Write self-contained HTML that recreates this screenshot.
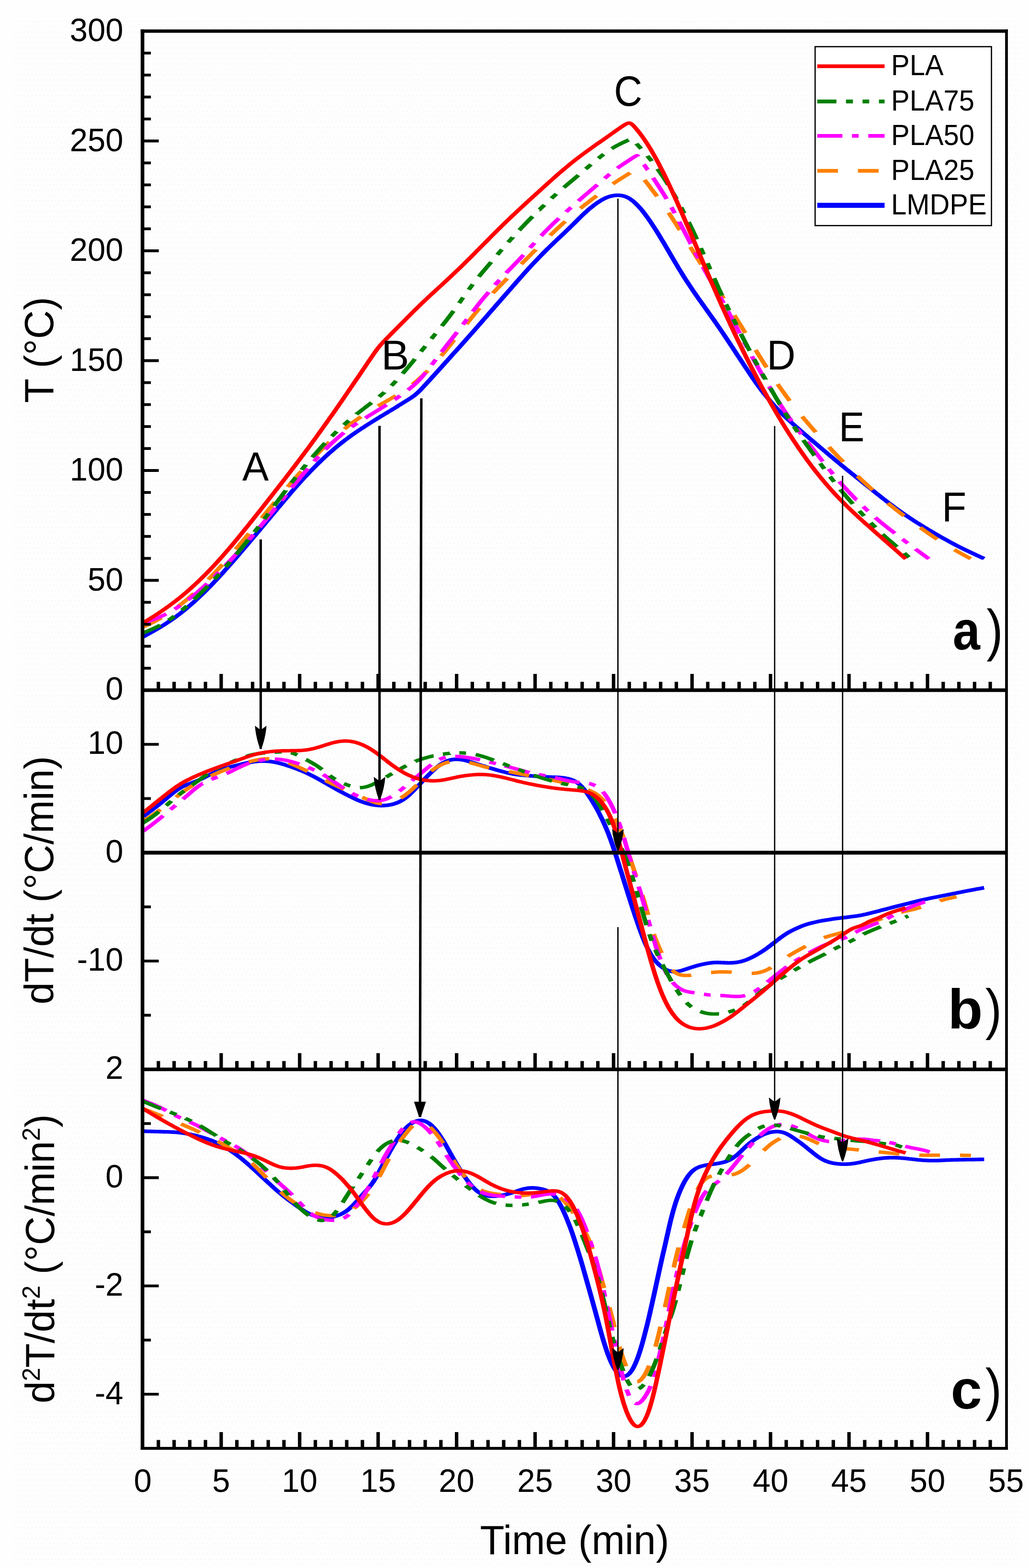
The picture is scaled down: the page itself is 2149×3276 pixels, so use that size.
<!DOCTYPE html>
<html lang="en">
<head>
<meta charset="utf-8">
<title>Temperature profiles</title>
<style>
html,body{margin:0;padding:0;background:#fff;}
body{width:2149px;height:3276px;overflow:hidden;font-family:"Liberation Sans",Arial,sans-serif;}
svg{display:block;}
</style>
</head>
<body>
<svg width="2149" height="3276" viewBox="0 0 2149 3276">
<defs>
<clipPath id="clipa"><path d="M297.6,65.0 H2102.0 V1169.6 H1500 V1442.0 H297.6 Z"/></clipPath>
<pattern id="dith" width="24.6" height="22" patternUnits="userSpaceOnUse">
<rect x="0" y="0" width="2.8" height="2.8" fill="#f9f6fa"/><rect x="8.2" y="0" width="2.8" height="2.8" fill="#f9f6fa"/><rect x="16.4" y="0" width="2.8" height="2.8" fill="#f9f6fa"/>
<rect x="4" y="11" width="2.8" height="2.8" fill="#f9f6fa"/><rect x="12.2" y="11" width="2.8" height="2.8" fill="#f9f6fa"/>
<rect x="20.4" y="6" width="2.8" height="2.8" fill="#f8fcf0"/>
</pattern>
<clipPath id="clipb"><rect x="297.6" y="1442.0" width="1804.4" height="792.3000000000002"/></clipPath>
<clipPath id="clipc"><rect x="297.6" y="2234.3" width="1804.4" height="791.6999999999998"/></clipPath>
</defs>
<rect width="2149" height="3276" fill="#fefefe"/>
<rect x="28" y="36" width="2102" height="3240" fill="url(#dith)"/>
<g clip-path="url(#clipa)"><g transform="scale(1.33,1)" fill="none" stroke-width="7.2" stroke-linejoin="round">
<path d="M224.5,1330.7 L226.0,1329.6 L227.5,1328.5 L229.0,1327.4 L230.5,1326.3 L232.0,1325.2 L233.5,1324.1 L235.0,1323.0 L236.5,1321.9 L238.0,1320.7 L239.5,1319.6 L241.1,1318.5 L242.6,1317.3 L244.1,1316.2 L245.6,1315.0 L247.1,1313.9 L248.6,1312.7 L250.1,1311.5 L251.6,1310.3 L253.1,1309.1 L254.6,1307.9 L256.1,1306.6 L257.6,1305.4 L259.1,1304.1 L260.6,1302.8 L262.1,1301.5 L263.6,1300.2 L265.1,1298.9 L266.6,1297.5 L268.1,1296.2 L269.6,1294.8 L271.1,1293.4 L272.6,1292.0 L274.1,1290.5 L275.6,1289.1 L277.1,1287.6 L278.6,1286.1 L280.2,1284.6 L281.7,1283.1 L283.2,1281.5 L284.7,1279.9 L286.2,1278.4 L287.7,1276.8 L289.2,1275.1 L290.7,1273.5 L292.2,1271.8 L293.7,1270.2 L295.2,1268.5 L296.7,1266.8 L298.2,1265.1 L299.7,1263.3 L301.2,1261.6 L302.7,1259.8 L304.2,1258.0 L305.7,1256.2 L307.2,1254.4 L308.7,1252.5 L310.2,1250.7 L311.7,1248.8 L313.2,1246.9 L314.7,1245.0 L316.2,1243.1 L317.7,1241.2 L319.2,1239.2 L320.8,1237.3 L322.3,1235.3 L323.8,1233.3 L325.3,1231.3 L326.8,1229.3 L328.3,1227.3 L329.8,1225.2 L331.3,1223.2 L332.8,1221.1 L334.3,1219.0 L335.8,1216.9 L337.3,1214.8 L338.8,1212.7 L340.3,1210.5 L341.8,1208.4 L343.3,1206.2 L344.8,1204.0 L346.3,1201.9 L347.8,1199.7 L349.3,1197.5 L350.8,1195.3 L352.3,1193.0 L353.8,1190.8 L355.3,1188.6 L356.8,1186.3 L358.3,1184.1 L359.8,1181.8 L361.4,1179.5 L362.9,1177.2 L364.4,1175.0 L365.9,1172.7 L367.4,1170.4 L368.9,1168.1 L370.4,1165.8 L371.9,1163.4 L373.4,1161.1 L374.9,1158.8 L376.4,1156.5 L377.9,1154.1 L379.4,1151.8 L380.9,1149.5 L382.4,1147.1 L383.9,1144.8 L385.4,1142.4 L386.9,1140.1 L388.4,1137.7 L389.9,1135.3 L391.4,1133.0 L392.9,1130.6 L394.4,1128.3 L395.9,1125.9 L397.4,1123.5 L398.9,1121.1 L400.5,1118.8 L402.0,1116.4 L403.5,1114.0 L405.0,1111.6 L406.5,1109.3 L408.0,1106.9 L409.5,1104.5 L411.0,1102.1 L412.5,1099.7 L414.0,1097.3 L415.5,1094.9 L417.0,1092.5 L418.5,1090.1 L420.0,1087.7 L421.5,1085.4 L423.0,1083.0 L424.5,1080.6 L426.0,1078.2 L427.5,1075.8 L429.0,1073.4 L430.5,1071.0 L432.0,1068.6 L433.5,1066.2 L435.0,1063.7 L436.5,1061.3 L438.0,1058.9 L439.5,1056.6 L441.1,1054.2 L442.6,1051.8 L444.1,1049.4 L445.6,1047.0 L447.1,1044.6 L448.6,1042.3 L450.1,1039.9 L451.6,1037.6 L453.1,1035.2 L454.6,1032.9 L456.1,1030.5 L457.6,1028.2 L459.1,1025.9 L460.6,1023.6 L462.1,1021.3 L463.6,1019.1 L465.1,1016.8 L466.6,1014.5 L468.1,1012.3 L469.6,1010.1 L471.1,1007.8 L472.6,1005.6 L474.1,1003.4 L475.6,1001.3 L477.1,999.1 L478.6,996.9 L480.2,994.8 L481.7,992.7 L483.2,990.6 L484.7,988.5 L486.2,986.4 L487.7,984.3 L489.2,982.2 L490.7,980.2 L492.2,978.2 L493.7,976.2 L495.2,974.2 L496.7,972.2 L498.2,970.2 L499.7,968.2 L501.2,966.3 L502.7,964.4 L504.2,962.4 L505.7,960.5 L507.2,958.7 L508.7,956.8 L510.2,954.9 L511.7,953.1 L513.2,951.3 L514.7,949.5 L516.2,947.7 L517.7,945.9 L519.2,944.1 L520.8,942.4 L522.3,940.7 L523.8,938.9 L525.3,937.2 L526.8,935.5 L528.3,933.9 L529.8,932.2 L531.3,930.6 L532.8,929.0 L534.3,927.4 L535.8,925.8 L537.3,924.2 L538.8,922.7 L540.3,921.1 L541.8,919.6 L543.3,918.1 L544.8,916.6 L546.3,915.1 L547.8,913.7 L549.3,912.2 L550.8,910.8 L552.3,909.3 L553.8,907.9 L555.3,906.5 L556.8,905.1 L558.3,903.8 L559.8,902.4 L561.4,901.0 L562.9,899.7 L564.4,898.3 L565.9,897.0 L567.4,895.7 L568.9,894.4 L570.4,893.1 L571.9,891.8 L573.4,890.5 L574.9,889.2 L576.4,887.9 L577.9,886.7 L579.4,885.4 L580.9,884.1 L582.4,882.9 L583.9,881.6 L585.4,880.4 L586.9,879.1 L588.4,877.9 L589.9,876.7 L591.4,875.4 L592.9,874.2 L594.4,873.0 L595.9,871.7 L597.4,870.5 L598.9,869.3 L600.5,868.1 L602.0,866.9 L603.5,865.7 L605.0,864.4 L606.5,863.2 L608.0,862.0 L609.5,860.8 L611.0,859.6 L612.5,858.4 L614.0,857.2 L615.5,856.0 L617.0,854.8 L618.5,853.6 L620.0,852.4 L621.5,851.2 L623.0,850.0 L624.5,848.5 L626.0,847.3 L627.5,846.1 L629.0,844.8 L630.5,843.6 L632.0,842.4 L633.5,841.2 L635.0,839.9 L636.5,838.7 L638.0,837.4 L639.5,836.2 L641.1,834.9 L642.6,833.6 L644.1,832.3 L645.6,831.0 L645.9,830.7 L646.2,830.4 L646.6,830.1 L647.0,829.7 L647.1,829.6 L647.4,829.4 L647.7,829.0 L648.1,828.7 L648.5,828.3 L648.6,828.2 L648.9,828.0 L649.2,827.6 L649.6,827.2 L650.0,826.9 L650.1,826.8 L650.4,826.5 L650.8,826.1 L651.1,825.7 L651.5,825.3 L651.6,825.3 L651.9,824.9 L652.3,824.5 L652.6,824.1 L653.0,823.7 L653.1,823.6 L653.4,823.3 L653.8,822.9 L654.1,822.4 L654.5,822.0 L654.6,821.9 L654.9,821.6 L655.3,821.1 L655.6,820.6 L656.0,820.2 L656.1,820.1 L656.4,819.7 L656.8,819.2 L657.1,818.8 L657.5,818.3 L657.6,818.2 L657.9,817.8 L658.3,817.3 L658.6,816.8 L659.0,816.3 L659.1,816.2 L659.4,815.8 L659.8,815.3 L660.2,814.8 L660.5,814.3 L660.6,814.2 L660.9,813.7 L661.3,813.2 L661.7,812.7 L662.0,812.2 L662.1,812.1 L662.4,811.7 L662.8,811.1 L663.2,810.6 L663.5,810.1 L663.6,810.0 L663.9,809.5 L664.3,809.0 L664.7,808.5 L665.0,807.9 L665.1,807.8 L665.4,807.4 L665.8,806.9 L666.2,806.3 L666.5,805.8 L666.6,805.7 L666.9,805.3 L667.3,804.7 L667.7,804.2 L668.0,803.6 L668.1,803.5 L668.4,803.1 L668.8,802.6 L669.2,802.0 L669.5,801.5 L669.6,801.4 L669.9,800.9 L670.3,800.4 L670.7,799.8 L671.1,799.3 L671.1,799.2 L671.4,798.7 L671.8,798.2 L672.2,797.7 L672.6,797.1 L672.6,797.0 L672.9,796.6 L673.3,796.0 L673.7,795.5 L674.1,794.9 L674.1,794.8 L674.4,794.4 L674.8,793.8 L675.2,793.3 L675.6,792.7 L675.6,792.6 L675.9,792.2 L676.3,791.6 L676.7,791.1 L677.1,790.5 L677.1,790.4 L677.4,790.0 L677.8,789.4 L678.2,788.9 L678.6,788.3 L678.6,788.2 L678.9,787.8 L679.3,787.2 L679.7,786.7 L680.1,786.1 L680.2,786.0 L680.5,785.6 L680.8,785.0 L681.2,784.5 L681.6,783.9 L681.7,783.8 L682.0,783.4 L682.3,782.8 L682.7,782.3 L683.1,781.7 L683.2,781.6 L683.5,781.2 L683.8,780.6 L684.2,780.1 L684.6,779.5 L684.7,779.4 L685.0,779.0 L685.3,778.4 L685.7,777.8 L686.1,777.3 L686.2,777.2 L686.5,776.7 L686.8,776.2 L687.2,775.6 L687.6,775.1 L687.7,775.0 L688.0,774.5 L688.3,774.0 L688.7,773.4 L689.1,772.9 L689.2,772.8 L689.5,772.3 L689.8,771.8 L690.2,771.2 L690.6,770.7 L690.7,770.5 L692.2,768.3 L693.7,766.1 L695.2,763.9 L696.7,761.7 L698.2,759.4 L699.7,757.2 L701.2,755.0 L702.7,752.8 L704.2,750.5 L705.7,748.3 L707.2,746.1 L708.7,743.9 L710.2,741.6 L711.7,739.4 L713.2,737.2 L714.7,735.1 L716.2,732.8 L717.7,730.6 L719.2,728.4 L720.8,726.1 L722.3,723.9 L723.8,721.7 L725.3,719.4 L726.8,717.2 L728.3,714.9 L729.8,712.7 L731.3,710.4 L732.8,708.2 L734.3,705.9 L735.8,703.7 L737.3,701.4 L738.8,699.2 L740.3,696.9 L741.8,694.6 L743.3,692.4 L744.8,690.1 L746.3,687.8 L747.8,685.5 L749.3,683.3 L750.8,681.0 L752.3,678.7 L753.8,676.4 L755.3,674.1 L756.8,671.8 L758.3,669.5 L759.8,667.2 L761.4,664.9 L762.9,662.6 L764.4,660.3 L765.9,658.0 L767.4,655.7 L768.9,653.4 L770.4,651.2 L771.9,648.9 L773.4,646.6 L774.9,644.3 L776.4,642.0 L777.9,639.7 L779.4,637.4 L780.9,635.2 L782.4,632.9 L783.9,630.6 L785.4,628.3 L786.9,626.0 L788.4,623.7 L789.9,621.5 L791.4,619.2 L792.9,616.9 L794.4,614.6 L795.9,612.3 L797.4,610.0 L798.9,607.7 L800.5,605.4 L802.0,603.1 L803.5,600.8 L805.0,598.5 L806.5,596.2 L808.0,594.0 L809.5,591.7 L811.0,589.4 L812.5,587.2 L814.0,584.9 L815.5,582.6 L817.0,580.4 L818.5,578.1 L820.0,575.9 L821.5,573.7 L823.0,571.4 L824.5,569.2 L826.0,567.0 L827.5,564.8 L829.0,562.6 L830.5,560.4 L832.0,558.2 L833.5,556.1 L835.0,553.9 L836.5,551.7 L838.0,549.6 L839.5,547.5 L841.1,545.4 L842.6,543.3 L844.1,541.2 L845.6,539.1 L847.1,537.0 L848.6,535.0 L850.1,532.9 L851.6,530.9 L853.1,528.9 L854.6,526.9 L856.1,524.9 L857.6,522.9 L859.1,520.9 L860.6,518.9 L862.1,517.0 L863.6,515.0 L865.1,513.1 L866.6,511.2 L868.1,509.3 L869.6,507.3 L871.1,505.4 L872.6,503.5 L874.1,501.6 L875.6,499.7 L877.1,497.8 L878.6,496.0 L880.2,494.1 L881.7,492.2 L883.2,490.3 L884.7,488.4 L886.2,486.5 L887.7,484.6 L889.2,482.7 L890.7,480.7 L892.2,478.8 L893.7,476.9 L895.2,474.9 L896.7,473.0 L898.2,471.0 L899.7,469.0 L901.2,467.1 L902.7,465.1 L904.2,463.1 L905.7,461.1 L907.2,459.1 L908.7,457.1 L910.2,455.2 L911.7,453.2 L913.2,451.2 L914.7,449.3 L916.2,447.4 L917.7,445.5 L919.2,443.7 L920.8,441.9 L922.3,440.1 L923.8,438.3 L925.3,436.6 L926.8,434.9 L928.3,433.3 L929.8,431.7 L931.3,430.2 L932.8,428.6 L934.3,427.1 L935.8,425.7 L937.3,424.3 L938.8,422.9 L940.3,421.6 L941.8,420.3 L943.3,419.1 L944.8,417.9 L946.3,416.8 L947.8,415.7 L949.3,414.7 L950.8,413.8 L952.3,412.9 L953.8,412.1 L955.3,411.4 L956.8,410.7 L958.3,410.1 L959.8,409.6 L961.4,409.2 L962.9,408.8 L964.4,408.5 L965.9,408.3 L967.4,408.1 L968.9,408.0 L970.4,408.0 L971.9,408.0 L973.4,408.2 L974.9,408.4 L976.4,408.7 L977.9,409.1 L979.4,409.6 L980.9,410.2 L982.4,410.9 L983.9,411.8 L985.4,412.7 L986.9,413.7 L988.4,414.9 L989.9,416.2 L991.4,417.6 L992.9,419.0 L994.4,420.6 L995.9,422.3 L997.4,424.2 L998.9,426.1 L1000.5,428.1 L1002.0,430.2 L1003.5,432.3 L1005.0,434.6 L1006.5,436.9 L1008.0,439.3 L1009.5,441.8 L1011.0,444.3 L1012.5,446.9 L1014.0,449.6 L1015.5,452.3 L1017.0,455.0 L1018.5,457.8 L1020.0,460.7 L1021.5,463.6 L1023.0,466.6 L1024.5,469.6 L1026.0,472.6 L1027.5,475.7 L1029.0,478.8 L1030.5,481.9 L1032.0,485.1 L1033.5,488.4 L1035.0,491.6 L1036.5,494.9 L1038.0,498.2 L1039.5,501.6 L1041.1,504.9 L1042.6,508.3 L1044.1,511.7 L1045.6,515.1 L1047.1,518.5 L1048.6,521.9 L1050.1,525.3 L1051.6,528.8 L1053.1,532.2 L1054.6,535.6 L1056.1,539.0 L1057.6,542.4 L1059.1,545.8 L1060.6,549.2 L1062.1,552.5 L1063.6,555.8 L1065.1,559.2 L1066.6,562.5 L1068.1,565.7 L1069.6,569.0 L1071.1,572.2 L1072.6,575.4 L1074.1,578.6 L1075.6,581.8 L1077.1,584.9 L1078.6,588.0 L1080.2,591.1 L1081.7,594.1 L1083.2,597.1 L1084.7,600.1 L1086.2,603.1 L1087.7,606.1 L1089.2,609.0 L1090.7,611.9 L1092.2,614.8 L1093.7,617.7 L1095.2,620.5 L1096.7,623.4 L1098.2,626.2 L1099.7,629.0 L1101.2,631.8 L1102.7,634.6 L1104.2,637.4 L1105.7,640.2 L1107.2,643.0 L1108.7,645.8 L1110.2,648.6 L1111.7,651.4 L1113.2,654.2 L1114.7,657.0 L1116.2,659.8 L1117.7,662.6 L1119.2,665.4 L1120.8,668.3 L1122.3,671.1 L1123.8,674.0 L1125.3,676.9 L1126.8,679.8 L1128.3,682.7 L1129.8,685.6 L1131.3,688.5 L1132.8,691.4 L1134.3,694.4 L1135.8,697.3 L1137.3,700.3 L1138.8,703.3 L1140.3,706.2 L1141.8,709.2 L1143.3,712.2 L1144.8,715.2 L1146.3,718.2 L1147.8,721.3 L1149.3,724.3 L1150.8,727.3 L1152.3,730.4 L1153.8,733.4 L1155.3,736.5 L1156.8,739.5 L1158.3,742.6 L1159.8,745.6 L1161.4,748.7 L1162.9,751.7 L1164.4,754.8 L1165.9,757.8 L1167.4,760.9 L1168.9,763.9 L1170.4,766.9 L1171.9,769.9 L1173.4,772.9 L1174.9,775.9 L1176.4,778.9 L1177.9,781.9 L1179.4,784.8 L1180.9,787.8 L1182.4,790.7 L1183.9,793.6 L1185.4,796.4 L1186.9,799.3 L1188.4,802.1 L1189.9,804.9 L1191.4,807.6 L1192.9,810.4 L1194.4,813.0 L1195.9,815.7 L1197.4,818.3 L1198.9,820.9 L1200.5,823.4 L1202.0,825.9 L1203.5,828.4 L1205.0,830.8 L1206.5,833.2 L1208.0,835.6 L1209.5,838.0 L1211.0,840.3 L1212.5,842.6 L1214.0,844.8 L1215.5,847.1 L1217.0,849.3 L1218.5,851.4 L1220.0,853.6 L1221.5,855.7 L1223.0,857.7 L1224.5,859.8 L1226.0,861.8 L1227.5,863.8 L1229.0,865.8 L1230.5,867.7 L1232.0,869.6 L1233.5,871.5 L1235.0,873.4 L1236.5,875.2 L1238.0,877.1 L1239.5,878.9 L1241.1,880.8 L1242.6,882.6 L1244.1,884.4 L1245.6,886.2 L1247.1,888.0 L1248.6,889.7 L1250.1,891.5 L1251.6,893.3 L1253.1,895.0 L1254.6,896.8 L1256.1,898.5 L1257.6,900.3 L1259.1,902.0 L1260.6,903.7 L1262.1,905.5 L1263.6,907.2 L1265.1,908.9 L1266.6,910.6 L1268.1,912.3 L1269.6,914.0 L1271.1,915.7 L1272.6,917.4 L1274.1,919.1 L1275.6,920.8 L1277.1,922.5 L1278.6,924.2 L1280.2,925.9 L1281.7,927.6 L1283.2,929.3 L1284.7,931.0 L1286.2,932.7 L1287.7,934.4 L1289.2,936.1 L1290.7,937.8 L1292.2,939.5 L1293.7,941.1 L1295.2,942.8 L1296.7,944.5 L1298.2,946.2 L1299.7,947.9 L1301.2,949.6 L1302.7,951.3 L1304.2,952.9 L1305.7,954.6 L1307.2,956.3 L1308.7,958.0 L1310.2,959.7 L1311.7,961.3 L1313.2,963.0 L1314.7,964.7 L1316.2,966.3 L1317.7,968.0 L1319.2,969.6 L1320.8,971.3 L1322.3,972.9 L1323.8,974.6 L1325.3,976.2 L1326.8,977.8 L1328.3,979.5 L1329.8,981.1 L1331.3,982.7 L1332.8,984.3 L1334.3,985.9 L1335.8,987.5 L1337.3,989.1 L1338.8,990.7 L1340.3,992.3 L1341.8,994.0 L1343.3,995.6 L1344.8,997.2 L1346.3,998.8 L1347.8,1000.4 L1349.3,1002.0 L1350.8,1003.6 L1352.3,1005.3 L1353.8,1006.9 L1355.3,1008.5 L1356.8,1010.1 L1358.3,1011.7 L1359.8,1013.3 L1361.4,1014.9 L1362.9,1016.5 L1364.4,1018.1 L1365.9,1019.7 L1367.4,1021.3 L1368.9,1022.9 L1370.4,1024.5 L1371.9,1026.1 L1373.4,1027.7 L1374.9,1029.3 L1376.4,1030.9 L1377.9,1032.5 L1379.4,1034.0 L1380.9,1035.6 L1382.4,1037.2 L1383.9,1038.7 L1385.4,1040.3 L1386.9,1041.9 L1388.4,1043.4 L1389.9,1044.9 L1391.4,1046.5 L1392.9,1048.0 L1394.4,1049.6 L1395.9,1051.1 L1397.4,1052.6 L1398.9,1054.1 L1400.5,1055.6 L1402.0,1057.1 L1403.5,1058.6 L1405.0,1060.1 L1406.5,1061.6 L1408.0,1063.1 L1409.5,1064.5 L1411.0,1066.0 L1412.5,1067.4 L1414.0,1068.8 L1415.5,1070.2 L1417.0,1071.7 L1418.5,1073.0 L1420.0,1074.4 L1421.5,1075.8 L1423.0,1077.2 L1424.5,1078.5 L1426.0,1079.9 L1427.5,1081.2 L1429.0,1082.5 L1430.5,1083.9 L1432.0,1085.2 L1433.5,1086.5 L1435.0,1087.8 L1436.5,1089.1 L1438.0,1090.3 L1439.5,1091.6 L1441.1,1092.9 L1442.6,1094.1 L1444.1,1095.4 L1445.6,1096.6 L1447.1,1097.9 L1448.6,1099.1 L1450.1,1100.3 L1451.6,1101.6 L1453.1,1102.8 L1454.6,1104.0 L1456.1,1105.2 L1457.6,1106.4 L1459.1,1107.6 L1460.6,1108.8 L1462.1,1110.0 L1463.6,1111.1 L1465.1,1112.3 L1466.6,1113.5 L1468.1,1114.7 L1469.6,1115.8 L1471.1,1117.0 L1472.6,1118.1 L1474.1,1119.3 L1475.6,1120.4 L1477.1,1121.6 L1478.6,1122.7 L1480.2,1123.9 L1481.7,1125.0 L1483.2,1126.1 L1484.7,1127.2 L1486.2,1128.3 L1487.7,1129.4 L1489.2,1130.5 L1490.7,1131.6 L1492.2,1132.7 L1493.7,1133.8 L1495.2,1134.8 L1496.7,1135.9 L1498.2,1137.0 L1499.7,1138.0 L1501.2,1139.1 L1502.7,1140.1 L1504.2,1141.1 L1505.7,1142.1 L1507.2,1143.1 L1508.7,1144.1 L1510.2,1145.1 L1511.7,1146.1 L1513.2,1147.1 L1514.7,1148.1 L1516.2,1149.1 L1517.7,1150.0 L1519.2,1151.0 L1520.8,1151.9 L1522.3,1152.9 L1523.8,1153.8 L1525.3,1154.8 L1526.8,1155.7 L1528.3,1156.7 L1529.8,1157.6 L1531.3,1158.5 L1532.8,1159.5 L1534.3,1160.4 L1535.8,1161.3 L1537.3,1162.2 L1538.8,1163.2 L1540.3,1164.1 L1541.8,1165.0 L1543.3,1165.9 L1544.8,1166.8 L1545.4,1167.2" stroke="#0000ff" stroke-width="7.6"/>
<path d="M224.5,1309.8 L226.0,1308.9 L227.5,1308.0 L229.0,1307.1 L230.5,1306.2 L232.0,1305.3 L233.5,1304.4 L235.0,1303.5 L236.5,1302.5 L238.0,1301.5 L239.5,1300.6 L241.1,1299.6 L242.6,1298.5 L244.1,1297.5 L245.6,1296.4 L247.1,1295.3 L248.6,1294.2 L250.1,1293.1 L251.6,1292.0 L253.1,1290.8 L253.5,1290.5 M279.6,1267.2 L280.2,1266.6 L281.7,1265.1 L283.2,1263.6 L284.7,1262.0 L286.2,1260.5 L287.7,1258.9 L289.2,1257.3 L290.7,1255.6 L292.2,1254.0 L293.7,1252.3 L295.2,1250.7 L296.7,1249.0 L298.2,1247.2 L299.7,1245.5 L301.2,1243.8 L302.7,1242.0 L304.2,1240.2 L304.6,1239.7 M327.1,1210.8 L328.3,1209.2 L329.8,1207.2 L331.3,1205.1 L332.8,1203.0 L334.3,1200.9 L335.8,1198.8 L337.3,1196.6 L338.8,1194.5 L340.3,1192.3 L341.8,1190.2 L343.3,1188.0 L344.8,1185.8 L346.3,1183.6 L347.8,1181.4 L349.3,1179.2 M369.9,1147.8 L370.4,1147.1 L371.9,1144.8 L373.4,1142.4 L374.9,1140.1 L376.4,1137.7 L377.9,1135.3 L379.4,1132.9 L380.9,1130.6 L382.4,1128.2 L383.9,1125.8 L385.4,1123.4 L386.9,1121.0 L388.4,1118.6 L389.9,1116.2 L390.8,1114.7 M410.8,1082.6 L411.0,1082.3 L412.5,1079.9 L414.0,1077.4 L415.5,1075.0 L417.0,1072.6 L418.5,1070.2 L420.0,1067.7 L421.5,1065.3 L423.0,1062.9 L424.5,1060.5 L426.0,1058.0 L427.5,1055.6 L429.0,1053.2 L430.5,1050.8 L431.5,1049.3 M451.7,1017.4 L453.1,1015.2 L454.6,1012.9 L456.1,1010.5 L457.6,1008.2 L459.1,1005.9 L460.6,1003.6 L462.1,1001.3 L463.6,999.0 L465.1,996.7 L466.6,994.4 L468.1,992.2 L469.6,989.9 L471.1,987.6 L472.6,985.4 L473.0,984.8 M494.2,954.1 L495.2,952.7 L496.7,950.6 L498.2,948.6 L499.7,946.5 L501.2,944.5 L502.7,942.4 L504.2,940.4 L505.7,938.4 L507.2,936.4 L508.7,934.5 L510.2,932.5 L511.7,930.6 L513.2,928.7 L514.7,926.8 L516.2,924.9 L517.3,923.6 M540.9,896.3 L541.8,895.3 L543.3,893.7 L544.8,892.1 L546.3,890.5 L547.8,889.0 L549.3,887.4 L550.8,885.9 L552.3,884.4 L553.8,882.9 L555.3,881.4 L556.8,880.0 L558.3,878.5 L559.8,877.1 L561.4,875.7 L562.9,874.3 L564.4,872.9 L565.9,871.5 L567.0,870.5 M593.5,848.3 L594.4,847.6 L595.9,846.4 L597.4,845.3 L598.9,844.1 L600.5,843.0 L602.0,841.8 L603.5,840.7 L605.0,839.5 L606.5,838.4 L608.0,837.3 L609.5,836.1 L611.0,835.0 L612.5,833.8 L614.0,832.7 L615.5,831.5 L617.0,830.4 L618.5,829.2 L620.0,828.0 L621.5,826.8 L621.6,826.7 M647.5,803.2 L648.6,802.1 L650.1,800.6 L651.6,798.9 L653.1,797.3 L654.6,795.6 L656.1,793.9 L657.6,792.2 L659.1,790.4 L660.6,788.6 L662.1,786.8 L663.6,784.9 L665.1,783.0 L666.6,781.1 L668.1,779.2 L669.6,777.2 L671.1,775.2 L671.7,774.4 M692.8,743.6 L693.7,742.1 L695.2,739.8 L696.7,737.4 L698.2,735.0 L699.7,732.6 L701.2,730.2 L702.7,727.7 L704.2,725.3 L705.7,722.8 L707.2,720.3 L708.7,717.8 L710.2,715.3 L711.7,712.8 L713.2,710.2 L713.3,710.1 M732.5,677.1 L732.8,676.6 L734.3,674.1 L735.8,671.5 L737.3,669.0 L738.8,666.6 L740.3,664.1 L741.8,661.6 L743.3,659.2 L744.8,656.7 L746.3,654.3 L747.8,651.9 L749.3,649.5 L750.8,647.1 L752.3,644.8 L753.0,643.7 M773.9,612.5 L774.9,611.1 L776.4,609.0 L777.9,606.9 L779.4,604.8 L780.9,602.7 L782.4,600.7 L783.9,598.6 L785.4,596.6 L786.9,594.6 L788.4,592.6 L789.9,590.6 L791.4,588.6 L792.9,586.5 L794.4,584.5 L795.9,582.5 L796.6,581.6 M818.5,551.8 L820.0,549.9 L821.5,547.9 L823.0,545.9 L824.5,543.9 L826.0,541.9 L827.5,539.9 L829.0,537.9 L830.5,535.9 L832.0,533.9 L833.5,531.9 L835.0,529.9 L836.5,527.9 L838.0,525.9 L839.5,523.9 L841.1,521.9 L841.5,521.3 M863.8,491.9 L865.1,490.2 L866.6,488.3 L868.1,486.4 L869.6,484.6 L871.1,482.7 L872.6,480.8 L874.1,479.0 L875.6,477.1 L877.1,475.2 L878.6,473.4 L880.2,471.5 L881.7,469.7 L883.2,467.8 L884.7,466.0 L886.2,464.2 L887.5,462.5 M911.3,435.4 L911.7,435.0 L913.2,433.4 L914.7,431.8 L916.2,430.2 L917.7,428.6 L919.2,427.1 L920.8,425.5 L922.3,424.0 L923.8,422.4 L925.3,420.9 L926.8,419.4 L928.3,417.8 L929.8,416.3 L931.3,414.8 L932.8,413.3 L934.3,411.7 L935.8,410.2 L937.0,408.9 M962.3,384.2 L962.9,383.7 L964.4,382.4 L965.9,381.0 L967.4,379.7 L968.9,378.4 L970.4,377.1 L971.9,375.8 L973.4,374.5 L974.4,373.6 L974.8,373.3 L974.9,373.3 L975.2,373.0 L975.6,372.7 L975.9,372.4 L976.3,372.1 L976.4,372.0 L976.7,371.8 L977.1,371.5 L977.4,371.1 L977.8,370.8 L977.9,370.8 L978.2,370.5 L978.6,370.2 L978.9,369.9 L979.3,369.6 L979.4,369.5 L979.7,369.3 L980.1,369.0 L980.5,368.7 L980.8,368.4 L980.9,368.3 L981.2,368.0 L981.6,367.7 L982.0,367.4 L982.3,367.1 L982.4,367.1 L982.7,366.8 L983.1,366.5 L983.5,366.2 L983.8,365.9 L983.9,365.8 L984.2,365.6 L984.6,365.3 L985.0,365.0 L985.3,364.7 L985.4,364.6 L985.7,364.4 L986.1,364.1 L986.5,363.8 L986.8,363.5 L986.9,363.4 L987.2,363.2 L987.6,362.9 L988.0,362.6 L988.3,362.3 L988.4,362.2 L988.7,362.0 L989.1,361.7 L989.5,361.4 L989.7,361.2 M1012.2,375.8 L1012.4,376.2 L1012.5,376.3 L1012.8,376.8 L1013.2,377.5 L1013.5,378.2 L1013.9,378.8 L1014.0,379.0 L1014.3,379.5 L1014.7,380.2 L1015.0,380.9 L1015.4,381.5 L1015.5,381.7 L1015.8,382.2 L1016.2,382.9 L1016.5,383.5 L1016.9,384.2 L1017.0,384.3 L1017.3,384.8 L1017.7,385.5 L1018.0,386.2 L1018.4,386.8 L1018.5,387.0 L1018.8,387.5 L1019.2,388.1 L1020.0,389.6 L1021.5,392.2 L1023.0,394.9 L1024.5,397.5 L1026.0,400.1 L1027.5,402.8 L1029.0,405.4 L1030.5,408.1 L1031.8,410.3 M1049.8,444.4 L1050.1,444.9 L1051.6,447.9 L1053.1,450.9 L1054.6,453.9 L1056.1,457.0 L1057.6,460.1 L1059.1,463.2 L1060.6,466.3 L1062.1,469.4 L1063.6,472.5 L1065.1,475.7 L1066.6,478.8 L1067.5,480.6 M1084.0,516.0 L1084.7,517.4 L1086.2,520.6 L1087.7,523.8 L1089.2,527.0 L1090.7,530.2 L1092.2,533.4 L1093.7,536.6 L1095.2,539.7 L1096.7,542.9 L1098.2,546.0 L1099.7,549.2 L1101.2,552.3 L1101.3,552.6 M1118.5,587.5 L1119.2,588.9 L1120.8,591.9 L1122.3,594.9 L1123.8,597.9 L1125.3,601.0 L1126.8,604.0 L1128.3,607.0 L1129.8,610.0 L1131.3,613.1 L1132.8,616.1 L1134.3,619.2 L1135.8,622.3 L1136.4,623.5 M1153.2,658.7 L1153.8,660.1 L1155.3,663.3 L1156.8,666.5 L1158.3,669.8 L1159.8,673.0 L1161.4,676.3 L1162.9,679.5 L1164.4,682.8 L1165.9,686.1 L1167.4,689.3 L1168.9,692.6 L1170.2,695.6 M1186.5,731.1 L1186.9,731.9 L1188.4,735.2 L1189.9,738.4 L1191.4,741.7 L1192.9,744.9 L1194.4,748.1 L1195.9,751.3 L1197.4,754.5 L1198.9,757.6 L1200.5,760.8 L1202.0,763.9 L1203.5,767.1 L1203.8,767.7 M1221.1,802.5 L1221.5,803.2 L1223.0,806.1 L1224.5,809.0 L1226.0,811.8 L1227.5,814.6 L1229.0,817.4 L1230.5,820.2 L1232.0,823.0 L1233.5,825.7 L1235.0,828.4 L1236.5,831.1 L1238.0,833.8 L1239.5,836.5 L1240.1,837.5 M1259.7,870.2 L1260.6,871.7 L1262.1,874.1 L1263.6,876.4 L1265.1,878.8 L1266.6,881.1 L1268.1,883.5 L1269.6,885.8 L1271.1,888.1 L1272.6,890.4 L1274.1,892.7 L1275.6,895.0 L1277.1,897.3 L1278.6,899.6 L1280.2,901.8 L1280.9,902.9 M1301.8,933.9 L1302.7,935.2 L1304.2,937.4 L1305.7,939.6 L1307.2,941.7 L1308.7,943.8 L1310.2,945.9 L1311.7,948.0 L1313.2,950.1 L1314.7,952.2 L1316.2,954.3 L1317.7,956.3 L1319.2,958.4 L1320.8,960.4 L1322.3,962.5 L1323.8,964.5 L1324.2,965.1 M1346.5,994.5 L1347.8,996.2 L1349.3,998.1 L1350.8,1000.0 L1352.3,1001.9 L1353.8,1003.8 L1355.3,1005.6 L1356.8,1007.5 L1358.3,1009.3 L1359.8,1011.2 L1361.4,1013.0 L1362.9,1014.8 L1364.4,1016.6 L1365.9,1018.4 L1367.4,1020.2 L1368.9,1022.0 L1370.4,1023.8 M1394.1,1051.1 L1394.4,1051.5 L1395.9,1053.2 L1397.4,1054.8 L1398.9,1056.4 L1400.5,1058.0 L1402.0,1059.6 L1403.5,1061.2 L1405.0,1062.8 L1406.5,1064.4 L1408.0,1065.9 L1409.5,1067.5 L1411.0,1069.0 L1412.5,1070.6 L1414.0,1072.1 L1415.5,1073.6 L1417.0,1075.1 L1418.5,1076.6 L1419.6,1077.7 M1445.0,1102.3 L1445.6,1102.8 L1447.1,1104.2 L1448.6,1105.7 L1450.1,1107.1 L1451.6,1108.5 L1453.1,1109.9 L1454.6,1111.3 L1456.1,1112.7 L1457.6,1114.0 L1459.1,1115.4 L1460.6,1116.8 L1462.1,1118.2 L1463.6,1119.5 L1465.1,1120.9 L1466.6,1122.2 L1468.1,1123.6 L1469.6,1124.9 L1471.1,1126.2 L1471.7,1126.8 M1498.5,1148.5 L1499.7,1149.4 L1501.2,1150.5 L1502.7,1151.6 L1504.2,1152.7 L1505.7,1153.9 L1507.2,1155.0 L1508.7,1156.1 L1510.2,1157.2 L1511.7,1158.3 L1513.2,1159.4 L1514.7,1160.5 L1516.2,1161.6 L1517.7,1162.7 L1519.2,1163.8 L1520.8,1164.9 L1522.3,1166.0 L1523.8,1167.1 L1524.3,1167.5" stroke="#ff8000"/>
<path d="M224.5,1302.0 L226.0,1301.4 L227.5,1300.7 L229.0,1300.0 L230.5,1299.3 L232.0,1298.6 L233.5,1297.9 L235.0,1297.2 L236.5,1296.5 L238.0,1295.8 L239.5,1295.1 L241.1,1294.3 L242.6,1293.6 L244.1,1292.8 L245.6,1292.0 L247.1,1291.2 L248.6,1290.3 L250.1,1289.5 L251.6,1288.6 L253.1,1287.7 L254.6,1286.8 L256.1,1285.9 L257.6,1284.9 L259.1,1283.9 L260.6,1282.9 L261.1,1282.6 M274.2,1272.7 L275.6,1271.6 L277.1,1270.3 L278.6,1269.0 L280.2,1267.7 L281.7,1266.4 L283.1,1265.1 M295.2,1253.3 L296.7,1251.8 L298.2,1250.3 L299.7,1248.7 L301.2,1247.1 L302.7,1245.4 L304.2,1243.8 L305.7,1242.1 L307.2,1240.5 L308.7,1238.8 L310.2,1237.1 L311.7,1235.3 L313.2,1233.6 L314.7,1231.9 L316.2,1230.1 L317.7,1228.3 L319.2,1226.5 L320.8,1224.7 L322.3,1222.9 L323.8,1221.1 L325.2,1219.2 M336.1,1205.5 L337.3,1204.0 L338.8,1202.0 L340.3,1200.0 L341.8,1198.0 L343.3,1196.0 L343.6,1195.6 M354.1,1181.3 L355.3,1179.6 L356.8,1177.5 L358.3,1175.4 L359.8,1173.3 L361.4,1171.2 L362.9,1169.1 L364.4,1166.9 L365.9,1164.8 L367.4,1162.6 L368.9,1160.5 L370.4,1158.3 L371.9,1156.1 L373.4,1154.0 L374.9,1151.8 L376.4,1149.6 L377.9,1147.4 L379.4,1145.2 L380.9,1142.9 L381.0,1142.8 M391.0,1127.8 L391.4,1127.1 L392.9,1124.8 L394.4,1122.5 L395.9,1120.1 L397.4,1117.8 L397.8,1117.2 M407.6,1101.9 L408.0,1101.2 L409.5,1098.8 L411.0,1096.4 L412.5,1094.0 L414.0,1091.6 L415.5,1089.2 L417.0,1086.7 L418.5,1084.3 L420.0,1081.8 L421.5,1079.4 L423.0,1076.9 L424.5,1074.5 L426.0,1072.0 L427.5,1069.6 L429.0,1067.1 L430.5,1064.6 L432.0,1062.2 L432.6,1061.3 M442.0,1045.7 L442.6,1044.8 L444.1,1042.3 L445.6,1039.8 L447.1,1037.4 L448.6,1034.9 L448.6,1034.8 M458.1,1019.2 L459.1,1017.6 L460.6,1015.2 L462.1,1012.7 L463.6,1010.3 L465.1,1007.9 L466.6,1005.4 L468.1,1003.0 L469.6,1000.6 L471.1,998.2 L472.6,995.8 L474.1,993.4 L475.6,991.0 L477.1,988.7 L478.6,986.3 L480.2,984.0 L481.7,981.6 L483.2,979.3 L483.4,978.9 M493.4,963.9 L493.7,963.4 L495.2,961.2 L496.7,959.0 L498.2,956.8 L499.7,954.7 L500.5,953.6 M510.9,939.1 L511.7,938.0 L513.2,936.0 L514.7,934.0 L516.2,932.0 L517.7,930.1 L519.2,928.2 L520.8,926.3 L522.3,924.4 L523.8,922.6 L525.3,920.8 L526.8,919.0 L528.3,917.2 L529.8,915.4 L531.3,913.7 L532.8,912.0 L534.3,910.3 L535.8,908.6 L537.3,907.0 L538.8,905.4 L540.2,903.9 M552.2,892.0 L552.3,891.9 L553.8,890.5 L555.3,889.1 L556.8,887.7 L558.3,886.4 L559.8,885.0 L560.9,884.1 M573.6,873.3 L574.9,872.3 L576.4,871.0 L577.9,869.8 L579.4,868.6 L580.9,867.3 L582.4,866.1 L583.9,864.9 L585.4,863.7 L586.9,862.4 L588.4,861.2 L589.9,860.0 L591.4,858.8 L592.9,857.6 L594.4,856.3 L595.9,855.1 L597.4,853.9 L598.9,852.6 L600.5,851.4 L602.0,850.1 L603.5,848.9 L605.0,847.6 L606.5,846.3 L607.2,845.7 M619.7,834.7 L620.0,834.5 L621.5,833.1 L623.0,831.7 L624.5,830.4 L626.0,829.0 L627.5,827.6 L628.4,826.8 M640.6,814.9 L641.1,814.4 L642.6,812.8 L644.1,811.2 L645.6,809.6 L647.1,807.9 L648.6,806.2 L650.1,804.4 L651.6,802.6 L653.1,800.8 L654.6,798.9 L656.1,796.9 L657.6,794.9 L659.1,792.8 L660.6,790.6 L662.1,788.4 L663.6,786.1 L665.1,783.8 L666.6,781.4 L668.1,779.0 L668.6,778.2 M677.9,762.4 L678.6,761.0 L680.2,758.4 L681.7,755.7 L683.2,753.1 L684.2,751.2 M693.4,735.3 L693.7,734.8 L695.2,732.2 L696.7,729.6 L698.2,727.1 L699.7,724.5 L701.2,722.0 L702.7,719.4 L704.2,716.9 L705.7,714.3 L707.2,711.8 L708.7,709.2 L710.2,706.7 L711.7,704.1 L713.2,701.6 L714.7,699.0 L716.2,696.5 L717.7,693.9 M726.9,678.1 L728.3,675.7 L729.8,673.1 L731.3,670.5 L732.8,667.8 L733.3,667.0 M742.4,651.0 L743.3,649.5 L744.8,646.9 L746.3,644.3 L747.8,641.8 L749.3,639.2 L750.8,636.7 L752.3,634.2 L753.8,631.7 L755.3,629.2 L756.8,626.8 L758.3,624.4 L759.8,621.9 L761.4,619.5 L762.9,617.2 L764.4,614.8 L765.9,612.5 L767.3,610.3 M777.2,595.3 L777.9,594.3 L779.4,592.1 L780.9,589.9 L782.4,587.8 L783.9,585.6 L784.4,585.0 M794.7,570.4 L795.9,568.8 L797.4,566.7 L798.9,564.7 L800.5,562.6 L802.0,560.6 L803.5,558.5 L805.0,556.4 L806.5,554.4 L808.0,552.3 L809.5,550.2 L811.0,548.2 L812.5,546.1 L814.0,544.0 L815.5,541.9 L817.0,539.8 L818.5,537.6 L820.0,535.5 L821.5,533.4 L822.1,532.6 M832.3,517.9 L833.5,516.0 L835.0,513.8 L836.5,511.6 L838.0,509.5 L839.4,507.5 M849.6,492.8 L850.1,492.2 L851.6,490.1 L853.1,488.0 L854.6,486.0 L856.1,483.9 L857.6,481.8 L859.1,479.8 L860.6,477.8 L862.1,475.8 L863.6,473.8 L865.1,471.9 L866.6,469.9 L868.1,468.0 L869.6,466.1 L871.1,464.3 L872.6,462.4 L874.1,460.6 L875.6,458.7 L877.1,456.9 L877.8,456.1 M889.0,442.7 L889.2,442.4 L890.7,440.6 L892.2,438.8 L893.7,437.0 L895.2,435.2 L896.7,433.4 L896.8,433.3 M908.1,420.0 L908.7,419.3 L910.2,417.5 L911.7,415.8 L913.2,414.1 L914.7,412.4 L916.2,410.7 L917.7,408.9 L919.2,407.2 L920.8,405.5 L922.3,403.8 L923.8,402.1 L925.3,400.4 L926.8,398.7 L928.3,397.0 L929.8,395.3 L931.3,393.6 L932.8,391.9 L934.3,390.2 L935.8,388.5 L937.3,386.8 L938.1,385.9 M949.5,372.8 L950.8,371.2 L952.3,369.5 L953.8,367.8 L955.3,366.1 L956.8,364.4 L957.5,363.7 M969.3,351.4 L970.4,350.4 L971.9,349.0 L973.4,347.6 L974.9,346.2 L976.4,344.9 L977.9,343.5 L979.3,342.3 L979.4,342.2 L979.7,342.0 L980.1,341.6 L980.5,341.3 L980.8,341.0 L980.9,340.9 L981.2,340.6 L981.6,340.3 L982.0,340.0 L982.3,339.6 L982.4,339.6 L982.7,339.3 L983.1,339.0 L983.5,338.7 L983.8,338.3 L983.9,338.3 L984.2,338.0 L984.6,337.7 L985.0,337.3 L985.3,337.0 L985.4,336.9 L985.7,336.7 L986.1,336.3 L986.5,336.0 L986.8,335.7 L986.9,335.6 L987.2,335.4 L987.6,335.0 L988.0,334.7 L988.3,334.4 L988.4,334.3 L988.7,334.0 L989.1,333.7 L989.5,333.4 L989.8,333.1 L989.9,333.0 L990.2,332.7 L990.6,332.4 L991.0,332.1 L991.4,331.8 L991.4,331.7 L991.7,331.4 L992.1,331.1 L992.5,330.8 L992.9,330.5 L992.9,330.4 L993.2,330.1 L993.6,329.8 L994.0,329.5 L994.4,329.2 L994.4,329.1 L994.7,328.9 L995.1,328.5 L995.5,328.2 L995.9,327.9 L995.9,327.9 L996.2,327.6 L996.6,327.3 L997.0,327.0 L997.4,326.7 L997.4,326.6 L997.7,326.4 L998.1,326.1 L998.5,325.9 L998.9,325.6 L998.9,325.6 L999.2,325.4 L999.6,325.3 L1000.0,325.2 L1000.4,325.2 L1000.5,325.2 L1000.8,325.3 L1001.1,325.5 L1001.5,325.9 L1001.9,326.4 L1002.0,326.5 L1002.3,327.0 L1002.4,327.2 M1011.1,343.5 L1011.3,343.8 L1011.7,344.6 L1012.0,345.3 L1012.4,346.0 L1012.5,346.2 L1012.8,346.7 L1013.2,347.5 L1013.5,348.2 L1013.9,348.9 L1014.0,349.1 L1014.3,349.7 L1014.7,350.4 L1015.0,351.1 L1015.4,351.8 L1015.5,352.0 L1015.8,352.6 L1016.2,353.3 L1016.5,354.0 L1016.9,354.8 L1017.0,354.9 L1017.1,355.0 M1025.5,371.6 L1026.0,372.5 L1027.5,375.5 L1029.0,378.5 L1030.5,381.5 L1032.0,384.6 L1033.5,387.6 L1035.0,390.7 L1036.5,393.8 L1038.0,396.9 L1039.5,400.1 L1041.1,403.3 L1042.6,406.5 L1044.1,409.8 L1045.6,413.1 L1046.8,415.8 M1054.3,433.1 L1054.6,433.7 L1056.1,437.3 L1057.6,440.9 L1059.1,444.6 L1059.4,445.4 M1066.6,463.0 L1066.6,463.2 L1068.1,466.9 L1069.6,470.7 L1071.1,474.6 L1072.6,478.4 L1074.1,482.2 L1075.6,486.1 L1077.1,490.0 L1078.6,493.8 L1080.2,497.7 L1081.7,501.6 L1083.2,505.5 L1084.7,509.4 L1084.8,509.6 M1091.7,527.4 L1092.2,528.6 L1093.7,532.4 L1095.2,536.2 L1096.6,539.8 M1103.8,557.4 L1104.2,558.5 L1105.7,562.1 L1107.2,565.8 L1108.7,569.4 L1110.2,572.9 L1111.7,576.5 L1113.2,580.0 L1114.7,583.6 L1116.2,587.1 L1117.7,590.6 L1119.2,594.1 L1120.8,597.5 L1122.3,601.0 L1123.2,603.1 M1130.7,620.5 L1131.3,621.9 L1132.8,625.4 L1134.3,629.0 L1135.8,632.5 L1135.8,632.7 M1143.1,650.2 L1143.3,650.7 L1144.8,654.4 L1146.3,658.2 L1147.8,661.9 L1149.3,665.6 L1150.8,669.4 L1152.3,673.2 L1153.8,677.0 L1155.3,680.8 L1156.8,684.6 L1158.3,688.4 L1159.8,692.2 L1161.4,696.0 L1161.6,696.6 M1168.6,714.3 L1168.9,715.0 L1170.4,718.7 L1171.9,722.5 L1173.4,726.3 L1173.5,726.7 M1180.7,744.3 L1180.9,744.9 L1182.4,748.6 L1183.9,752.3 L1185.4,756.0 L1186.9,759.6 L1188.4,763.2 L1189.9,766.8 L1191.4,770.4 L1192.9,773.9 L1194.4,777.4 L1195.9,780.9 L1197.4,784.4 L1198.9,787.9 L1200.0,790.1 M1207.6,807.4 L1208.0,808.1 L1209.5,811.4 L1211.0,814.7 L1212.5,818.0 L1213.1,819.3 M1221.1,836.3 L1221.5,837.2 L1223.0,840.4 L1224.5,843.5 L1226.0,846.6 L1227.5,849.7 L1229.0,852.7 L1230.5,855.8 L1232.0,858.8 L1233.5,861.8 L1235.0,864.8 L1236.5,867.8 L1238.0,870.7 L1239.5,873.6 L1241.1,876.5 L1242.6,879.3 L1242.9,880.0 M1251.9,896.1 L1253.1,898.3 L1254.6,900.9 L1256.1,903.5 L1257.6,906.0 L1258.3,907.2 M1267.6,922.9 L1268.1,923.8 L1269.6,926.3 L1271.1,928.8 L1272.6,931.4 L1274.1,933.9 L1275.6,936.5 L1277.1,939.0 L1278.6,941.6 L1280.2,944.2 L1281.7,946.7 L1283.2,949.3 L1284.7,951.8 L1286.2,954.4 L1287.7,956.9 L1289.2,959.5 L1290.7,962.0 L1292.0,964.2 M1301.4,979.8 L1302.7,981.9 L1304.2,984.3 L1305.7,986.7 L1307.2,989.2 L1308.1,990.6 M1317.9,1005.9 L1319.2,1008.0 L1320.8,1010.2 L1322.3,1012.5 L1323.8,1014.7 L1325.3,1016.9 L1326.8,1019.1 L1328.3,1021.2 L1329.8,1023.4 L1331.3,1025.5 L1332.8,1027.7 L1334.3,1029.8 L1335.8,1031.9 L1337.3,1033.9 L1338.8,1036.0 L1340.3,1038.1 L1341.8,1040.1 L1343.3,1042.2 L1344.8,1044.2 L1344.9,1044.2 M1355.5,1058.3 L1356.8,1060.0 L1358.3,1061.9 L1359.8,1063.8 L1361.4,1065.7 L1362.9,1067.6 L1363.2,1067.9 M1374.4,1081.4 L1374.9,1082.0 L1376.4,1083.7 L1377.9,1085.4 L1379.4,1087.0 L1380.9,1088.7 L1382.4,1090.4 L1383.9,1092.0 L1385.4,1093.6 L1386.9,1095.2 L1388.4,1096.8 L1389.9,1098.4 L1391.4,1100.0 L1392.9,1101.6 L1394.4,1103.1 L1395.9,1104.7 L1397.4,1106.3 L1398.9,1107.8 L1400.5,1109.4 L1402.0,1110.9 L1403.5,1112.5 L1405.0,1114.0 L1405.2,1114.2 M1417.0,1126.5 L1418.5,1127.9 L1420.0,1129.5 L1421.5,1131.0 L1423.0,1132.5 L1424.5,1134.1 L1425.4,1135.0 M1437.5,1147.0 L1438.0,1147.6 L1439.5,1149.1 L1441.1,1150.6 L1442.6,1152.0 L1444.1,1153.5 L1445.6,1155.0 L1447.1,1156.4 L1448.6,1157.9 L1450.1,1159.3 L1451.6,1160.8 L1453.1,1162.2 L1454.6,1163.7 L1456.1,1165.1 L1457.6,1166.6 L1458.6,1167.6" stroke="#ff00ff"/>
<path d="M224.5,1322.6 L226.0,1321.8 L227.5,1321.0 L229.0,1320.1 L230.5,1319.3 L232.0,1318.4 L233.5,1317.6 L235.0,1316.7 L236.5,1315.8 L238.0,1315.0 L239.5,1314.1 L241.1,1313.1 L242.6,1312.2 L244.1,1311.2 L245.6,1310.3 L247.1,1309.3 L248.6,1308.3 L250.1,1307.2 L251.6,1306.2 L251.8,1306.0 M264.8,1295.8 L265.1,1295.5 L266.6,1294.1 L268.1,1292.8 L269.6,1291.4 L271.1,1289.9 L272.6,1288.5 L273.7,1287.4 M285.5,1275.0 L286.2,1274.3 L287.7,1272.6 L289.2,1270.9 L290.7,1269.2 L292.2,1267.5 L293.5,1265.9 M304.8,1252.3 L305.7,1251.1 L307.2,1249.3 L308.7,1247.4 L310.2,1245.5 L311.7,1243.6 L313.2,1241.6 L314.7,1239.7 L316.2,1237.8 L317.7,1235.8 L319.2,1233.9 L320.8,1231.9 L322.3,1229.9 L323.8,1227.9 L325.3,1225.9 L326.4,1224.4 M336.9,1210.0 L337.3,1209.4 L338.8,1207.3 L340.3,1205.2 L341.8,1203.0 L343.3,1200.8 L344.3,1199.4 M354.3,1184.5 L355.3,1182.9 L356.8,1180.6 L358.3,1178.3 L359.8,1176.0 L361.2,1173.9 M371.0,1158.4 L371.9,1157.0 L373.4,1154.6 L374.9,1152.2 L376.4,1149.8 L377.9,1147.3 L379.4,1144.9 L380.9,1142.5 L382.4,1140.0 L383.9,1137.5 L385.4,1135.1 L386.9,1132.6 L388.4,1130.1 L389.9,1127.7 L390.1,1127.4 M399.4,1111.7 L400.5,1110.0 L402.0,1107.4 L403.5,1104.8 L405.0,1102.2 L406.1,1100.3 M415.2,1084.3 L415.5,1083.8 L417.0,1081.1 L418.5,1078.5 L420.0,1075.8 L421.5,1073.1 M430.6,1056.8 L432.0,1054.2 L433.5,1051.5 L435.0,1048.9 L436.5,1046.2 L438.0,1043.5 L439.5,1040.8 L441.1,1038.1 L442.6,1035.4 L444.1,1032.7 L445.6,1030.1 L447.1,1027.4 L448.6,1024.8 L448.6,1024.7 M457.7,1008.8 L459.1,1006.4 L460.6,1003.8 L462.1,1001.3 L463.6,998.7 L464.4,997.4 M473.8,981.7 L474.1,981.1 L475.6,978.7 L477.1,976.2 L478.6,973.8 L480.2,971.4 L480.4,970.9 M490.3,955.4 L490.7,954.8 L492.2,952.5 L493.7,950.2 L495.2,948.0 L496.7,945.7 L498.2,943.5 L499.7,941.2 L501.2,939.0 L502.7,936.8 L504.2,934.6 L505.7,932.5 L507.2,930.3 L508.7,928.2 L510.2,926.1 L510.5,925.7 M521.0,911.4 L522.3,909.8 L523.8,907.8 L525.3,905.9 L526.8,903.9 L528.3,902.0 L528.8,901.3 M539.9,887.7 L540.3,887.3 L541.8,885.5 L543.3,883.8 L544.8,882.0 L546.3,880.3 L547.8,878.6 L547.8,878.6 M559.7,865.6 L559.8,865.4 L561.4,863.8 L562.9,862.2 L564.4,860.7 L565.9,859.1 L567.4,857.6 L568.9,856.0 L570.4,854.5 L571.9,853.0 L573.4,851.4 L574.9,849.9 L576.4,848.4 L577.9,846.9 L579.4,845.4 L580.9,843.9 L582.4,842.4 L583.5,841.2 M595.3,828.9 L595.9,828.2 L597.4,826.5 L598.9,824.8 L600.5,823.1 L602.0,821.4 L603.5,819.7 L603.6,819.5 M614.6,805.8 L615.5,804.6 L617.0,802.6 L618.5,800.6 L620.0,798.5 L621.5,796.4 L621.9,795.8 M632.2,780.7 L633.5,778.6 L635.0,776.3 L636.5,774.0 L638.0,771.6 L639.5,769.3 L641.1,766.9 L642.6,764.5 L644.1,762.1 L645.6,759.7 L647.1,757.3 L648.6,754.8 L650.1,752.4 L651.5,750.0 M661.0,734.5 L662.1,732.7 L663.6,730.2 L665.1,727.8 L666.6,725.3 L667.9,723.3 M677.4,707.8 L678.6,705.8 L680.2,703.3 L681.7,700.9 L683.2,698.4 L684.1,697.0 M693.7,681.2 L695.2,678.8 L696.7,676.3 L698.2,673.8 L699.7,671.3 L701.2,668.8 L702.7,666.2 L704.2,663.6 L705.7,661.0 L707.2,658.4 L708.7,655.8 L710.2,653.1 L711.7,650.4 L712.2,649.6 M720.9,633.3 L722.3,630.9 L723.8,628.1 L725.3,625.2 L726.8,622.4 L727.3,621.5 M736.0,605.3 L737.3,603.0 L738.8,600.3 L740.3,597.7 L741.8,595.0 L742.3,594.1 M751.8,578.1 L752.3,577.3 L753.8,574.8 L755.3,572.4 L756.8,570.0 L758.3,567.7 L759.8,565.3 L761.4,562.9 L762.9,560.6 L764.4,558.2 L765.9,555.9 L767.4,553.6 L768.9,551.2 L770.4,548.9 L771.2,547.5 M780.9,532.3 L782.4,530.0 L783.9,527.7 L785.4,525.3 L786.9,523.0 L788.1,521.3 M798.0,506.2 L798.9,504.8 L800.5,502.5 L802.0,500.3 L803.5,498.1 L805.0,495.9 L805.0,495.8 M815.4,480.9 L815.5,480.8 L817.0,478.7 L818.5,476.5 L820.0,474.4 L821.5,472.4 L823.0,470.3 L824.5,468.2 L826.0,466.2 L827.5,464.1 L829.0,462.1 L830.5,460.0 L832.0,458.0 L833.5,456.0 L835.0,454.0 L836.4,452.2 M847.0,438.1 L847.1,438.1 L848.6,436.2 L850.1,434.2 L851.6,432.3 L853.1,430.4 L854.6,428.5 L854.9,428.1 M865.9,414.5 L866.6,413.6 L868.1,411.8 L869.6,410.0 L871.1,408.2 L872.6,406.4 L873.7,405.1 M885.3,391.7 L886.2,390.8 L887.7,389.1 L889.2,387.4 L890.7,385.7 L892.2,384.0 L893.7,382.3 L895.2,380.7 L896.7,379.0 L898.2,377.3 L899.7,375.7 L901.2,374.0 L902.7,372.3 L904.2,370.7 L905.7,369.0 L907.2,367.3 L908.3,366.0 M919.7,353.0 L920.8,351.9 L922.3,350.2 L923.8,348.4 L925.3,346.7 L926.8,345.1 L928.0,343.6 M939.6,330.9 L940.3,330.2 L941.8,328.6 L943.3,327.0 L944.8,325.4 L946.3,323.9 L947.8,322.4 L947.9,322.3 M960.5,310.6 L961.4,309.9 L962.9,308.6 L964.4,307.5 L965.9,306.3 L967.4,305.2 L967.7,305.0 L968.0,304.7 L968.4,304.5 L968.8,304.2 L968.9,304.1 L969.2,303.9 L969.5,303.7 L969.9,303.4 L970.3,303.1 L970.4,303.1 L970.7,302.9 L971.1,302.6 L971.4,302.4 L971.8,302.1 L971.9,302.1 L972.2,301.8 L972.6,301.6 L972.9,301.3 L973.3,301.1 L973.4,301.0 L973.7,300.8 L974.1,300.6 L974.4,300.3 L974.8,300.1 L974.9,300.0 L975.2,299.8 L975.6,299.6 L975.9,299.4 L976.3,299.1 L976.4,299.1 L976.7,298.9 L977.1,298.6 L977.4,298.4 L977.8,298.2 L977.9,298.1 L978.2,297.9 L978.6,297.7 L978.9,297.4 L979.3,297.2 L979.4,297.2 L979.7,297.0 L980.1,296.7 L980.5,296.5 L980.8,296.3 L980.9,296.2 L981.2,296.0 L981.6,295.8 L982.0,295.6 L982.3,295.3 L982.4,295.3 L982.7,295.1 L983.1,294.9 L983.5,294.7 L983.8,294.4 L983.9,294.4 L984.2,294.2 L984.6,294.0 L985.0,293.8 L985.3,293.5 L985.4,293.5 L985.7,293.3 L986.1,293.1 L986.5,292.9 L986.8,292.7 L986.9,292.6 L987.2,292.5 L987.2,292.5 M999.4,300.0 L999.6,300.4 L1000.0,300.9 L1000.4,301.5 L1000.5,301.6 L1000.8,302.0 L1001.1,302.6 L1001.5,303.1 L1001.9,303.7 L1002.0,303.8 L1002.3,304.2 L1002.6,304.8 L1003.0,305.3 L1003.4,305.8 L1003.5,306.0 L1003.8,306.4 L1004.1,306.9 L1004.5,307.5 L1004.9,308.0 L1005.0,308.1 L1005.3,308.6 L1005.6,309.1 L1006.0,309.7 L1006.4,310.2 L1006.5,310.4 L1006.7,310.7 M1016.7,325.7 L1017.0,326.3 L1018.5,328.6 L1020.0,331.1 L1021.5,333.5 L1023.0,336.0 L1023.3,336.6 M1032.5,352.8 L1033.5,354.8 L1035.0,357.6 L1036.5,360.4 L1038.0,363.3 L1039.5,366.3 L1041.1,369.2 L1042.6,372.3 L1044.1,375.3 L1045.6,378.4 L1047.1,381.5 L1048.6,384.7 L1049.2,386.1 M1057.0,403.2 L1057.6,404.5 L1059.1,408.0 L1060.6,411.4 L1062.1,415.0 L1062.4,415.8 M1069.6,433.3 L1071.1,437.1 L1072.6,440.9 L1074.1,444.8 L1074.5,445.7 M1081.3,464.0 L1081.7,464.8 L1083.2,468.9 L1084.7,473.1 L1086.2,477.3 L1087.7,481.5 L1089.2,485.8 L1090.7,490.0 L1092.2,494.3 L1093.7,498.7 L1094.2,500.1 M1100.4,518.3 L1101.2,520.7 L1102.7,525.2 L1104.2,529.6 L1104.9,531.6 M1111.0,549.9 L1111.7,552.2 L1113.2,556.7 L1114.7,561.3 L1115.2,562.7 M1121.4,581.3 L1122.3,583.9 L1123.8,588.4 L1125.3,592.9 L1126.8,597.3 L1128.3,601.8 L1129.8,606.1 L1131.3,610.5 L1132.8,614.8 L1133.8,617.7 M1140.2,635.8 L1140.3,636.0 L1141.8,640.2 L1143.3,644.3 L1144.8,648.4 L1145.0,648.8 M1151.6,666.8 L1152.3,668.7 L1153.8,672.6 L1155.3,676.6 L1156.3,679.3 M1163.3,697.4 L1164.4,700.3 L1165.9,704.1 L1167.4,708.0 L1168.9,711.9 L1170.4,715.7 L1171.9,719.5 L1173.4,723.4 L1174.9,727.1 L1176.4,730.9 L1177.2,732.9 M1184.3,750.5 L1185.4,753.2 L1186.9,756.9 L1188.4,760.5 L1189.5,763.2 M1196.9,780.7 L1197.4,782.1 L1198.9,785.6 L1200.5,789.2 L1202.0,792.7 L1202.0,792.9 M1209.6,810.6 L1211.0,813.8 L1212.5,817.2 L1214.0,820.7 L1215.5,824.1 L1217.0,827.6 L1218.5,831.0 L1220.0,834.4 L1221.5,837.8 L1223.0,841.1 L1224.5,844.5 L1224.8,845.1 M1232.6,862.2 L1233.5,864.1 L1235.0,867.2 L1236.5,870.4 L1238.0,873.5 L1238.5,874.4 M1246.7,891.1 L1247.1,891.8 L1248.6,894.8 L1250.1,897.7 L1251.6,900.6 L1252.6,902.7 M1261.4,919.4 L1262.1,920.7 L1263.6,923.5 L1265.1,926.3 L1266.6,929.1 L1268.1,931.9 L1269.6,934.6 L1271.1,937.4 L1272.6,940.2 L1274.1,942.9 L1275.6,945.7 L1277.1,948.4 L1278.6,951.2 L1279.0,951.8 M1287.9,968.0 L1289.2,970.4 L1290.7,973.1 L1292.2,975.8 L1293.7,978.5 L1294.3,979.7 M1303.4,995.6 L1304.2,997.0 L1305.7,999.6 L1307.2,1002.2 L1308.7,1004.7 L1309.9,1006.7 M1319.4,1022.5 L1320.8,1024.7 L1322.3,1027.1 L1323.8,1029.4 L1325.3,1031.8 L1326.8,1034.1 L1328.3,1036.4 L1329.8,1038.7 L1331.3,1041.0 L1332.8,1043.3 L1334.3,1045.6 L1335.8,1047.8 L1337.3,1050.0 L1338.8,1052.3 L1339.1,1052.8 M1349.3,1067.5 L1350.8,1069.6 L1352.3,1071.7 L1353.8,1073.8 L1355.3,1075.9 L1356.8,1078.0 L1356.8,1078.0 M1367.4,1092.2 L1368.9,1094.2 L1370.4,1096.2 L1371.9,1098.2 L1373.4,1100.2 L1374.8,1102.1 M1385.9,1116.2 L1386.9,1117.5 L1388.4,1119.3 L1389.9,1121.2 L1391.4,1123.0 L1392.9,1124.7 L1394.4,1126.5 L1395.9,1128.3 L1397.4,1130.0 L1398.9,1131.7 L1400.5,1133.5 L1402.0,1135.2 L1403.5,1136.9 L1405.0,1138.6 L1406.5,1140.3 L1408.0,1142.0 L1408.5,1142.6 M1419.9,1155.6 L1420.0,1155.8 L1421.5,1157.5 L1423.0,1159.3 L1424.5,1161.0 L1426.0,1162.8 L1427.3,1164.3" stroke="#008000"/>
<path d="M224.5,1301.7 L226.0,1300.4 L227.5,1299.2 L229.0,1297.9 L230.5,1296.7 L232.0,1295.4 L233.5,1294.2 L235.0,1292.9 L236.5,1291.7 L238.0,1290.4 L239.5,1289.1 L241.1,1287.9 L242.6,1286.6 L244.1,1285.3 L245.6,1284.0 L247.1,1282.7 L248.6,1281.4 L250.1,1280.0 L251.6,1278.7 L253.1,1277.4 L254.6,1276.0 L256.1,1274.6 L257.6,1273.2 L259.1,1271.9 L260.6,1270.4 L262.1,1269.0 L263.6,1267.6 L265.1,1266.2 L266.6,1264.7 L268.1,1263.2 L269.6,1261.7 L271.1,1260.2 L272.6,1258.7 L274.1,1257.2 L275.6,1255.7 L277.1,1254.1 L278.6,1252.6 L280.2,1251.0 L281.7,1249.4 L283.2,1247.8 L284.7,1246.1 L286.2,1244.5 L287.7,1242.8 L289.2,1241.2 L290.7,1239.5 L292.2,1237.8 L293.7,1236.1 L295.2,1234.3 L296.7,1232.6 L298.2,1230.8 L299.7,1229.0 L301.2,1227.3 L302.7,1225.4 L304.2,1223.6 L305.7,1221.8 L307.2,1219.9 L308.7,1218.1 L310.2,1216.2 L311.7,1214.3 L313.2,1212.4 L314.7,1210.4 L316.2,1208.5 L317.7,1206.5 L319.2,1204.6 L320.8,1202.6 L322.3,1200.6 L323.8,1198.5 L325.3,1196.5 L326.8,1194.5 L328.3,1192.4 L329.8,1190.3 L331.3,1188.2 L332.8,1186.1 L334.3,1184.0 L335.8,1181.9 L337.3,1179.7 L338.8,1177.5 L340.3,1175.4 L341.8,1173.2 L343.3,1171.0 L344.8,1168.8 L346.3,1166.5 L347.8,1164.3 L349.3,1162.0 L350.8,1159.7 L352.3,1157.5 L353.8,1155.2 L355.3,1152.9 L356.8,1150.5 L358.3,1148.2 L359.8,1145.9 L361.4,1143.5 L362.9,1141.2 L364.4,1138.8 L365.9,1136.4 L367.4,1134.0 L368.9,1131.6 L370.4,1129.2 L371.9,1126.8 L373.4,1124.4 L374.9,1121.9 L376.4,1119.5 L377.9,1117.0 L379.4,1114.6 L380.9,1112.1 L382.4,1109.7 L383.9,1107.2 L385.4,1104.7 L386.9,1102.3 L388.4,1099.8 L389.9,1097.3 L391.4,1094.8 L392.9,1092.3 L394.4,1089.8 L395.9,1087.3 L397.4,1084.8 L398.9,1082.3 L400.5,1079.7 L402.0,1077.2 L403.5,1074.7 L405.0,1072.2 L406.5,1069.6 L408.0,1067.1 L409.5,1064.6 L411.0,1062.0 L412.5,1059.5 L414.0,1057.0 L415.5,1054.4 L417.0,1051.9 L418.5,1049.3 L420.0,1046.8 L421.5,1044.2 L423.0,1041.7 L424.5,1039.2 L426.0,1036.6 L427.5,1034.1 L429.0,1031.5 L430.5,1029.0 L432.0,1026.4 L433.5,1023.8 L435.0,1021.3 L436.5,1018.7 L438.0,1016.2 L439.5,1013.6 L441.1,1011.0 L442.6,1008.4 L444.1,1005.9 L445.6,1003.3 L447.1,1000.7 L448.6,998.1 L450.1,995.5 L451.6,992.9 L453.1,990.3 L454.6,987.7 L456.1,985.1 L457.6,982.5 L459.1,979.9 L460.6,977.3 L462.1,974.7 L463.6,972.1 L465.1,969.4 L466.6,966.8 L468.1,964.2 L469.6,961.5 L471.1,958.9 L472.6,956.2 L474.1,953.5 L475.6,950.9 L477.1,948.2 L478.6,945.5 L480.2,942.8 L481.7,940.1 L483.2,937.4 L484.7,934.7 L486.2,932.0 L487.7,929.3 L489.2,926.6 L490.7,923.8 L492.2,921.1 L493.7,918.4 L495.2,915.6 L496.7,912.9 L498.2,910.1 L499.7,907.3 L501.2,904.6 L502.7,901.8 L504.2,899.0 L505.7,896.2 L507.2,893.4 L508.7,890.6 L510.2,887.8 L511.7,885.0 L513.2,882.2 L514.7,879.4 L516.2,876.6 L517.7,873.7 L519.2,870.9 L520.8,868.0 L522.3,865.2 L523.8,862.3 L525.3,859.5 L526.8,856.6 L528.3,853.7 L529.8,850.9 L531.3,848.0 L532.8,845.1 L534.3,842.2 L535.8,839.3 L537.3,836.4 L538.8,833.5 L540.3,830.6 L541.8,827.6 L543.3,824.7 L544.8,821.8 L546.3,818.9 L547.8,815.9 L549.3,813.0 L550.8,810.0 L552.3,807.1 L553.8,804.1 L555.3,801.3 L556.8,798.4 L558.3,795.4 L559.8,792.5 L561.4,789.5 L562.9,786.6 L564.4,783.6 L565.9,780.6 L567.4,777.7 L568.9,774.7 L570.4,771.7 L571.9,768.8 L573.4,765.8 L574.9,762.9 L576.4,759.9 L577.4,757.8 L577.8,757.1 L577.9,756.9 L578.2,756.4 L578.6,755.6 L578.9,754.9 L579.3,754.2 L579.4,754.0 L579.7,753.4 L580.1,752.7 L580.5,751.9 L580.8,751.2 L580.9,751.1 L581.2,750.5 L581.6,749.7 L582.0,749.0 L582.3,748.3 L582.4,748.1 L582.7,747.5 L583.1,746.8 L583.5,746.1 L583.8,745.4 L583.9,745.2 L584.2,744.6 L584.6,743.9 L585.0,743.2 L585.3,742.5 L585.4,742.3 L585.7,741.7 L586.1,741.0 L586.5,740.3 L586.8,739.6 L586.9,739.4 L587.2,738.9 L587.6,738.1 L588.0,737.4 L588.3,736.7 L588.4,736.6 L588.7,736.0 L589.1,735.3 L589.5,734.6 L589.8,733.9 L589.9,733.8 L590.2,733.2 L590.6,732.5 L591.0,731.8 L591.4,731.1 L591.4,731.0 L591.7,730.5 L592.1,729.8 L592.5,729.1 L592.9,728.5 L592.9,728.3 L593.2,727.8 L593.6,727.2 L594.0,726.5 L594.4,725.9 L594.4,725.8 L594.7,725.3 L595.1,724.7 L595.5,724.1 L595.9,723.5 L595.9,723.3 L596.2,722.9 L596.6,722.3 L597.0,721.7 L597.4,721.1 L597.4,721.0 L597.7,720.5 L598.1,720.0 L598.5,719.4 L598.9,718.9 L598.9,718.8 L599.2,718.3 L599.6,717.8 L600.0,717.2 L600.4,716.7 L600.5,716.6 L600.8,716.2 L601.1,715.6 L601.5,715.1 L601.9,714.6 L602.0,714.4 L602.3,714.0 L602.6,713.5 L603.0,713.0 L603.4,712.5 L603.5,712.3 L603.8,711.9 L604.1,711.4 L604.5,710.9 L604.9,710.4 L605.0,710.3 L605.3,709.9 L605.6,709.3 L606.0,708.8 L606.4,708.3 L606.5,708.2 L606.8,707.8 L607.1,707.3 L607.5,706.8 L607.9,706.3 L608.0,706.2 L608.3,705.8 L608.6,705.2 L609.0,704.7 L609.4,704.2 L609.5,704.1 L609.8,703.7 L610.2,703.2 L610.5,702.7 L610.9,702.2 L611.0,702.1 L611.3,701.7 L611.7,701.2 L612.0,700.7 L612.4,700.2 L612.5,700.1 L612.8,699.6 L613.2,699.1 L613.5,698.6 L613.9,698.1 L614.0,698.0 L614.3,697.6 L614.7,697.1 L615.0,696.6 L615.4,696.1 L615.5,696.0 L615.8,695.6 L616.2,695.1 L616.5,694.6 L616.9,694.1 L617.0,694.0 L617.3,693.6 L617.7,693.1 L618.0,692.6 L618.4,692.1 L618.5,692.0 L618.8,691.6 L619.2,691.0 L619.5,690.5 L619.9,690.0 L620.0,689.9 L620.3,689.5 L620.7,689.0 L621.1,688.5 L621.4,688.0 L621.5,687.9 L621.8,687.5 L622.2,687.0 L623.0,685.9 L624.5,683.9 L626.0,681.9 L627.5,679.8 L629.0,677.8 L630.5,675.8 L632.0,673.8 L633.5,671.8 L635.0,669.8 L636.5,667.8 L638.0,665.8 L639.5,663.7 L641.1,661.7 L642.6,659.7 L644.1,657.8 L645.6,655.6 L647.1,653.7 L648.6,651.7 L650.1,649.7 L651.6,647.7 L653.1,645.8 L654.6,643.8 L656.1,641.9 L657.6,639.9 L659.1,638.0 L660.6,636.1 L662.1,634.1 L663.6,632.2 L665.1,630.3 L666.6,628.4 L668.1,626.5 L669.6,624.7 L671.1,622.8 L672.6,620.9 L674.1,619.0 L675.6,617.2 L677.1,615.3 L678.6,613.5 L680.2,611.6 L681.7,609.8 L683.2,608.0 L684.7,606.1 L686.2,604.3 L687.7,602.5 L689.2,600.6 L690.7,598.8 L692.2,597.0 L693.7,595.2 L695.2,593.3 L696.7,591.5 L698.2,589.6 L699.7,587.8 L701.2,585.9 L702.7,584.1 L704.2,582.2 L705.7,580.4 L707.2,578.5 L708.7,576.6 L710.2,574.7 L711.7,572.8 L713.2,571.0 L714.7,569.0 L716.2,567.1 L717.7,565.2 L719.2,563.3 L720.8,561.4 L722.3,559.4 L723.8,557.5 L725.3,555.5 L726.8,553.6 L728.3,551.6 L729.8,549.7 L731.3,547.7 L732.8,545.7 L734.3,543.7 L735.8,541.7 L737.3,539.8 L738.8,537.8 L740.3,535.8 L741.8,533.8 L743.3,531.8 L744.8,529.8 L746.3,527.8 L747.8,525.7 L749.3,523.7 L750.8,521.7 L752.3,519.7 L753.8,517.7 L755.3,515.6 L756.8,513.6 L758.3,511.6 L759.8,509.6 L761.4,507.5 L762.9,505.5 L764.4,503.5 L765.9,501.5 L767.4,499.5 L768.9,497.4 L770.4,495.4 L771.9,493.4 L773.4,491.4 L774.9,489.4 L776.4,487.4 L777.9,485.4 L779.4,483.4 L780.9,481.4 L782.4,479.4 L783.9,477.5 L785.4,475.5 L786.9,473.5 L788.4,471.6 L789.9,469.6 L791.4,467.7 L792.9,465.7 L794.4,463.8 L795.9,461.9 L797.4,459.9 L798.9,458.0 L800.5,456.1 L802.0,454.2 L803.5,452.3 L805.0,450.4 L806.5,448.6 L808.0,446.7 L809.5,444.8 L811.0,442.9 L812.5,441.1 L814.0,439.2 L815.5,437.3 L817.0,435.5 L818.5,433.6 L820.0,431.8 L821.5,429.9 L823.0,428.1 L824.5,426.3 L826.0,424.4 L827.5,422.6 L829.0,420.8 L830.5,418.9 L832.0,417.1 L833.5,415.3 L835.0,413.4 L836.5,411.6 L838.0,409.8 L839.5,408.0 L841.1,406.2 L842.6,404.3 L844.1,402.5 L845.6,400.7 L847.1,398.9 L848.6,397.1 L850.1,395.3 L851.6,393.5 L853.1,391.6 L854.6,389.8 L856.1,388.0 L857.6,386.2 L859.1,384.4 L860.6,382.6 L862.1,380.8 L863.6,379.0 L865.1,377.3 L866.6,375.5 L868.1,373.7 L869.6,371.9 L871.1,370.1 L872.6,368.4 L874.1,366.6 L875.6,364.8 L877.1,363.1 L878.6,361.3 L880.2,359.6 L881.7,357.9 L883.2,356.2 L884.7,354.5 L886.2,352.8 L887.7,351.1 L889.2,349.4 L890.7,347.8 L892.2,346.1 L893.7,344.5 L895.2,342.8 L896.7,341.2 L898.2,339.6 L899.7,338.0 L901.2,336.4 L902.7,334.9 L904.2,333.3 L905.7,331.8 L907.2,330.2 L908.7,328.7 L910.2,327.2 L911.7,325.7 L913.2,324.2 L914.7,322.7 L916.2,321.2 L917.7,319.7 L919.2,318.3 L920.8,316.8 L922.3,315.3 L923.8,313.9 L925.3,312.4 L926.8,311.0 L928.3,309.6 L929.8,308.1 L931.3,306.7 L932.8,305.3 L934.3,303.9 L935.8,302.4 L937.3,301.0 L938.8,299.6 L940.3,298.4 L941.8,297.0 L943.3,295.6 L944.8,294.2 L946.3,292.8 L947.8,291.4 L949.3,290.0 L950.8,288.6 L952.3,287.1 L953.8,285.7 L955.3,284.3 L956.8,282.9 L958.3,281.5 L959.8,280.0 L961.4,278.6 L962.0,278.0 L962.4,277.6 L962.8,277.3 L962.9,277.2 L963.2,276.9 L963.5,276.6 L963.9,276.2 L964.3,275.9 L964.4,275.8 L964.7,275.5 L965.0,275.1 L965.4,274.8 L965.8,274.4 L965.9,274.4 L966.2,274.1 L966.5,273.7 L966.9,273.4 L967.3,273.0 L967.4,273.0 L967.7,272.7 L968.0,272.3 L968.4,272.0 L968.8,271.6 L968.9,271.5 L969.2,271.3 L969.5,270.9 L969.9,270.6 L970.3,270.2 L970.4,270.1 L970.7,269.9 L971.1,269.5 L971.4,269.2 L971.8,268.8 L971.9,268.7 L972.2,268.5 L972.6,268.1 L972.9,267.8 L973.3,267.4 L973.4,267.3 L973.7,267.1 L974.1,266.7 L974.4,266.4 L974.8,266.0 L974.9,266.0 L975.2,265.7 L975.6,265.4 L975.9,265.0 L976.3,264.7 L976.4,264.6 L976.7,264.4 L977.1,264.0 L977.4,263.7 L977.8,263.4 L977.9,263.3 L978.2,263.0 L978.6,262.7 L978.9,262.4 L979.3,262.1 L979.4,262.0 L979.7,261.7 L980.1,261.4 L980.5,261.1 L980.8,260.8 L980.9,260.8 L981.2,260.5 L981.6,260.2 L982.0,259.9 L982.3,259.7 L982.4,259.6 L982.7,259.4 L983.1,259.1 L983.5,258.9 L983.8,258.6 L983.9,258.6 L984.2,258.4 L984.6,258.2 L985.0,257.9 L985.3,257.8 L985.4,257.7 L985.7,257.6 L986.1,257.4 L986.5,257.3 L986.8,257.2 L986.9,257.2 L987.2,257.2 L987.6,257.1 L988.0,257.1 L988.3,257.2 L988.4,257.2 L988.7,257.2 L989.1,257.3 L989.5,257.5 L989.8,257.7 L989.9,257.7 L990.2,257.9 L990.6,258.2 L991.0,258.5 L991.4,258.8 L991.4,258.9 L991.7,259.2 L992.1,259.6 L992.5,260.0 L992.9,260.4 L992.9,260.5 L993.2,260.8 L993.6,261.3 L994.0,261.8 L994.4,262.3 L994.4,262.4 L994.7,262.8 L995.1,263.3 L995.5,263.8 L995.9,264.4 L995.9,264.5 L996.2,264.9 L996.6,265.5 L997.0,266.0 L997.4,266.6 L997.4,266.7 L997.7,267.1 L998.1,267.7 L998.5,268.3 L998.9,268.9 L998.9,269.0 L999.2,269.5 L999.6,270.1 L1000.0,270.7 L1000.4,271.3 L1000.5,271.4 L1000.8,271.9 L1001.1,272.5 L1001.5,273.1 L1001.9,273.7 L1002.0,273.8 L1002.3,274.3 L1002.6,275.0 L1003.0,275.6 L1003.4,276.2 L1003.5,276.4 L1003.8,276.9 L1004.1,277.5 L1004.5,278.2 L1004.9,278.8 L1005.0,279.0 L1005.3,279.5 L1005.6,280.1 L1006.0,280.8 L1006.4,281.5 L1006.5,281.6 L1006.8,282.1 L1008.0,284.3 L1009.5,287.1 L1011.0,289.9 L1012.5,292.8 L1014.0,295.8 L1015.5,298.8 L1017.0,301.9 L1018.5,305.1 L1020.0,308.3 L1021.5,311.6 L1023.0,315.0 L1024.5,318.4 L1026.0,321.9 L1027.5,325.4 L1029.0,329.0 L1030.5,332.4 L1032.0,336.2 L1033.5,339.9 L1035.0,343.8 L1036.5,347.7 L1038.0,351.6 L1039.5,355.6 L1041.1,359.6 L1042.6,363.6 L1044.1,367.7 L1045.6,371.9 L1047.1,376.0 L1048.6,380.2 L1050.1,384.4 L1051.6,388.7 L1053.1,393.0 L1054.6,397.3 L1056.1,401.6 L1057.6,406.0 L1059.1,410.3 L1060.6,414.8 L1062.1,419.2 L1063.6,423.6 L1065.1,428.1 L1066.6,432.6 L1068.1,437.1 L1069.6,441.7 L1071.1,446.2 L1072.6,450.8 L1074.1,455.4 L1075.6,460.0 L1077.1,464.6 L1078.6,469.3 L1080.2,473.9 L1081.7,478.6 L1083.2,483.2 L1084.7,487.9 L1086.2,492.6 L1087.7,497.3 L1089.2,502.0 L1090.7,506.7 L1092.2,511.4 L1093.7,516.1 L1095.2,520.8 L1096.7,525.6 L1098.2,530.3 L1099.7,535.0 L1101.2,539.7 L1102.7,544.4 L1104.2,549.1 L1105.7,553.8 L1107.2,558.5 L1108.7,563.2 L1110.2,567.8 L1111.7,572.5 L1113.2,577.2 L1114.7,581.8 L1116.2,586.4 L1117.7,591.1 L1119.2,595.7 L1120.8,600.3 L1122.3,604.9 L1123.8,609.4 L1125.3,614.0 L1126.8,618.5 L1128.3,623.0 L1129.8,627.5 L1131.3,632.0 L1132.8,636.5 L1134.3,641.0 L1135.8,645.4 L1137.3,649.8 L1138.8,654.2 L1140.3,658.6 L1141.8,663.0 L1143.3,667.3 L1144.8,671.7 L1146.3,676.0 L1147.8,680.3 L1149.3,684.6 L1150.8,688.8 L1152.3,693.0 L1153.8,697.3 L1155.3,701.5 L1156.8,705.7 L1158.3,709.8 L1159.8,714.0 L1161.4,718.1 L1162.9,722.2 L1164.4,726.3 L1165.9,730.4 L1167.4,734.4 L1168.9,738.5 L1170.4,742.5 L1171.9,746.5 L1173.4,750.5 L1174.9,754.4 L1176.4,758.4 L1177.9,762.3 L1179.4,766.2 L1180.9,770.1 L1182.4,773.9 L1183.9,777.8 L1185.4,781.6 L1186.9,785.4 L1188.4,789.2 L1189.9,792.9 L1191.4,796.7 L1192.9,800.4 L1194.4,804.1 L1195.9,807.8 L1197.4,811.5 L1198.9,815.2 L1200.5,818.8 L1202.0,822.4 L1203.5,826.0 L1205.0,829.6 L1206.5,833.2 L1208.0,836.7 L1209.5,840.3 L1211.0,843.8 L1212.5,847.3 L1214.0,850.8 L1215.5,854.2 L1217.0,857.7 L1218.5,861.1 L1220.0,864.5 L1221.5,867.9 L1223.0,871.2 L1224.5,874.6 L1226.0,877.9 L1227.5,881.2 L1229.0,884.5 L1230.5,887.7 L1232.0,891.0 L1233.5,894.2 L1235.0,897.4 L1236.5,900.5 L1238.0,903.7 L1239.5,906.8 L1241.1,909.9 L1242.6,913.0 L1244.1,916.1 L1245.6,919.2 L1247.1,922.2 L1248.6,925.2 L1250.1,928.2 L1251.6,931.1 L1253.1,934.1 L1254.6,937.0 L1256.1,939.9 L1257.6,942.8 L1259.1,945.7 L1260.6,948.5 L1262.1,951.3 L1263.6,954.1 L1265.1,956.9 L1266.6,959.7 L1268.1,962.4 L1269.6,965.1 L1271.1,967.8 L1272.6,970.5 L1274.1,973.2 L1275.6,975.8 L1277.1,978.4 L1278.6,981.0 L1280.2,983.6 L1281.7,986.1 L1283.2,988.6 L1284.7,991.2 L1286.2,993.6 L1287.7,996.1 L1289.2,998.6 L1290.7,1001.0 L1292.2,1003.4 L1293.7,1005.8 L1295.2,1008.1 L1296.7,1010.5 L1298.2,1012.8 L1299.7,1015.1 L1301.2,1017.4 L1302.7,1019.6 L1304.2,1021.9 L1305.7,1024.1 L1307.2,1026.3 L1308.7,1028.5 L1310.2,1030.7 L1311.7,1032.8 L1313.2,1035.0 L1314.7,1037.1 L1316.2,1039.2 L1317.7,1041.3 L1319.2,1043.4 L1320.8,1045.4 L1322.3,1047.5 L1323.8,1049.5 L1325.3,1051.5 L1326.8,1053.5 L1328.3,1055.5 L1329.8,1057.4 L1331.3,1059.4 L1332.8,1061.3 L1334.3,1063.3 L1335.8,1065.2 L1337.3,1067.1 L1338.8,1069.0 L1340.3,1070.9 L1341.8,1072.8 L1343.3,1074.6 L1344.8,1076.5 L1346.3,1078.3 L1347.8,1080.2 L1349.3,1082.0 L1350.8,1083.8 L1352.3,1085.7 L1353.8,1087.5 L1355.3,1089.3 L1356.8,1091.1 L1358.3,1092.9 L1359.8,1094.7 L1361.4,1096.5 L1362.9,1098.2 L1364.4,1100.0 L1365.9,1101.8 L1367.4,1103.6 L1368.9,1105.3 L1370.4,1107.1 L1371.9,1108.9 L1373.4,1110.6 L1374.9,1112.4 L1376.4,1114.1 L1377.9,1115.9 L1379.4,1117.7 L1380.9,1119.4 L1382.4,1121.2 L1383.9,1122.9 L1385.4,1124.7 L1386.9,1126.4 L1388.4,1128.2 L1389.9,1129.9 L1391.4,1131.7 L1392.9,1133.4 L1394.4,1135.2 L1395.9,1136.9 L1397.4,1138.7 L1398.9,1140.5 L1400.5,1142.2 L1402.0,1144.0 L1403.5,1145.7 L1405.0,1147.5 L1406.5,1149.3 L1408.0,1151.0 L1409.5,1152.8 L1411.0,1154.6 L1412.5,1156.3 L1414.0,1158.1 L1415.5,1159.9 L1417.0,1161.7 L1418.5,1163.4 L1420.0,1165.2 L1421.5,1167.0 L1422.2,1167.8" stroke="#ff0000"/>
</g></g>
<g clip-path="url(#clipb)"><g transform="scale(1.33,1)" fill="none" stroke-width="7.2" stroke-linejoin="round">
<path d="M225.0,1705.7 L226.5,1704.2 L228.0,1702.8 L229.5,1701.3 L231.0,1699.8 L232.5,1698.4 L234.0,1696.9 L235.5,1695.4 L237.0,1694.0 L238.5,1692.5 L240.0,1691.0 L241.5,1689.4 L243.0,1687.9 L244.5,1686.4 L246.0,1684.8 L247.5,1683.3 L249.0,1681.7 L250.5,1680.1 L252.0,1678.5 L253.5,1676.9 L255.1,1675.2 L256.6,1673.5 L258.1,1671.8 L259.6,1670.2 L261.1,1668.5 L262.6,1666.8 L264.1,1665.1 L265.6,1663.4 L267.1,1661.7 L268.6,1660.1 L270.1,1658.5 L271.6,1656.9 L273.1,1655.4 L274.6,1653.9 L276.1,1652.4 L277.6,1651.0 L279.1,1649.6 L280.6,1648.3 L282.1,1647.1 L283.6,1645.9 L285.1,1644.8 L286.6,1643.7 L288.1,1642.7 L289.6,1641.8 L291.1,1640.9 L292.6,1640.0 L294.1,1639.2 L295.7,1638.4 L297.2,1637.6 L298.7,1636.9 L300.2,1636.1 L301.7,1635.4 L303.2,1634.6 L304.7,1633.9 L306.2,1633.1 L307.7,1632.4 L309.2,1631.6 L310.7,1630.8 L312.2,1629.9 L313.7,1629.0 L315.2,1628.1 L316.7,1627.2 L318.2,1626.2 L319.7,1625.2 L321.2,1624.3 L322.7,1623.2 L324.2,1622.2 L325.7,1621.2 L327.2,1620.2 L328.7,1619.2 L330.2,1618.2 L331.7,1617.2 L333.2,1616.2 L334.8,1615.2 L336.3,1614.3 L337.8,1613.4 L339.3,1612.5 L340.8,1611.6 L342.3,1610.8 L343.8,1610.0 L345.3,1609.2 L346.8,1608.5 L348.3,1607.8 L349.8,1607.1 L351.3,1606.5 L352.8,1605.8 L354.3,1605.2 L355.8,1604.6 L357.3,1604.0 L358.8,1603.5 L360.3,1602.9 L361.8,1602.4 L363.3,1601.9 L364.8,1601.3 L366.3,1600.8 L367.8,1600.3 L369.3,1599.8 L370.8,1599.3 L372.3,1598.8 L373.8,1598.3 L375.4,1597.8 L376.9,1597.3 L378.4,1596.8 L379.9,1596.3 L381.4,1595.8 L382.9,1595.4 L384.4,1594.9 L385.9,1594.5 L387.4,1594.0 L388.9,1593.6 L390.4,1593.2 L391.9,1592.9 L393.4,1592.5 L394.9,1592.2 L396.4,1591.9 L397.9,1591.6 L399.4,1591.3 L400.9,1591.1 L402.4,1590.9 L403.9,1590.7 L405.4,1590.5 L406.9,1590.4 L408.4,1590.3 L409.9,1590.2 L411.4,1590.2 L412.9,1590.2 L414.4,1590.2 L416.0,1590.2 L417.5,1590.3 L419.0,1590.4 L420.5,1590.5 L422.0,1590.7 L423.5,1590.9 L425.0,1591.1 L426.5,1591.4 L428.0,1591.7 L429.5,1592.0 L431.0,1592.4 L432.5,1592.7 L434.0,1593.2 L435.5,1593.6 L437.0,1594.1 L438.5,1594.6 L440.0,1595.1 L441.5,1595.6 L443.0,1596.2 L444.5,1596.7 L446.0,1597.3 L447.5,1597.9 L449.0,1598.6 L450.5,1599.2 L452.0,1599.9 L453.5,1600.5 L455.1,1601.2 L456.6,1601.9 L458.1,1602.6 L459.6,1603.3 L461.1,1604.0 L462.6,1604.7 L464.1,1605.5 L465.6,1606.2 L467.1,1607.0 L468.6,1607.8 L470.1,1608.6 L471.6,1609.4 L473.1,1610.2 L474.6,1611.0 L476.1,1611.9 L477.6,1612.7 L479.1,1613.6 L480.6,1614.5 L482.1,1615.4 L483.6,1616.4 L485.1,1617.3 L486.6,1618.3 L488.1,1619.3 L489.6,1620.3 L491.1,1621.4 L492.6,1622.4 L494.1,1623.5 L495.7,1624.5 L497.2,1625.6 L498.7,1626.7 L500.2,1627.8 L501.7,1629.0 L503.2,1630.1 L504.7,1631.2 L506.2,1632.4 L507.7,1633.5 L509.2,1634.6 L510.7,1635.8 L512.2,1636.9 L513.7,1638.1 L515.2,1639.2 L516.7,1640.4 L518.2,1641.5 L519.7,1642.6 L521.2,1643.8 L522.7,1644.9 L524.2,1646.0 L525.7,1647.1 L527.2,1648.3 L528.7,1649.4 L530.2,1650.5 L531.7,1651.6 L533.2,1652.7 L534.8,1653.8 L536.3,1654.8 L537.8,1655.9 L539.3,1657.0 L540.8,1658.1 L542.3,1659.1 L543.8,1660.2 L545.3,1661.2 L546.8,1662.2 L548.3,1663.2 L549.8,1664.2 L551.3,1665.2 L552.8,1666.2 L554.3,1667.2 L555.8,1668.1 L557.3,1669.0 L558.8,1669.9 L560.3,1670.8 L561.8,1671.7 L563.3,1672.5 L564.8,1673.3 L566.3,1674.1 L567.8,1674.9 L569.3,1675.6 L570.8,1676.3 L572.3,1677.0 L573.8,1677.6 L575.4,1678.2 L576.9,1678.8 L578.4,1679.3 L579.9,1679.9 L581.4,1680.3 L582.9,1680.8 L584.4,1681.2 L585.9,1681.5 L587.4,1681.9 L588.9,1682.1 L590.4,1682.4 L591.9,1682.6 L593.4,1682.8 L594.9,1682.9 L596.4,1683.0 L597.9,1683.1 L599.4,1683.1 L600.9,1683.1 L602.4,1683.0 L603.9,1682.9 L605.4,1682.8 L606.9,1682.6 L608.4,1682.4 L609.9,1682.1 L611.4,1681.8 L612.9,1681.4 L614.4,1681.0 L616.0,1680.5 L617.5,1680.0 L619.0,1679.4 L620.5,1678.7 L622.0,1678.0 L623.5,1677.3 L625.0,1676.5 L626.5,1675.6 L628.0,1674.6 L629.5,1673.5 L631.0,1672.4 L632.5,1671.2 L634.0,1669.9 L635.5,1668.5 L637.0,1667.0 L638.5,1665.4 L640.0,1663.8 L641.5,1662.0 L643.0,1660.2 L644.5,1658.4 L646.0,1656.5 L647.5,1654.5 L649.0,1652.5 L650.5,1650.5 L652.0,1648.4 L653.5,1646.3 L655.1,1644.2 L656.6,1642.0 L658.1,1639.9 L659.6,1637.7 L661.1,1635.6 L662.6,1633.4 L664.1,1631.3 L665.6,1629.2 L667.1,1627.1 L668.6,1625.1 L670.1,1623.0 L671.6,1621.0 L673.1,1619.0 L674.6,1617.0 L676.1,1615.0 L677.6,1613.1 L679.1,1611.2 L680.6,1609.3 L682.1,1607.5 L683.6,1605.7 L685.1,1603.9 L686.6,1602.3 L688.1,1600.7 L689.6,1599.2 L691.1,1597.7 L692.6,1596.4 L694.1,1595.1 L695.7,1593.9 L697.2,1592.8 L698.7,1591.8 L700.2,1590.9 L701.7,1590.1 L703.2,1589.3 L704.7,1588.7 L706.2,1588.1 L707.7,1587.6 L709.2,1587.2 L710.7,1586.9 L712.2,1586.7 L713.7,1586.5 L715.2,1586.4 L716.7,1586.4 L718.2,1586.4 L719.7,1586.5 L721.2,1586.7 L722.7,1586.9 L724.2,1587.1 L725.7,1587.5 L727.2,1587.8 L728.7,1588.2 L730.2,1588.7 L731.7,1589.2 L733.2,1589.7 L734.8,1590.2 L736.3,1590.8 L737.8,1591.4 L739.3,1592.0 L740.8,1592.6 L742.3,1593.2 L743.8,1593.9 L745.3,1594.5 L746.8,1595.2 L748.3,1595.9 L749.8,1596.5 L751.3,1597.2 L752.8,1597.8 L754.3,1598.4 L755.8,1599.1 L757.3,1599.7 L758.8,1600.3 L760.3,1600.9 L761.8,1601.5 L763.3,1602.2 L764.8,1602.8 L766.3,1603.4 L767.8,1604.0 L769.3,1604.6 L770.8,1605.2 L772.3,1605.7 L773.8,1606.3 L775.4,1606.9 L776.9,1607.5 L778.4,1608.1 L779.9,1608.6 L781.4,1609.2 L782.9,1609.8 L784.4,1610.3 L785.9,1610.9 L787.4,1611.4 L788.9,1612.0 L790.4,1612.5 L791.9,1613.0 L793.4,1613.5 L794.9,1614.0 L796.4,1614.5 L797.9,1614.9 L799.4,1615.3 L800.9,1615.8 L802.4,1616.2 L803.9,1616.6 L805.4,1616.9 L806.9,1617.3 L808.4,1617.6 L809.9,1617.9 L811.4,1618.2 L812.9,1618.4 L814.4,1618.7 L816.0,1618.9 L817.5,1619.2 L819.0,1619.4 L820.5,1619.6 L822.0,1619.8 L823.5,1619.9 L825.0,1620.1 L826.5,1620.3 L828.0,1620.4 L829.5,1620.6 L831.0,1620.7 L832.5,1620.9 L834.0,1621.0 L835.5,1621.2 L837.0,1621.3 L838.5,1621.5 L840.0,1621.6 L841.5,1621.8 L843.0,1621.9 L844.5,1622.1 L846.0,1622.2 L847.5,1622.3 L849.0,1622.5 L850.5,1622.6 L852.0,1622.7 L853.5,1622.9 L855.1,1623.0 L856.6,1623.1 L858.1,1623.2 L859.6,1623.3 L861.1,1623.4 L862.6,1623.5 L864.1,1623.6 L865.6,1623.6 L867.1,1623.7 L868.6,1623.7 L870.1,1623.8 L871.6,1623.9 L873.1,1624.0 L874.6,1624.0 L876.1,1624.1 L877.6,1624.3 L879.1,1624.4 L880.6,1624.6 L882.1,1624.8 L883.6,1625.0 L885.1,1625.3 L886.6,1625.6 L888.1,1625.9 L889.6,1626.3 L891.1,1626.7 L892.6,1627.2 L894.1,1627.7 L895.7,1628.3 L897.2,1629.0 L898.7,1629.8 L900.2,1630.6 L901.7,1631.5 L903.2,1632.6 L904.7,1633.8 L906.2,1635.1 L907.7,1636.5 L909.2,1638.1 L910.7,1639.9 L912.2,1641.8 L913.7,1643.9 L915.2,1646.1 L916.7,1648.4 L918.2,1650.9 L919.7,1653.5 L921.2,1656.2 L922.7,1659.0 L924.2,1661.9 L925.7,1664.8 L927.2,1667.9 L928.7,1671.0 L930.2,1674.3 L931.7,1677.6 L933.2,1681.0 L934.8,1684.5 L936.3,1688.0 L937.8,1691.6 L939.3,1695.4 L940.8,1699.2 L942.3,1703.1 L943.8,1707.1 L945.3,1711.2 L946.8,1715.4 L948.3,1719.7 L949.8,1724.2 L951.3,1728.8 L952.8,1733.6 L954.3,1738.5 L955.8,1743.5 L957.3,1748.7 L958.8,1754.1 L960.3,1759.6 L961.8,1765.3 L963.3,1771.2 L964.8,1777.2 L966.3,1783.4 L967.8,1789.6 L969.3,1795.9 L970.8,1802.3 L972.3,1808.7 L973.8,1815.1 L975.4,1821.5 L976.9,1827.9 L978.4,1834.4 L979.9,1840.8 L981.4,1847.1 L982.9,1853.5 L984.4,1859.9 L985.9,1866.2 L987.4,1872.5 L988.9,1878.7 L990.4,1885.0 L991.9,1891.1 L993.4,1897.3 L994.9,1903.4 L996.4,1909.5 L997.9,1915.5 L999.4,1921.4 L1000.9,1927.3 L1002.4,1933.0 L1003.9,1938.7 L1005.4,1944.2 L1006.9,1949.6 L1008.4,1954.9 L1009.9,1960.1 L1011.4,1965.0 L1012.9,1969.8 L1014.4,1974.4 L1016.0,1978.8 L1017.5,1983.0 L1019.0,1986.9 L1020.5,1990.6 L1022.0,1994.1 L1023.5,1997.3 L1025.0,2000.3 L1026.5,2003.1 L1028.0,2005.7 L1029.5,2008.1 L1031.0,2010.3 L1032.5,2012.4 L1034.0,2014.4 L1035.5,2016.3 L1037.0,2018.0 L1038.5,2019.6 L1040.0,2021.1 L1041.5,2022.5 L1043.0,2023.8 L1044.5,2024.9 L1046.0,2025.9 L1047.5,2026.9 L1049.0,2027.6 L1050.5,2028.3 L1052.0,2028.9 L1053.5,2029.3 L1055.1,2029.6 L1056.6,2029.9 L1058.1,2030.0 L1059.6,2030.0 L1061.1,2029.9 L1062.6,2029.7 L1064.1,2029.5 L1065.6,2029.2 L1067.1,2028.7 L1068.6,2028.3 L1070.1,2027.8 L1071.6,2027.2 L1073.1,2026.6 L1074.6,2025.9 L1076.1,2025.3 L1077.6,2024.6 L1079.1,2024.0 L1080.6,2023.3 L1082.1,2022.6 L1083.6,2022.0 L1085.1,2021.3 L1086.6,2020.7 L1088.1,2020.1 L1089.6,2019.5 L1091.1,2018.9 L1092.6,2018.3 L1094.1,2017.7 L1095.7,2017.2 L1097.2,2016.6 L1098.7,2016.1 L1100.2,2015.6 L1101.7,2015.2 L1103.2,2014.7 L1104.7,2014.3 L1106.2,2013.8 L1107.7,2013.5 L1109.2,2013.1 L1110.7,2012.7 L1112.2,2012.4 L1113.7,2012.1 L1115.2,2011.9 L1116.7,2011.6 L1118.2,2011.4 L1119.7,2011.3 L1121.2,2011.1 L1122.7,2011.0 L1124.2,2011.0 L1125.7,2010.9 L1127.2,2010.9 L1128.7,2011.0 L1130.2,2011.0 L1131.7,2011.1 L1133.2,2011.2 L1134.8,2011.3 L1136.3,2011.4 L1137.8,2011.4 L1139.3,2011.5 L1140.8,2011.6 L1142.3,2011.6 L1143.8,2011.7 L1145.3,2011.7 L1146.8,2011.6 L1148.3,2011.6 L1149.8,2011.5 L1151.3,2011.4 L1152.8,2011.2 L1154.3,2011.0 L1155.8,2010.8 L1157.3,2010.5 L1158.8,2010.2 L1160.3,2009.8 L1161.8,2009.4 L1163.3,2009.0 L1164.8,2008.4 L1166.3,2007.9 L1167.8,2007.2 L1169.3,2006.6 L1170.8,2005.9 L1172.3,2005.1 L1173.8,2004.3 L1175.4,2003.4 L1176.9,2002.5 L1178.4,2001.6 L1179.9,2000.7 L1181.4,1999.7 L1182.9,1998.7 L1184.4,1997.6 L1185.9,1996.5 L1187.4,1995.4 L1188.9,1994.3 L1190.4,1993.1 L1191.9,1991.9 L1193.4,1990.7 L1194.9,1989.4 L1196.4,1988.1 L1197.9,1986.8 L1199.4,1985.5 L1200.9,1984.1 L1202.4,1982.7 L1203.9,1981.2 L1205.4,1979.8 L1206.9,1978.3 L1208.4,1976.8 L1209.9,1975.2 L1211.4,1973.7 L1212.9,1972.2 L1214.4,1970.6 L1216.0,1969.1 L1217.5,1967.5 L1219.0,1966.0 L1220.5,1964.4 L1222.0,1962.9 L1223.5,1961.3 L1225.0,1959.8 L1226.5,1958.4 L1228.0,1956.9 L1229.5,1955.5 L1231.0,1954.1 L1232.5,1952.8 L1234.0,1951.5 L1235.5,1950.2 L1237.0,1949.0 L1238.5,1947.8 L1240.0,1946.7 L1241.5,1945.6 L1243.0,1944.6 L1244.5,1943.6 L1246.0,1942.6 L1247.5,1941.6 L1249.0,1940.7 L1250.5,1939.8 L1252.0,1938.9 L1253.5,1938.0 L1255.1,1937.1 L1256.6,1936.3 L1258.1,1935.4 L1259.6,1934.6 L1261.1,1933.9 L1262.6,1933.1 L1264.1,1932.4 L1265.6,1931.7 L1267.1,1931.1 L1268.6,1930.5 L1270.1,1929.9 L1271.6,1929.4 L1273.1,1928.9 L1274.6,1928.4 L1276.1,1927.9 L1277.6,1927.5 L1279.1,1927.0 L1280.6,1926.5 L1282.1,1926.0 L1283.6,1925.6 L1285.1,1925.1 L1286.6,1924.7 L1288.1,1924.3 L1289.6,1923.9 L1291.1,1923.6 L1292.6,1923.3 L1294.1,1923.0 L1295.7,1922.6 L1297.2,1922.3 L1298.7,1922.0 L1300.2,1921.7 L1301.7,1921.4 L1303.2,1921.0 L1304.7,1920.7 L1306.2,1920.3 L1307.7,1920.0 L1309.2,1919.7 L1310.7,1919.4 L1312.2,1919.1 L1313.7,1918.9 L1315.2,1918.7 L1316.7,1918.4 L1318.2,1918.2 L1319.7,1918.0 L1321.2,1917.8 L1322.7,1917.6 L1324.2,1917.4 L1325.7,1917.1 L1327.2,1916.9 L1328.7,1916.6 L1330.2,1916.4 L1331.7,1916.1 L1333.2,1915.9 L1334.8,1915.6 L1336.3,1915.3 L1337.8,1915.0 L1339.3,1914.8 L1340.8,1914.5 L1342.3,1914.2 L1343.8,1913.9 L1345.3,1913.7 L1346.8,1913.4 L1348.3,1913.1 L1349.8,1912.7 L1351.3,1912.4 L1352.8,1912.0 L1354.3,1911.6 L1355.8,1911.2 L1357.3,1910.7 L1358.8,1910.3 L1360.3,1909.8 L1361.8,1909.3 L1363.3,1908.8 L1364.8,1908.3 L1366.3,1907.8 L1367.8,1907.3 L1369.3,1906.8 L1370.8,1906.3 L1372.3,1905.8 L1373.8,1905.3 L1375.4,1904.8 L1376.9,1904.3 L1378.4,1903.8 L1379.9,1903.3 L1381.4,1902.8 L1382.9,1902.2 L1384.4,1901.7 L1385.9,1901.2 L1387.4,1900.6 L1388.9,1900.1 L1390.4,1899.6 L1391.9,1899.1 L1393.4,1898.5 L1394.9,1898.0 L1396.4,1897.5 L1397.9,1897.0 L1399.4,1896.4 L1400.9,1895.9 L1402.4,1895.4 L1403.9,1894.9 L1405.4,1894.4 L1406.9,1893.9 L1408.4,1893.3 L1409.9,1892.8 L1411.4,1892.3 L1412.9,1891.8 L1414.4,1891.3 L1416.0,1890.8 L1417.5,1890.3 L1419.0,1889.8 L1420.5,1889.3 L1422.0,1888.8 L1423.5,1888.3 L1425.0,1887.8 L1426.5,1887.4 L1428.0,1886.9 L1429.5,1886.4 L1431.0,1885.9 L1432.5,1885.4 L1434.0,1884.9 L1435.5,1884.4 L1437.0,1883.9 L1438.5,1883.4 L1440.0,1882.9 L1441.5,1882.4 L1443.0,1881.9 L1444.5,1881.4 L1446.0,1880.9 L1447.5,1880.4 L1449.0,1880.0 L1450.5,1879.5 L1452.0,1879.1 L1453.5,1878.6 L1455.1,1878.2 L1456.6,1877.8 L1458.1,1877.3 L1459.6,1876.9 L1461.1,1876.5 L1462.6,1876.1 L1464.1,1875.7 L1465.6,1875.3 L1467.1,1874.9 L1468.6,1874.5 L1470.1,1874.2 L1471.6,1873.8 L1473.1,1873.4 L1474.6,1873.0 L1476.1,1872.6 L1477.6,1872.2 L1479.1,1871.8 L1480.6,1871.4 L1482.1,1871.0 L1483.6,1870.6 L1485.1,1870.2 L1486.6,1869.8 L1488.1,1869.4 L1489.6,1869.0 L1491.1,1868.6 L1492.6,1868.2 L1494.1,1867.8 L1495.7,1867.4 L1497.2,1867.0 L1498.7,1866.6 L1500.2,1866.2 L1501.7,1865.8 L1503.2,1865.4 L1504.7,1865.0 L1506.2,1864.6 L1507.7,1864.2 L1509.2,1863.8 L1510.7,1863.4 L1512.2,1863.0 L1513.7,1862.6 L1515.2,1862.2 L1516.7,1861.8 L1518.2,1861.4 L1519.7,1861.1 L1521.2,1860.7 L1522.7,1860.3 L1524.2,1859.9 L1525.7,1859.6 L1527.2,1859.2 L1528.7,1858.8 L1530.2,1858.4 L1531.7,1858.1 L1533.2,1857.7 L1534.8,1857.3 L1536.3,1857.0 L1537.8,1856.6 L1539.3,1856.2 L1540.8,1855.9 L1542.3,1855.5 L1543.8,1855.1 L1545.3,1854.8" stroke="#0000ff" stroke-width="7.6"/>
<path d="M225.0,1715.3 L226.5,1714.0 L228.0,1712.8 L229.5,1711.5 L231.0,1710.3 L232.5,1709.0 L234.0,1707.7 L235.5,1706.4 L237.0,1705.1 L238.5,1703.8 L240.0,1702.5 L241.5,1701.1 L243.0,1699.8 L244.5,1698.4 L246.0,1697.0 L247.5,1695.5 L249.0,1694.1 L250.5,1692.6 L251.9,1691.2 M276.6,1665.5 L277.6,1664.5 L279.1,1662.9 L280.6,1661.4 L282.1,1659.9 L283.6,1658.3 L285.1,1656.8 L286.6,1655.3 L288.1,1653.9 L289.6,1652.4 L291.1,1651.0 L292.6,1649.6 L294.1,1648.2 L295.7,1646.9 L297.2,1645.6 L298.7,1644.3 L300.2,1643.0 L301.7,1641.7 L303.1,1640.6 M330.9,1621.2 L331.7,1620.7 L333.2,1619.8 L334.8,1618.9 L336.3,1618.0 L337.8,1617.1 L339.3,1616.2 L340.8,1615.4 L342.3,1614.5 L343.8,1613.7 L345.3,1612.8 L346.8,1612.0 L348.3,1611.2 L349.8,1610.4 L351.3,1609.5 L352.8,1608.7 L354.3,1608.0 L355.8,1607.2 L357.3,1606.4 L358.8,1605.6 L360.3,1604.9 L360.8,1604.6 M390.7,1591.8 L391.9,1591.4 L393.4,1590.9 L394.9,1590.4 L396.4,1589.9 L397.9,1589.4 L399.4,1589.0 L400.9,1588.5 L402.4,1588.1 L403.9,1587.7 L405.4,1587.3 L406.9,1587.0 L408.4,1586.7 L409.9,1586.4 L411.4,1586.1 L412.9,1585.9 L414.4,1585.7 L416.0,1585.6 L417.5,1585.5 L419.0,1585.4 L420.5,1585.4 L422.0,1585.4 L422.7,1585.5 M453.2,1594.1 L453.5,1594.3 L455.1,1595.0 L456.6,1595.8 L458.1,1596.6 L459.6,1597.4 L461.1,1598.2 L462.6,1599.0 L464.1,1599.9 L465.6,1600.7 L467.1,1601.6 L468.6,1602.5 L470.1,1603.4 L471.6,1604.3 L473.1,1605.3 L474.6,1606.2 L476.1,1607.2 L477.6,1608.1 L479.1,1609.1 L480.6,1610.1 L482.1,1611.1 L482.9,1611.6 M510.9,1630.5 L512.2,1631.4 L513.7,1632.4 L515.2,1633.4 L516.7,1634.3 L518.2,1635.3 L519.7,1636.3 L521.2,1637.3 L522.7,1638.2 L524.2,1639.2 L525.7,1640.1 L527.2,1641.0 L528.7,1642.0 L530.2,1642.9 L531.7,1643.8 L533.2,1644.7 L534.8,1645.6 L536.3,1646.5 L537.8,1647.4 L539.3,1648.3 L540.2,1648.9 M568.9,1665.8 L569.3,1666.0 L570.8,1666.9 L572.3,1667.8 L573.8,1668.7 L575.4,1669.6 L576.9,1670.5 L578.4,1671.3 L579.9,1672.2 L581.4,1673.0 L582.9,1673.8 L584.4,1674.6 L585.9,1675.3 L587.4,1675.9 L588.9,1676.5 L590.4,1677.1 L591.9,1677.6 L593.4,1678.0 L594.9,1678.4 L596.4,1678.6 L597.9,1678.8 L599.4,1679.0 L599.6,1679.0 M629.2,1667.2 L629.5,1667.0 L631.0,1665.8 L632.5,1664.5 L634.0,1663.2 L635.5,1661.8 L637.0,1660.4 L638.5,1658.9 L640.0,1657.3 L641.5,1655.7 L643.0,1654.1 L644.5,1652.4 L646.0,1650.6 L647.5,1648.8 L649.0,1647.0 L650.5,1645.1 L652.0,1643.1 L653.5,1641.2 L654.4,1640.0 M677.1,1611.3 L677.6,1610.7 L679.1,1609.1 L680.6,1607.7 L682.1,1606.2 L683.6,1604.8 L685.1,1603.5 L686.6,1602.3 L688.1,1601.1 L689.6,1600.0 L691.1,1598.9 L692.6,1597.9 L694.1,1596.9 L695.7,1596.1 L697.2,1595.2 L698.7,1594.5 L700.2,1593.8 L701.7,1593.2 L703.2,1592.6 L704.7,1592.1 L705.7,1591.8 M736.8,1593.1 L737.8,1593.4 L739.3,1593.9 L740.8,1594.5 L742.3,1595.0 L743.8,1595.5 L745.3,1596.1 L746.8,1596.7 L748.3,1597.2 L749.8,1597.8 L751.3,1598.4 L752.8,1599.0 L754.3,1599.6 L755.8,1600.1 L757.3,1600.7 L758.8,1601.2 L760.3,1601.8 L761.8,1602.3 L763.3,1602.8 L764.8,1603.2 L766.3,1603.7 L767.8,1604.1 L768.2,1604.2 M799.0,1611.9 L799.4,1612.0 L800.9,1612.4 L802.4,1612.8 L803.9,1613.3 L805.4,1613.7 L806.9,1614.1 L808.4,1614.5 L809.9,1615.0 L811.4,1615.4 L812.9,1615.8 L814.4,1616.2 L816.0,1616.7 L817.5,1617.1 L819.0,1617.5 L820.5,1617.9 L822.0,1618.3 L823.5,1618.7 L825.0,1619.1 L826.5,1619.5 L828.0,1619.9 L829.5,1620.3 L830.8,1620.7 M861.6,1628.5 L862.6,1628.8 L864.1,1629.1 L865.6,1629.5 L867.1,1629.9 L868.6,1630.3 L870.1,1630.7 L871.6,1631.1 L873.1,1631.6 L874.6,1632.0 L876.1,1632.4 L877.6,1632.8 L879.1,1633.2 L880.6,1633.7 L882.1,1634.1 L883.6,1634.6 L885.1,1635.0 L886.6,1635.5 L888.1,1635.9 L889.6,1636.4 L891.1,1636.9 L892.6,1637.4 L893.3,1637.6 M923.2,1650.2 L924.2,1650.8 L925.7,1651.6 L927.2,1652.5 L928.7,1653.4 L930.2,1654.4 L931.7,1655.4 L933.2,1656.5 L934.8,1657.7 L936.3,1659.0 L937.8,1660.4 L939.3,1661.9 L940.8,1663.4 L942.3,1665.2 L943.8,1667.0 L945.3,1668.9 L946.8,1671.0 L948.3,1673.2 L949.4,1674.9 M966.2,1710.0 L966.3,1710.2 L967.8,1714.2 L969.3,1718.5 L970.8,1722.9 L972.3,1727.6 L973.8,1732.4 L975.4,1737.5 L976.9,1742.8 L978.4,1748.3 L978.8,1749.8 M988.6,1789.4 L988.9,1790.6 L990.4,1796.8 L991.9,1803.0 L993.4,1809.2 L994.9,1815.2 L996.4,1821.2 L997.9,1827.1 L998.7,1830.4 M1008.6,1870.0 L1009.9,1876.0 L1011.4,1882.6 L1012.9,1889.4 L1014.4,1896.4 L1016.0,1903.6 L1017.5,1910.8 L1017.6,1911.5 M1026.6,1951.5 L1028.0,1956.6 L1029.5,1962.0 L1031.0,1967.1 L1032.5,1971.9 L1034.0,1976.7 L1035.5,1981.2 L1037.0,1985.7 L1038.5,1990.1 L1039.0,1991.4 M1055.3,2026.7 L1056.6,2028.3 L1058.1,2029.9 L1059.6,2031.4 L1061.1,2032.7 L1062.6,2033.8 L1064.1,2034.8 L1065.6,2035.6 L1067.1,2036.3 L1068.6,2036.8 L1070.1,2037.2 L1071.6,2037.5 L1073.1,2037.8 L1074.6,2037.9 L1076.1,2038.0 L1077.6,2038.0 L1079.1,2038.0 L1080.6,2037.9 L1082.1,2037.8 L1083.6,2037.7 L1085.1,2037.6 L1085.5,2037.5 M1116.6,2031.9 L1116.7,2031.9 L1118.2,2031.7 L1119.7,2031.5 L1121.2,2031.3 L1122.7,2031.2 L1124.2,2031.1 L1125.7,2030.9 L1127.2,2030.8 L1128.7,2030.7 L1130.2,2030.7 L1131.7,2030.6 L1133.2,2030.6 L1134.8,2030.6 L1136.3,2030.6 L1137.8,2030.6 L1139.3,2030.6 L1140.8,2030.7 L1142.3,2030.8 L1143.8,2030.9 L1145.3,2031.0 L1146.8,2031.1 L1148.3,2031.2 L1149.0,2031.3 M1180.3,2033.6 L1181.4,2033.6 L1182.9,2033.5 L1184.4,2033.3 L1185.9,2033.1 L1187.4,2032.9 L1188.9,2032.6 L1190.4,2032.2 L1191.9,2031.9 L1193.4,2031.4 L1194.9,2030.9 L1196.4,2030.4 L1197.9,2029.7 L1199.4,2029.0 L1200.9,2028.3 L1202.4,2027.4 L1203.9,2026.5 L1205.4,2025.5 L1206.9,2024.5 L1208.4,2023.4 L1209.9,2022.3 L1211.0,2021.4 M1237.1,1998.2 L1238.5,1997.0 L1240.0,1995.8 L1241.5,1994.6 L1243.0,1993.4 L1244.5,1992.2 L1246.0,1991.1 L1247.5,1989.9 L1249.0,1988.8 L1250.5,1987.6 L1252.0,1986.5 L1253.5,1985.4 L1255.1,1984.3 L1256.6,1983.2 L1258.1,1982.1 L1259.6,1981.0 L1261.1,1979.9 L1262.6,1978.8 L1264.1,1977.7 L1265.3,1976.8 M1293.7,1959.2 L1294.1,1959.0 L1295.7,1958.3 L1297.2,1957.7 L1298.7,1957.1 L1300.2,1956.4 L1301.7,1955.8 L1303.2,1955.2 L1304.7,1954.7 L1306.2,1954.1 L1307.7,1953.5 L1309.2,1953.0 L1310.7,1952.5 L1312.2,1951.9 L1313.7,1951.4 L1315.2,1950.8 L1316.7,1950.3 L1318.2,1949.7 L1319.7,1949.2 L1321.2,1948.6 L1322.7,1948.0 L1324.2,1947.4 L1324.9,1947.2 M1354.6,1934.1 L1355.8,1933.5 L1357.3,1932.8 L1358.8,1932.0 L1360.3,1931.3 L1361.8,1930.5 L1363.3,1929.8 L1364.8,1929.0 L1366.3,1928.3 L1367.8,1927.5 L1369.3,1926.8 L1370.8,1926.0 L1372.3,1925.2 L1373.8,1924.5 L1375.4,1923.7 L1376.9,1923.0 L1378.4,1922.2 L1379.9,1921.4 L1381.4,1920.7 L1382.9,1919.9 L1384.4,1919.2 L1385.0,1918.8 M1414.8,1906.0 L1416.0,1905.6 L1417.5,1905.1 L1419.0,1904.6 L1420.5,1904.1 L1422.0,1903.7 L1423.5,1903.2 L1425.0,1902.8 L1426.5,1902.3 L1428.0,1901.9 L1429.5,1901.4 L1431.0,1900.9 L1432.5,1900.5 L1434.0,1900.0 L1435.5,1899.5 L1437.0,1899.0 L1438.5,1898.4 L1440.0,1897.9 L1441.5,1897.3 L1443.0,1896.7 L1444.5,1896.1 L1446.0,1895.4 L1446.3,1895.3 M1476.0,1882.0 L1476.1,1881.9 L1477.6,1881.4 L1479.1,1880.8 L1480.6,1880.3 L1482.1,1879.7 L1483.6,1879.2 L1485.1,1878.7 L1486.6,1878.2 L1488.1,1877.7 L1489.6,1877.2 L1491.1,1876.7 L1492.6,1876.3 L1494.1,1875.8 L1495.7,1875.4 L1497.2,1874.9 L1498.7,1874.4 L1500.2,1874.0 L1501.7,1873.5 L1502.0,1873.4" stroke="#ff8000"/>
<path d="M225.0,1736.4 L226.5,1734.9 L228.0,1733.5 L229.5,1732.0 L231.0,1730.5 L232.5,1729.0 L234.0,1727.6 L235.5,1726.1 L237.0,1724.6 L238.5,1723.1 L240.0,1721.5 L241.5,1720.0 L243.0,1718.5 L244.5,1716.9 L246.0,1715.3 L247.5,1713.7 L249.0,1712.1 L250.5,1710.5 L252.0,1708.9 L253.5,1707.2 L255.1,1705.5 L256.2,1704.3 M267.7,1691.4 L268.6,1690.4 L270.1,1688.7 L271.6,1687.1 L273.1,1685.4 L274.6,1683.8 L275.8,1682.5 M287.3,1669.6 L288.1,1668.7 L289.6,1667.0 L291.1,1665.2 L292.6,1663.5 L294.1,1661.8 L295.7,1660.0 L297.2,1658.3 L298.7,1656.5 L300.2,1654.8 L301.7,1653.1 L303.2,1651.4 L304.7,1649.7 L306.2,1648.1 L307.7,1646.6 L309.2,1645.0 L310.7,1643.6 L312.2,1642.2 L313.7,1640.8 L315.2,1639.5 L316.7,1638.3 L318.2,1637.1 L318.3,1637.1 M331.8,1628.4 L333.2,1627.6 L334.8,1626.8 L336.3,1626.0 L337.8,1625.2 L339.3,1624.5 L340.8,1623.7 L341.6,1623.3 M355.6,1616.0 L355.8,1615.9 L357.3,1615.1 L358.8,1614.2 L360.3,1613.3 L361.8,1612.4 L363.3,1611.5 L364.8,1610.5 L366.3,1609.5 L367.8,1608.5 L369.3,1607.5 L370.8,1606.5 L372.3,1605.5 L373.8,1604.5 L375.4,1603.5 L376.9,1602.5 L378.4,1601.6 L379.9,1600.6 L381.4,1599.7 L382.9,1598.8 L384.4,1598.0 L385.9,1597.2 L387.4,1596.4 L388.9,1595.6 L390.4,1594.9 L391.6,1594.4 M406.1,1589.3 L406.9,1589.0 L408.4,1588.7 L409.9,1588.3 L411.4,1588.0 L412.9,1587.7 L414.4,1587.4 L416.0,1587.1 L416.5,1587.0 M431.5,1586.0 L432.5,1586.0 L434.0,1586.1 L435.5,1586.2 L437.0,1586.3 L438.5,1586.5 L440.0,1586.7 L441.5,1586.9 L443.0,1587.2 L444.5,1587.5 L446.0,1587.8 L447.5,1588.2 L449.0,1588.6 L450.5,1589.0 L452.0,1589.4 L453.5,1589.9 L455.1,1590.4 L456.6,1590.9 L458.1,1591.4 L459.6,1592.0 L461.1,1592.6 L462.6,1593.2 L464.1,1593.8 L465.6,1594.4 L467.1,1595.0 L468.6,1595.7 L470.1,1596.4 M484.1,1603.4 L485.1,1604.0 L486.6,1604.8 L488.1,1605.7 L489.6,1606.6 L491.1,1607.5 L492.6,1608.4 L493.8,1609.0 M507.2,1618.2 L507.7,1618.6 L509.2,1619.7 L510.7,1620.9 L512.2,1622.2 L513.7,1623.4 L515.2,1624.7 L516.7,1626.0 L518.2,1627.4 L519.7,1628.7 L521.2,1630.1 L522.7,1631.5 L524.2,1632.9 L525.7,1634.3 L527.2,1635.7 L528.7,1637.1 L530.2,1638.5 L531.7,1639.8 L533.2,1641.2 L534.8,1642.6 L536.3,1643.9 L537.8,1645.3 L539.3,1646.6 L540.0,1647.2 M553.0,1657.4 L554.3,1658.4 L555.8,1659.4 L557.3,1660.4 L558.8,1661.3 L560.3,1662.3 L561.8,1663.2 L562.4,1663.5 M576.7,1670.0 L576.9,1670.1 L578.4,1670.5 L579.9,1671.0 L581.4,1671.4 L582.9,1671.7 L584.4,1672.0 L585.9,1672.3 L587.4,1672.5 L588.9,1672.6 L590.4,1672.7 L591.9,1672.8 L593.4,1672.8 L594.9,1672.7 L596.4,1672.5 L597.9,1672.3 L599.4,1672.0 L600.9,1671.6 L602.4,1671.1 L603.9,1670.6 L605.4,1670.0 L606.9,1669.3 L608.4,1668.5 L609.9,1667.6 L611.4,1666.6 L612.9,1665.6 L614.4,1664.5 L614.8,1664.2 M627.1,1652.9 L628.0,1652.0 L629.5,1650.4 L631.0,1648.8 L632.5,1647.1 L634.0,1645.5 L635.3,1644.0 M646.8,1631.1 L647.5,1630.3 L649.0,1628.6 L650.5,1627.0 L652.0,1625.3 L653.5,1623.7 L655.1,1622.1 L656.6,1620.4 L658.1,1618.8 L659.6,1617.1 L661.1,1615.5 L662.6,1613.8 L664.1,1612.1 L665.6,1610.4 L667.1,1608.7 L668.6,1607.0 L670.1,1605.4 L671.6,1603.7 L673.1,1602.1 L674.6,1600.5 L676.1,1598.9 L677.3,1597.7 M690.0,1587.0 L691.1,1586.2 L692.6,1585.3 L694.1,1584.5 L695.7,1583.8 L697.2,1583.2 L698.7,1582.6 L699.8,1582.2 M714.8,1580.3 L715.2,1580.3 L716.7,1580.4 L718.2,1580.4 L719.7,1580.6 L721.2,1580.7 L722.7,1580.8 L724.2,1581.0 L725.7,1581.2 L727.2,1581.4 L728.7,1581.7 L730.2,1581.9 L731.7,1582.2 L733.2,1582.5 L734.8,1582.7 L736.3,1583.1 L737.8,1583.4 L739.3,1583.7 L740.8,1584.1 L742.3,1584.4 L743.8,1584.8 L745.3,1585.2 L746.8,1585.6 L748.3,1586.0 L749.8,1586.4 L751.3,1586.9 L752.8,1587.3 L753.8,1587.6 M768.5,1592.2 L769.3,1592.5 L770.8,1592.9 L772.3,1593.4 L773.8,1593.9 L775.4,1594.4 L776.9,1594.9 L778.4,1595.4 L778.7,1595.5 M793.3,1600.3 L793.4,1600.4 L794.9,1600.9 L796.4,1601.4 L797.9,1601.9 L799.4,1602.4 L800.9,1603.0 L802.4,1603.5 L803.9,1604.1 L805.4,1604.6 L806.9,1605.2 L808.4,1605.7 L809.9,1606.3 L811.4,1606.8 L812.9,1607.4 L814.4,1608.0 L816.0,1608.5 L817.5,1609.1 L819.0,1609.6 L820.5,1610.2 L822.0,1610.7 L823.5,1611.3 L825.0,1611.8 L826.5,1612.3 L828.0,1612.8 L829.5,1613.3 L831.0,1613.8 L831.4,1614.0 M846.1,1618.2 L847.5,1618.6 L849.0,1619.0 L850.5,1619.4 L852.0,1619.8 L853.5,1620.2 L855.1,1620.6 L856.5,1620.9 M871.2,1624.9 L871.6,1625.0 L873.1,1625.4 L874.6,1625.8 L876.1,1626.3 L877.6,1626.7 L879.1,1627.2 L880.6,1627.7 L882.1,1628.1 L883.6,1628.6 L885.1,1629.1 L886.6,1629.5 L888.1,1630.0 L889.6,1630.5 L891.1,1630.9 L892.6,1631.3 L894.1,1631.8 L895.7,1632.2 L897.2,1632.5 L898.7,1632.9 L900.2,1633.2 L901.7,1633.5 L903.2,1633.8 L904.7,1634.0 L906.2,1634.2 L907.7,1634.4 L909.2,1634.5 L910.0,1634.6 M924.9,1636.9 L925.7,1637.1 L927.2,1637.6 L928.7,1638.2 L930.2,1638.9 L931.7,1639.7 L933.2,1640.6 L934.8,1641.6 L934.8,1641.6 M946.5,1654.1 L946.8,1654.6 L948.3,1656.9 L949.8,1659.5 L951.3,1662.3 L952.8,1665.2 L954.3,1668.4 L955.8,1671.7 L957.3,1675.2 L958.8,1678.9 L960.3,1682.8 L961.8,1686.8 L963.3,1691.1 L964.8,1695.5 L966.1,1699.4 M971.6,1718.0 L972.3,1720.7 L973.8,1726.4 L975.1,1731.2 M979.6,1750.3 L979.9,1751.3 L981.4,1758.0 L982.9,1764.8 L984.4,1771.7 L985.9,1778.6 L987.4,1785.6 L988.9,1792.5 L990.4,1799.3 L990.7,1800.7 M995.1,1819.9 L996.4,1825.5 L997.9,1831.9 L998.2,1833.2 M1002.8,1852.3 L1003.9,1857.0 L1005.4,1863.4 L1006.9,1870.0 L1008.4,1876.7 L1009.9,1883.5 L1011.4,1890.5 L1012.9,1897.7 L1014.0,1902.7 M1017.9,1922.0 L1019.0,1927.2 L1020.5,1934.5 L1020.7,1935.5 M1024.8,1954.8 L1025.0,1955.6 L1026.5,1962.4 L1028.0,1969.0 L1029.5,1975.5 L1031.0,1981.8 L1032.5,1987.9 L1034.0,1993.7 L1035.5,1999.4 L1037.0,2004.7 M1042.8,2023.1 L1043.0,2023.7 L1044.5,2027.8 L1046.0,2031.7 L1047.5,2035.4 L1047.6,2035.6 M1056.1,2052.1 L1056.6,2052.9 L1058.1,2055.1 L1059.6,2057.2 L1061.1,2059.1 L1062.6,2060.8 L1064.1,2062.4 L1065.6,2063.8 L1067.1,2065.1 L1068.6,2066.3 L1070.1,2067.4 L1071.6,2068.3 L1073.1,2069.2 L1074.6,2069.9 L1076.1,2070.6 L1077.6,2071.2 L1079.1,2071.7 L1080.6,2072.1 L1082.1,2072.5 L1083.6,2072.9 L1085.1,2073.2 L1086.6,2073.5 L1088.1,2073.8 L1089.6,2074.1 L1090.6,2074.3 M1105.4,2077.3 L1106.2,2077.4 L1107.7,2077.7 L1109.2,2078.0 L1110.7,2078.2 L1112.2,2078.5 L1113.7,2078.7 L1115.2,2078.9 L1115.9,2078.9 M1131.0,2079.9 L1131.7,2079.9 L1133.2,2080.0 L1134.8,2080.1 L1136.3,2080.2 L1137.8,2080.3 L1139.3,2080.5 L1140.8,2080.7 L1142.3,2080.8 L1143.8,2081.0 L1145.3,2081.2 L1146.8,2081.3 L1148.3,2081.5 L1149.8,2081.6 L1151.3,2081.7 L1152.8,2081.8 L1154.3,2081.9 L1155.8,2081.9 L1157.3,2081.9 L1158.8,2081.9 L1160.3,2081.8 L1161.8,2081.7 L1163.3,2081.5 L1164.8,2081.3 L1166.3,2081.0 L1167.8,2080.6 L1169.3,2080.2 L1170.3,2079.9 M1184.0,2072.0 L1184.4,2071.8 L1185.9,2070.6 L1187.4,2069.3 L1188.9,2068.0 L1190.4,2066.7 L1191.9,2065.3 L1192.8,2064.4 M1204.7,2052.1 L1205.4,2051.3 L1206.9,2049.7 L1208.4,2048.1 L1209.9,2046.4 L1211.4,2044.8 L1212.9,2043.1 L1214.4,2041.5 L1216.0,2039.9 L1217.5,2038.3 L1219.0,2036.7 L1220.5,2035.1 L1222.0,2033.5 L1223.5,2031.9 L1225.0,2030.3 L1226.5,2028.8 L1228.0,2027.2 L1229.5,2025.7 L1231.0,2024.2 L1232.5,2022.7 L1234.0,2021.2 L1235.5,2019.8 L1235.7,2019.6 M1248.2,2008.4 L1249.0,2007.6 L1250.5,2006.4 L1252.0,2005.1 L1253.5,2003.9 L1255.1,2002.7 L1256.6,2001.5 L1257.1,2001.0 M1270.2,1990.9 L1271.6,1989.9 L1273.1,1988.8 L1274.6,1987.7 L1276.1,1986.6 L1277.6,1985.6 L1279.1,1984.5 L1280.6,1983.5 L1282.1,1982.5 L1283.6,1981.5 L1285.1,1980.5 L1286.6,1979.5 L1288.1,1978.6 L1289.6,1977.6 L1291.1,1976.7 L1292.6,1975.8 L1294.1,1974.9 L1295.7,1974.1 L1297.2,1973.2 L1298.7,1972.4 L1300.2,1971.6 L1301.7,1970.9 L1303.2,1970.1 L1304.7,1969.4 L1305.9,1968.8 M1320.3,1962.8 L1321.2,1962.4 L1322.7,1961.7 L1324.2,1960.9 L1325.7,1960.1 L1327.2,1959.3 L1328.7,1958.4 L1330.0,1957.6 M1343.2,1947.9 L1343.8,1947.5 L1345.3,1946.4 L1346.8,1945.3 L1348.3,1944.3 L1349.8,1943.3 L1351.3,1942.3 L1352.8,1941.5 L1354.3,1940.6 L1355.8,1939.8 L1357.3,1939.0 L1358.8,1938.2 L1360.3,1937.4 L1361.8,1936.6 L1363.3,1935.8 L1364.8,1935.0 L1366.3,1934.2 L1367.8,1933.4 L1369.3,1932.6 L1370.8,1931.8 L1372.3,1931.0 L1373.8,1930.3 L1375.4,1929.5 L1376.9,1928.8 L1378.4,1928.1 L1379.6,1927.6 M1393.2,1919.2 L1393.4,1919.0 L1394.9,1918.0 L1396.4,1916.9 L1397.9,1915.7 L1399.4,1914.6 L1400.9,1913.5 L1402.4,1912.4 M1415.8,1903.2 L1416.0,1903.1 L1417.5,1902.2 L1419.0,1901.3 L1420.5,1900.3 L1422.0,1899.4 L1423.5,1898.5 L1425.0,1897.7 L1426.5,1896.8 L1428.0,1896.0 L1429.5,1895.2 L1431.0,1894.4 L1432.5,1893.6 L1434.0,1892.8 L1435.5,1892.1 L1437.0,1891.3 L1438.5,1890.6 L1440.0,1889.9 L1441.5,1889.2 L1443.0,1888.5 L1444.5,1887.8 L1446.0,1887.1 L1447.5,1886.5 L1449.0,1885.8 L1450.5,1885.1 L1452.0,1884.5 L1452.6,1884.3" stroke="#ff00ff"/>
<path d="M225.0,1719.2 L226.5,1717.9 L228.0,1716.6 L229.5,1715.3 L231.0,1714.0 L232.5,1712.6 L234.0,1711.3 L235.5,1709.9 L237.0,1708.5 L238.5,1707.1 L240.0,1705.7 L241.5,1704.2 L243.0,1702.7 L244.5,1701.2 L246.0,1699.6 L247.5,1698.0 L249.0,1696.4 L249.4,1696.0 M260.9,1683.0 L261.1,1682.8 L262.6,1681.1 L264.1,1679.4 L265.6,1677.6 L267.1,1675.9 L268.6,1674.2 L269.1,1673.5 M280.7,1660.7 L282.1,1659.3 L283.6,1657.7 L285.1,1656.2 L286.6,1654.7 L288.1,1653.2 L289.1,1652.3 M301.5,1640.4 L301.7,1640.2 L303.2,1638.8 L304.7,1637.4 L306.2,1636.0 L307.7,1634.5 L309.2,1633.1 L310.7,1631.7 L312.2,1630.2 L313.7,1628.8 L315.2,1627.4 L316.7,1625.9 L318.2,1624.5 L319.7,1623.1 L321.2,1621.7 L322.7,1620.3 L324.2,1619.0 L325.7,1617.6 L326.1,1617.3 M338.9,1606.9 L339.3,1606.7 L340.8,1605.6 L342.3,1604.6 L343.8,1603.6 L345.3,1602.6 L346.8,1601.6 L348.3,1600.7 L348.7,1600.5 M362.5,1592.7 L363.3,1592.2 L364.8,1591.4 L366.3,1590.6 L367.8,1589.8 L369.3,1588.9 L370.8,1588.1 L372.3,1587.4 M386.6,1580.3 L387.4,1580.0 L388.9,1579.4 L390.4,1578.8 L391.9,1578.2 L393.4,1577.7 L394.9,1577.2 L396.4,1576.7 L397.9,1576.3 L399.4,1575.9 L400.9,1575.5 L402.4,1575.2 L403.9,1574.9 L405.4,1574.6 L406.9,1574.3 L408.4,1574.1 L409.9,1573.9 L411.4,1573.6 L412.9,1573.5 L414.4,1573.3 L416.0,1573.1 L416.1,1573.1 M431.1,1571.5 L432.5,1571.4 L434.0,1571.2 L435.5,1571.1 L437.0,1571.0 L438.5,1570.9 L440.0,1570.8 L441.5,1570.8 L442.0,1570.7 M456.9,1572.7 L458.1,1573.1 L459.6,1573.7 L461.1,1574.3 L462.6,1575.1 L464.1,1575.9 L465.6,1576.7 L466.8,1577.4 M480.4,1586.8 L480.6,1586.9 L482.1,1588.0 L483.6,1589.1 L485.1,1590.2 L486.6,1591.3 L488.1,1592.4 L489.6,1593.5 L491.1,1594.7 L492.6,1595.9 L494.1,1597.1 L495.7,1598.3 L497.2,1599.6 L498.7,1600.9 L500.2,1602.3 L501.7,1603.7 L503.2,1605.2 L504.7,1606.7 L505.9,1607.9 M517.7,1620.3 L518.2,1620.9 L519.7,1622.3 L521.2,1623.7 L522.7,1625.1 L524.2,1626.3 L525.7,1627.6 L526.7,1628.4 M540.2,1637.2 L540.8,1637.5 L542.3,1638.4 L543.8,1639.1 L545.3,1639.9 L546.8,1640.6 L548.3,1641.4 L549.8,1642.0 L550.1,1642.1 M565.1,1645.7 L566.3,1645.6 L567.8,1645.5 L569.3,1645.3 L570.8,1645.0 L572.3,1644.7 L573.8,1644.2 L575.4,1643.7 L576.9,1643.2 L578.4,1642.5 L579.9,1641.9 L581.4,1641.1 L582.9,1640.3 L584.4,1639.5 L585.9,1638.6 L587.4,1637.6 L588.9,1636.7 L590.4,1635.7 L591.9,1634.6 L593.4,1633.6 L593.4,1633.5 M606.4,1623.5 L606.9,1623.1 L608.4,1621.9 L609.9,1620.7 L611.4,1619.5 L612.9,1618.4 L614.4,1617.2 L615.8,1616.1 M628.9,1606.3 L629.5,1605.8 L631.0,1604.7 L632.5,1603.6 L634.0,1602.5 L635.5,1601.4 L637.0,1600.4 L638.1,1599.6 M651.9,1590.8 L652.0,1590.7 L653.5,1589.9 L655.1,1589.1 L656.6,1588.4 L658.1,1587.7 L659.6,1587.0 L661.1,1586.3 L662.6,1585.7 L664.1,1585.1 L665.6,1584.5 L667.1,1583.9 L668.6,1583.3 L670.1,1582.8 L671.6,1582.2 L673.1,1581.7 L674.6,1581.2 L676.1,1580.7 L677.6,1580.2 L679.1,1579.7 L680.6,1579.3 L680.7,1579.3 M695.5,1575.6 L695.7,1575.6 L697.2,1575.3 L698.7,1575.0 L700.2,1574.7 L701.7,1574.5 L703.2,1574.3 L704.7,1574.0 L706.2,1573.9 L706.3,1573.8 M721.3,1572.9 L722.7,1572.9 L724.2,1573.0 L725.7,1573.0 L727.2,1573.1 L728.7,1573.2 L730.2,1573.4 L731.7,1573.5 L731.8,1573.5 M746.9,1576.5 L748.3,1576.9 L749.8,1577.4 L751.3,1577.9 L752.8,1578.4 L754.3,1578.9 L755.8,1579.5 L757.3,1580.1 L758.8,1580.7 L760.3,1581.3 L761.8,1582.0 L763.3,1582.6 L764.8,1583.3 L766.3,1584.0 L767.8,1584.7 L769.3,1585.4 L770.8,1586.1 L772.3,1586.8 L773.8,1587.6 L775.4,1588.3 L775.6,1588.4 M789.7,1595.5 L790.4,1595.8 L791.9,1596.6 L793.4,1597.3 L794.9,1598.1 L796.4,1598.9 L797.9,1599.6 L799.4,1600.4 L799.9,1600.6 M814.0,1607.7 L814.4,1607.9 L816.0,1608.7 L817.5,1609.4 L819.0,1610.2 L820.5,1611.0 L822.0,1611.7 L823.5,1612.5 L823.8,1612.6 M838.1,1619.7 L838.5,1619.9 L840.0,1620.6 L841.5,1621.3 L843.0,1622.0 L844.5,1622.7 L846.0,1623.4 L847.5,1624.0 L849.0,1624.7 L850.5,1625.3 L852.0,1626.0 L853.5,1626.6 L855.1,1627.2 L856.6,1627.8 L858.1,1628.4 L859.6,1629.0 L861.1,1629.6 L862.6,1630.2 L864.1,1630.7 L865.6,1631.3 L866.8,1631.7 M881.4,1636.5 L882.1,1636.8 L883.6,1637.2 L885.1,1637.6 L886.6,1638.0 L888.1,1638.4 L889.6,1638.8 L891.1,1639.1 L892.1,1639.4 M906.8,1643.6 L907.7,1643.9 L909.2,1644.5 L910.7,1645.2 L912.2,1645.9 L913.7,1646.6 L915.2,1647.5 L916.7,1648.4 M929.0,1660.2 L930.2,1661.8 L931.7,1664.1 L933.2,1666.5 L934.8,1669.0 L936.3,1671.7 L937.8,1674.5 L939.3,1677.4 L940.8,1680.5 L942.3,1683.8 L943.8,1687.1 L945.3,1690.5 L946.3,1692.8 M953.4,1710.4 L954.3,1712.8 L955.8,1716.7 L957.3,1720.6 L958.3,1723.4 M965.0,1741.3 L966.3,1745.1 L967.8,1749.3 L969.3,1753.6 L969.5,1754.0 M975.8,1772.5 L976.9,1775.6 L978.4,1780.1 L979.9,1784.7 L981.4,1789.4 L982.9,1794.2 L984.4,1799.3 L985.9,1804.7 L987.1,1809.5 M991.9,1828.5 L991.9,1828.6 L993.4,1835.0 L994.9,1841.4 L995.1,1842.4 M999.5,1861.5 L1000.9,1867.8 L1002.4,1874.7 L1002.5,1874.9 M1006.7,1894.5 L1006.9,1895.4 L1008.4,1902.4 L1009.9,1909.3 L1011.4,1916.2 L1012.9,1923.0 L1014.4,1929.8 L1015.2,1932.9 M1019.7,1951.9 L1020.5,1954.9 L1022.0,1960.5 L1023.4,1965.6 M1029.1,1984.1 L1029.5,1985.4 L1031.0,1989.9 L1032.5,1994.2 L1033.4,1996.8 M1040.2,2015.1 L1041.5,2018.5 L1043.0,2022.3 L1044.5,2026.1 L1046.0,2029.8 L1047.5,2033.6 L1049.0,2037.3 L1050.5,2040.9 L1052.0,2044.5 L1053.5,2048.1 L1054.5,2050.3 M1062.2,2067.4 L1062.6,2068.1 L1064.1,2071.2 L1065.6,2074.1 L1067.1,2077.0 L1068.4,2079.4 M1078.0,2094.7 L1079.1,2096.2 L1080.6,2098.1 L1082.1,2099.9 L1083.6,2101.5 L1085.1,2103.1 L1085.9,2103.9 M1099.5,2113.3 L1100.2,2113.6 L1101.7,2114.3 L1103.2,2115.0 L1104.7,2115.5 L1106.2,2116.0 L1107.7,2116.5 L1109.2,2116.9 L1110.7,2117.3 L1112.2,2117.6 L1113.7,2117.9 L1115.2,2118.1 L1116.7,2118.3 L1118.2,2118.4 L1119.7,2118.5 L1121.2,2118.5 L1122.7,2118.5 L1124.2,2118.5 L1125.7,2118.4 L1127.2,2118.3 L1128.7,2118.1 L1129.1,2118.1 M1143.8,2114.6 L1145.3,2114.0 L1146.8,2113.5 L1148.3,2112.8 L1149.8,2112.2 L1151.3,2111.5 L1152.8,2110.8 L1154.2,2110.1 M1167.6,2101.1 L1167.8,2100.9 L1169.3,2099.6 L1170.8,2098.2 L1172.3,2096.7 L1173.8,2095.2 L1175.4,2093.7 L1176.1,2092.8 M1187.8,2079.7 L1188.9,2078.5 L1190.4,2076.8 L1191.9,2075.2 L1193.4,2073.5 L1194.9,2072.0 L1196.4,2070.4 L1197.9,2068.9 L1199.4,2067.4 L1200.9,2066.0 L1202.4,2064.5 L1203.9,2063.1 L1205.4,2061.7 L1206.9,2060.3 L1208.4,2058.9 L1209.9,2057.6 L1211.4,2056.2 L1211.9,2055.8 M1224.6,2045.1 L1225.0,2044.7 L1226.5,2043.5 L1228.0,2042.3 L1229.5,2041.1 L1231.0,2039.9 L1232.5,2038.7 L1233.9,2037.5 M1246.9,2027.5 L1247.5,2027.0 L1249.0,2025.8 L1250.5,2024.7 L1252.0,2023.5 L1253.5,2022.4 L1255.1,2021.3 L1256.0,2020.5 M1269.4,2010.6 L1270.1,2010.2 L1271.6,2009.1 L1273.1,2008.0 L1274.6,2007.0 L1276.1,2006.0 L1277.6,2005.0 L1279.1,2003.9 L1280.6,2003.0 L1282.1,2002.0 L1283.6,2001.0 L1285.1,2000.0 L1286.6,1999.1 L1288.1,1998.1 L1289.6,1997.1 L1291.1,1996.1 L1292.6,1995.1 L1294.1,1994.1 L1295.7,1993.1 L1296.3,1992.6 M1309.5,1983.1 L1310.7,1982.3 L1312.2,1981.3 L1313.7,1980.3 L1315.2,1979.3 L1316.7,1978.3 L1318.2,1977.4 L1319.3,1976.7 M1332.9,1968.3 L1333.2,1968.1 L1334.8,1967.1 L1336.3,1966.1 L1337.8,1965.1 L1339.3,1964.0 L1340.8,1962.9 L1342.2,1961.8 M1355.6,1952.0 L1355.8,1951.8 L1357.3,1950.8 L1358.8,1949.9 L1360.3,1948.9 L1361.8,1948.0 L1363.3,1947.1 L1364.8,1946.3 L1366.3,1945.4 L1367.8,1944.6 L1369.3,1943.7 L1370.8,1942.9 L1372.3,1942.0 L1373.8,1941.2 L1375.4,1940.4 L1376.9,1939.6 L1378.4,1938.8 L1379.9,1938.0 L1381.4,1937.2 L1382.9,1936.4 L1383.2,1936.2 M1397.3,1929.1 L1397.9,1928.8 L1399.4,1928.0 L1400.9,1927.3 L1402.4,1926.5 L1403.9,1925.7 L1405.4,1925.0 L1406.9,1924.2 L1407.5,1923.9 M1421.4,1916.4 L1422.0,1916.1 L1423.5,1915.3 L1425.0,1914.5 L1426.3,1913.8" stroke="#008000"/>
<path d="M225.0,1697.9 L226.5,1696.3 L228.0,1694.7 L229.5,1693.1 L231.0,1691.5 L232.5,1689.9 L234.0,1688.3 L235.5,1686.7 L237.0,1685.1 L238.5,1683.5 L240.0,1681.9 L241.5,1680.3 L243.0,1678.7 L244.5,1677.0 L246.0,1675.4 L247.5,1673.8 L249.0,1672.2 L250.5,1670.6 L252.0,1669.0 L253.5,1667.4 L255.1,1665.8 L256.6,1664.2 L258.1,1662.6 L259.6,1661.0 L261.1,1659.5 L262.6,1657.9 L264.1,1656.3 L265.6,1654.8 L267.1,1653.2 L268.6,1651.7 L270.1,1650.2 L271.6,1648.7 L273.1,1647.3 L274.6,1645.8 L276.1,1644.4 L277.6,1643.0 L279.1,1641.7 L280.6,1640.4 L282.1,1639.1 L283.6,1637.8 L285.1,1636.6 L286.6,1635.4 L288.1,1634.2 L289.6,1633.1 L291.1,1632.0 L292.6,1630.9 L294.1,1629.9 L295.7,1628.9 L297.2,1627.9 L298.7,1626.9 L300.2,1625.9 L301.7,1625.0 L303.2,1624.0 L304.7,1623.1 L306.2,1622.2 L307.7,1621.4 L309.2,1620.5 L310.7,1619.6 L312.2,1618.8 L313.7,1617.9 L315.2,1617.1 L316.7,1616.2 L318.2,1615.4 L319.7,1614.6 L321.2,1613.7 L322.7,1612.9 L324.2,1612.1 L325.7,1611.3 L327.2,1610.5 L328.7,1609.7 L330.2,1609.0 L331.7,1608.2 L333.2,1607.4 L334.8,1606.7 L336.3,1605.9 L337.8,1605.2 L339.3,1604.4 L340.8,1603.7 L342.3,1603.0 L343.8,1602.2 L345.3,1601.5 L346.8,1600.8 L348.3,1600.1 L349.8,1599.4 L351.3,1598.7 L352.8,1598.0 L354.3,1597.3 L355.8,1596.6 L357.3,1595.9 L358.8,1595.2 L360.3,1594.5 L361.8,1593.8 L363.3,1593.1 L364.8,1592.4 L366.3,1591.7 L367.8,1591.0 L369.3,1590.3 L370.8,1589.5 L372.3,1588.8 L373.8,1588.1 L375.4,1587.3 L376.9,1586.6 L378.4,1585.9 L379.9,1585.1 L381.4,1584.4 L382.9,1583.7 L384.4,1583.0 L385.9,1582.3 L387.4,1581.6 L388.9,1580.9 L390.4,1580.2 L391.9,1579.6 L393.4,1578.9 L394.9,1578.3 L396.4,1577.7 L397.9,1577.1 L399.4,1576.6 L400.9,1576.0 L402.4,1575.5 L403.9,1575.0 L405.4,1574.5 L406.9,1574.1 L408.4,1573.7 L409.9,1573.3 L411.4,1572.9 L412.9,1572.5 L414.4,1572.2 L416.0,1571.8 L417.5,1571.5 L419.0,1571.2 L420.5,1571.0 L422.0,1570.7 L423.5,1570.5 L425.0,1570.2 L426.5,1570.0 L428.0,1569.9 L429.5,1569.7 L431.0,1569.5 L432.5,1569.4 L434.0,1569.3 L435.5,1569.1 L437.0,1569.0 L438.5,1569.0 L440.0,1568.9 L441.5,1568.8 L443.0,1568.7 L444.5,1568.7 L446.0,1568.6 L447.5,1568.6 L449.0,1568.6 L450.5,1568.5 L452.0,1568.5 L453.5,1568.5 L455.1,1568.5 L456.6,1568.4 L458.1,1568.4 L459.6,1568.4 L461.1,1568.4 L462.6,1568.4 L464.1,1568.3 L465.6,1568.3 L467.1,1568.2 L468.6,1568.2 L470.1,1568.1 L471.6,1568.0 L473.1,1567.9 L474.6,1567.7 L476.1,1567.5 L477.6,1567.3 L479.1,1567.1 L480.6,1566.9 L482.1,1566.6 L483.6,1566.3 L485.1,1565.9 L486.6,1565.5 L488.1,1565.2 L489.6,1564.7 L491.1,1564.3 L492.6,1563.8 L494.1,1563.3 L495.7,1562.8 L497.2,1562.2 L498.7,1561.7 L500.2,1561.1 L501.7,1560.5 L503.2,1559.9 L504.7,1559.3 L506.2,1558.6 L507.7,1558.0 L509.2,1557.3 L510.7,1556.7 L512.2,1556.0 L513.7,1555.4 L515.2,1554.8 L516.7,1554.2 L518.2,1553.6 L519.7,1553.0 L521.2,1552.4 L522.7,1551.9 L524.2,1551.4 L525.7,1550.9 L527.2,1550.5 L528.7,1550.0 L530.2,1549.7 L531.7,1549.3 L533.2,1549.0 L534.8,1548.8 L536.3,1548.5 L537.8,1548.4 L539.3,1548.2 L540.8,1548.2 L542.3,1548.1 L543.8,1548.2 L545.3,1548.2 L546.8,1548.4 L548.3,1548.5 L549.8,1548.8 L551.3,1549.1 L552.8,1549.4 L554.3,1549.8 L555.8,1550.2 L557.3,1550.7 L558.8,1551.2 L560.3,1551.8 L561.8,1552.4 L563.3,1553.1 L564.8,1553.8 L566.3,1554.6 L567.8,1555.4 L569.3,1556.2 L570.8,1557.1 L572.3,1558.1 L573.8,1559.0 L575.4,1560.1 L576.9,1561.2 L578.4,1562.3 L579.9,1563.4 L581.4,1564.6 L582.9,1565.9 L584.4,1567.2 L585.9,1568.5 L587.4,1569.8 L588.9,1571.2 L590.4,1572.6 L591.9,1574.0 L593.4,1575.5 L594.9,1577.0 L596.4,1578.5 L597.9,1580.0 L599.4,1581.6 L600.9,1583.1 L602.4,1584.7 L603.9,1586.3 L605.4,1587.8 L606.9,1589.4 L608.4,1591.0 L609.9,1592.6 L611.4,1594.1 L612.9,1595.6 L614.4,1597.2 L616.0,1598.6 L617.5,1600.1 L619.0,1601.5 L620.5,1602.9 L622.0,1604.3 L623.5,1605.7 L625.0,1607.0 L626.5,1608.3 L628.0,1609.5 L629.5,1610.8 L631.0,1612.0 L632.5,1613.1 L634.0,1614.3 L635.5,1615.4 L637.0,1616.4 L638.5,1617.5 L640.0,1618.4 L641.5,1619.4 L643.0,1620.3 L644.5,1621.2 L646.0,1622.1 L647.5,1622.9 L649.0,1623.6 L650.5,1624.4 L652.0,1625.1 L653.5,1625.8 L655.1,1626.4 L656.6,1627.0 L658.1,1627.5 L659.6,1628.0 L661.1,1628.5 L662.6,1629.0 L664.1,1629.4 L665.6,1629.7 L667.1,1630.1 L668.6,1630.3 L670.1,1630.6 L671.6,1630.8 L673.1,1631.0 L674.6,1631.1 L676.1,1631.2 L677.6,1631.3 L679.1,1631.4 L680.6,1631.4 L682.1,1631.3 L683.6,1631.3 L685.1,1631.2 L686.6,1631.0 L688.1,1630.9 L689.6,1630.7 L691.1,1630.5 L692.6,1630.2 L694.1,1629.9 L695.7,1629.6 L697.2,1629.3 L698.7,1628.9 L700.2,1628.5 L701.7,1628.1 L703.2,1627.7 L704.7,1627.3 L706.2,1626.9 L707.7,1626.4 L709.2,1626.0 L710.7,1625.6 L712.2,1625.1 L713.7,1624.7 L715.2,1624.3 L716.7,1623.8 L718.2,1623.4 L719.7,1623.0 L721.2,1622.6 L722.7,1622.2 L724.2,1621.9 L725.7,1621.5 L727.2,1621.2 L728.7,1620.9 L730.2,1620.6 L731.7,1620.3 L733.2,1620.1 L734.8,1619.8 L736.3,1619.6 L737.8,1619.4 L739.3,1619.2 L740.8,1619.0 L742.3,1618.8 L743.8,1618.7 L745.3,1618.5 L746.8,1618.4 L748.3,1618.3 L749.8,1618.2 L751.3,1618.2 L752.8,1618.1 L754.3,1618.1 L755.8,1618.1 L757.3,1618.1 L758.8,1618.2 L760.3,1618.3 L761.8,1618.4 L763.3,1618.5 L764.8,1618.7 L766.3,1618.8 L767.8,1619.0 L769.3,1619.3 L770.8,1619.5 L772.3,1619.8 L773.8,1620.1 L775.4,1620.4 L776.9,1620.8 L778.4,1621.1 L779.9,1621.5 L781.4,1621.9 L782.9,1622.3 L784.4,1622.7 L785.9,1623.1 L787.4,1623.6 L788.9,1624.0 L790.4,1624.5 L791.9,1624.9 L793.4,1625.4 L794.9,1625.9 L796.4,1626.4 L797.9,1626.9 L799.4,1627.4 L800.9,1627.9 L802.4,1628.4 L803.9,1628.9 L805.4,1629.4 L806.9,1629.9 L808.4,1630.4 L809.9,1631.0 L811.4,1631.5 L812.9,1632.0 L814.4,1632.5 L816.0,1633.0 L817.5,1633.4 L819.0,1633.9 L820.5,1634.4 L822.0,1634.9 L823.5,1635.3 L825.0,1635.8 L826.5,1636.2 L828.0,1636.7 L829.5,1637.1 L831.0,1637.5 L832.5,1637.9 L834.0,1638.3 L835.5,1638.7 L837.0,1639.1 L838.5,1639.5 L840.0,1639.9 L841.5,1640.3 L843.0,1640.7 L844.5,1641.0 L846.0,1641.4 L847.5,1641.7 L849.0,1642.1 L850.5,1642.4 L852.0,1642.8 L853.5,1643.1 L855.1,1643.5 L856.6,1643.8 L858.1,1644.1 L859.6,1644.5 L861.1,1644.8 L862.6,1645.1 L864.1,1645.4 L865.6,1645.7 L867.1,1646.0 L868.6,1646.3 L870.1,1646.5 L871.6,1646.8 L873.1,1647.1 L874.6,1647.3 L876.1,1647.5 L877.6,1647.8 L879.1,1648.0 L880.6,1648.2 L882.1,1648.4 L883.6,1648.6 L885.1,1648.8 L886.6,1649.0 L888.1,1649.2 L889.6,1649.4 L891.1,1649.6 L892.6,1649.7 L894.1,1649.9 L895.7,1650.1 L897.2,1650.2 L898.7,1650.4 L900.2,1650.6 L901.7,1650.7 L903.2,1650.9 L904.7,1651.1 L906.2,1651.3 L907.7,1651.5 L909.2,1651.7 L910.7,1651.9 L912.2,1652.1 L913.7,1652.4 L915.2,1652.7 L916.7,1653.0 L918.2,1653.4 L919.7,1653.9 L921.2,1654.5 L922.7,1655.1 L924.2,1655.8 L925.7,1656.6 L927.2,1657.5 L928.7,1658.5 L930.2,1659.6 L931.7,1660.8 L933.2,1662.2 L934.8,1663.6 L936.3,1665.2 L937.8,1666.9 L939.3,1668.7 L940.8,1670.7 L942.3,1672.8 L943.8,1675.1 L945.3,1677.5 L946.8,1680.1 L948.3,1682.9 L949.8,1685.9 L951.3,1689.0 L952.8,1692.4 L954.3,1696.0 L955.8,1699.8 L957.3,1703.9 L958.8,1708.3 L960.3,1712.9 L961.8,1717.9 L963.3,1723.2 L964.8,1728.9 L966.3,1735.0 L967.8,1741.3 L969.3,1748.0 L970.8,1755.0 L972.3,1762.1 L973.8,1769.5 L975.4,1776.9 L976.9,1784.4 L978.4,1791.9 L979.9,1799.5 L981.4,1807.0 L982.9,1814.5 L984.4,1821.9 L985.9,1829.3 L987.4,1836.6 L988.9,1844.0 L990.4,1851.4 L991.9,1858.8 L993.4,1866.3 L994.9,1873.8 L996.4,1881.3 L997.9,1888.9 L999.4,1896.4 L1000.9,1903.8 L1002.4,1911.3 L1003.9,1918.7 L1005.4,1926.2 L1006.9,1933.7 L1008.4,1941.2 L1009.9,1948.7 L1011.4,1956.2 L1012.9,1963.6 L1014.4,1971.1 L1016.0,1978.4 L1017.5,1985.7 L1019.0,1992.9 L1020.5,2000.0 L1022.0,2007.0 L1023.5,2013.9 L1025.0,2020.6 L1026.5,2027.2 L1028.0,2033.6 L1029.5,2039.8 L1031.0,2045.9 L1032.5,2051.8 L1034.0,2057.4 L1035.5,2062.9 L1037.0,2068.1 L1038.5,2073.1 L1040.0,2078.0 L1041.5,2082.6 L1043.0,2087.0 L1044.5,2091.2 L1046.0,2095.2 L1047.5,2099.1 L1049.0,2102.8 L1050.5,2106.3 L1052.0,2109.6 L1053.5,2112.7 L1055.1,2115.7 L1056.6,2118.5 L1058.1,2121.2 L1059.6,2123.7 L1061.1,2126.1 L1062.6,2128.3 L1064.1,2130.3 L1065.6,2132.2 L1067.1,2134.0 L1068.6,2135.7 L1070.1,2137.2 L1071.6,2138.6 L1073.1,2139.9 L1074.6,2141.1 L1076.1,2142.2 L1077.6,2143.2 L1079.1,2144.1 L1080.6,2145.0 L1082.1,2145.7 L1083.6,2146.4 L1085.1,2147.0 L1086.6,2147.6 L1088.1,2148.0 L1089.6,2148.4 L1091.1,2148.7 L1092.6,2149.0 L1094.1,2149.2 L1095.7,2149.3 L1097.2,2149.4 L1098.7,2149.3 L1100.2,2149.3 L1101.7,2149.2 L1103.2,2149.0 L1104.7,2148.8 L1106.2,2148.5 L1107.7,2148.2 L1109.2,2147.8 L1110.7,2147.4 L1112.2,2146.9 L1113.7,2146.4 L1115.2,2145.9 L1116.7,2145.3 L1118.2,2144.6 L1119.7,2143.9 L1121.2,2143.2 L1122.7,2142.4 L1124.2,2141.5 L1125.7,2140.7 L1127.2,2139.7 L1128.7,2138.8 L1130.2,2137.8 L1131.7,2136.8 L1133.2,2135.7 L1134.8,2134.6 L1136.3,2133.5 L1137.8,2132.4 L1139.3,2131.2 L1140.8,2130.0 L1142.3,2128.8 L1143.8,2127.6 L1145.3,2126.3 L1146.8,2125.0 L1148.3,2123.6 L1149.8,2122.2 L1151.3,2120.8 L1152.8,2119.3 L1154.3,2117.8 L1155.8,2116.3 L1157.3,2114.8 L1158.8,2113.2 L1160.3,2111.6 L1161.8,2110.0 L1163.3,2108.4 L1164.8,2106.8 L1166.3,2105.2 L1167.8,2103.6 L1169.3,2101.9 L1170.8,2100.3 L1172.3,2098.7 L1173.8,2097.1 L1175.4,2095.5 L1176.9,2093.9 L1178.4,2092.3 L1179.9,2090.7 L1181.4,2089.1 L1182.9,2087.5 L1184.4,2085.9 L1185.9,2084.2 L1187.4,2082.6 L1188.9,2081.0 L1190.4,2079.4 L1191.9,2077.7 L1193.4,2076.0 L1194.9,2074.4 L1196.4,2072.7 L1197.9,2071.0 L1199.4,2069.3 L1200.9,2067.5 L1202.4,2065.8 L1203.9,2064.1 L1205.4,2062.3 L1206.9,2060.6 L1208.4,2058.8 L1209.9,2057.1 L1211.4,2055.3 L1212.9,2053.5 L1214.4,2051.8 L1216.0,2050.0 L1217.5,2048.2 L1219.0,2046.5 L1220.5,2044.7 L1222.0,2043.0 L1223.5,2041.2 L1225.0,2039.5 L1226.5,2037.8 L1228.0,2036.0 L1229.5,2034.3 L1231.0,2032.6 L1232.5,2030.9 L1234.0,2029.2 L1235.5,2027.5 L1237.0,2025.9 L1238.5,2024.2 L1240.0,2022.5 L1241.5,2020.9 L1243.0,2019.3 L1244.5,2017.7 L1246.0,2016.1 L1247.5,2014.5 L1249.0,2013.0 L1250.5,2011.4 L1252.0,2010.0 L1253.5,2008.5 L1255.1,2007.1 L1256.6,2005.7 L1258.1,2004.3 L1259.6,2003.0 L1261.1,2001.7 L1262.6,2000.4 L1264.1,1999.2 L1265.6,1998.0 L1267.1,1996.8 L1268.6,1995.7 L1270.1,1994.5 L1271.6,1993.4 L1273.1,1992.2 L1274.6,1991.1 L1276.1,1990.0 L1277.6,1988.9 L1279.1,1987.8 L1280.6,1986.6 L1282.1,1985.5 L1283.6,1984.4 L1285.1,1983.3 L1286.6,1982.1 L1288.1,1981.0 L1289.6,1979.8 L1291.1,1978.7 L1292.6,1977.5 L1294.1,1976.4 L1295.7,1975.2 L1297.2,1974.1 L1298.7,1972.9 L1300.2,1971.8 L1301.7,1970.6 L1303.2,1969.4 L1304.7,1968.3 L1306.2,1967.1 L1307.7,1965.9 L1309.2,1964.7 L1310.7,1963.5 L1312.2,1962.3 L1313.7,1961.1 L1315.2,1959.8 L1316.7,1958.6 L1318.2,1957.3 L1319.7,1956.0 L1321.2,1954.7 L1322.7,1953.3 L1324.2,1952.0 L1325.7,1950.6 L1327.2,1949.2 L1328.7,1947.8 L1330.2,1946.5 L1331.7,1945.2 L1333.2,1943.9 L1334.8,1942.7 L1336.3,1941.6 L1337.8,1940.6 L1339.3,1939.7 L1340.8,1938.9 L1342.3,1938.1 L1343.8,1937.5 L1345.3,1936.8 L1346.8,1936.2 L1348.3,1935.6 L1349.8,1934.9 L1351.3,1934.2 L1352.8,1933.4 L1354.3,1932.5 L1355.8,1931.5 L1357.3,1930.5 L1358.8,1929.4 L1360.3,1928.4 L1361.8,1927.3 L1363.3,1926.3 L1364.8,1925.3 L1366.3,1924.4 L1367.8,1923.6 L1369.3,1922.8 L1370.8,1922.0 L1372.3,1921.2 L1373.8,1920.5 L1375.4,1919.8 L1376.9,1919.0 L1378.4,1918.3 L1379.9,1917.5 L1381.4,1916.6 L1382.9,1915.7 L1384.4,1914.8 L1385.9,1913.9 L1387.4,1913.0 L1388.9,1912.1 L1390.4,1911.2 L1391.9,1910.4 L1393.4,1909.5 L1394.9,1908.8 L1396.4,1908.0 L1397.9,1907.2 L1399.4,1906.5 L1400.9,1905.8 L1402.4,1905.1 L1403.9,1904.4 L1405.4,1903.8 L1406.9,1903.1 L1408.4,1902.5 L1409.9,1901.9 L1411.4,1901.3 L1412.9,1900.7 L1414.4,1900.0 L1416.0,1899.4 L1417.5,1898.7 L1419.0,1898.1 L1420.5,1897.4 L1422.0,1896.7 L1422.0,1896.7" stroke="#ff0000"/>
</g></g>
<g clip-path="url(#clipc)"><g transform="scale(1.33,1)" fill="none" stroke-width="7.2" stroke-linejoin="round">
<path d="M225.0,2363.4 L226.5,2363.4 L228.0,2363.5 L229.5,2363.6 L231.0,2363.6 L232.5,2363.7 L234.0,2363.8 L235.5,2363.8 L237.0,2363.9 L238.5,2363.9 L240.0,2364.0 L241.5,2364.0 L243.0,2364.1 L244.5,2364.2 L246.0,2364.2 L247.5,2364.3 L249.0,2364.3 L250.5,2364.4 L252.0,2364.4 L253.5,2364.5 L255.1,2364.5 L256.6,2364.6 L258.1,2364.6 L259.6,2364.7 L261.1,2364.7 L262.6,2364.8 L264.1,2364.8 L265.6,2364.9 L267.1,2365.0 L268.6,2365.1 L270.1,2365.2 L271.6,2365.3 L273.1,2365.4 L274.6,2365.5 L276.1,2365.7 L277.6,2365.8 L279.1,2366.0 L280.6,2366.2 L282.1,2366.4 L283.6,2366.6 L285.1,2366.9 L286.6,2367.2 L288.1,2367.4 L289.6,2367.8 L291.1,2368.1 L292.6,2368.4 L294.1,2368.8 L295.7,2369.2 L297.2,2369.6 L298.7,2370.0 L300.2,2370.4 L301.7,2370.8 L303.2,2371.3 L304.7,2371.7 L306.2,2372.2 L307.7,2372.7 L309.2,2373.2 L310.7,2373.7 L312.2,2374.3 L313.7,2374.8 L315.2,2375.4 L316.7,2375.9 L318.2,2376.5 L319.7,2377.1 L321.2,2377.7 L322.7,2378.4 L324.2,2379.0 L325.7,2379.7 L327.2,2380.4 L328.7,2381.1 L330.2,2381.8 L331.7,2382.6 L333.2,2383.4 L334.8,2384.2 L336.3,2385.1 L337.8,2385.9 L339.3,2386.8 L340.8,2387.8 L342.3,2388.7 L343.8,2389.7 L345.3,2390.7 L346.8,2391.8 L348.3,2392.9 L349.8,2394.0 L351.3,2395.1 L352.8,2396.3 L354.3,2397.5 L355.8,2398.7 L357.3,2400.0 L358.8,2401.2 L360.3,2402.5 L361.8,2403.9 L363.3,2405.2 L364.8,2406.6 L366.3,2408.0 L367.8,2409.4 L369.3,2410.9 L370.8,2412.3 L372.3,2413.8 L373.8,2415.3 L375.4,2416.9 L376.9,2418.4 L378.4,2420.0 L379.9,2421.6 L381.4,2423.2 L382.9,2424.9 L384.4,2426.5 L385.9,2428.2 L387.4,2429.9 L388.9,2431.7 L390.4,2433.4 L391.9,2435.1 L393.4,2436.9 L394.9,2438.7 L396.4,2440.5 L397.9,2442.3 L399.4,2444.1 L400.9,2445.9 L402.4,2447.8 L403.9,2449.6 L405.4,2451.5 L406.9,2453.3 L408.4,2455.2 L409.9,2457.0 L411.4,2458.9 L412.9,2460.8 L414.4,2462.6 L416.0,2464.5 L417.5,2466.4 L419.0,2468.2 L420.5,2470.1 L422.0,2471.9 L423.5,2473.8 L425.0,2475.6 L426.5,2477.4 L428.0,2479.3 L429.5,2481.1 L431.0,2482.9 L432.5,2484.6 L434.0,2486.4 L435.5,2488.1 L437.0,2489.9 L438.5,2491.6 L440.0,2493.2 L441.5,2494.9 L443.0,2496.6 L444.5,2498.2 L446.0,2499.8 L447.5,2501.3 L449.0,2502.9 L450.5,2504.4 L452.0,2506.0 L453.5,2507.5 L455.1,2509.0 L456.6,2510.5 L458.1,2511.9 L459.6,2513.4 L461.1,2514.8 L462.6,2516.3 L464.1,2517.7 L465.6,2519.1 L467.1,2520.6 L468.6,2522.0 L470.1,2523.3 L471.6,2524.7 L473.1,2526.1 L474.6,2527.4 L476.1,2528.7 L477.6,2529.9 L479.1,2531.1 L480.6,2532.3 L482.1,2533.4 L483.6,2534.5 L485.1,2535.5 L486.6,2536.4 L488.1,2537.3 L489.6,2538.1 L491.1,2538.9 L492.6,2539.6 L494.1,2540.2 L495.7,2540.8 L497.2,2541.3 L498.7,2541.8 L500.2,2542.2 L501.7,2542.6 L503.2,2542.9 L504.7,2543.2 L506.2,2543.4 L507.7,2543.5 L509.2,2543.6 L510.7,2543.7 L512.2,2543.7 L513.7,2543.6 L515.2,2543.5 L516.7,2543.4 L518.2,2543.1 L519.7,2542.9 L521.2,2542.6 L522.7,2542.2 L524.2,2541.8 L525.7,2541.3 L527.2,2540.8 L528.7,2540.2 L530.2,2539.5 L531.7,2538.8 L533.2,2538.0 L534.8,2537.1 L536.3,2536.2 L537.8,2535.2 L539.3,2534.0 L540.8,2532.8 L542.3,2531.6 L543.8,2530.2 L545.3,2528.7 L546.8,2527.2 L548.3,2525.5 L549.8,2523.8 L551.3,2522.0 L552.8,2520.2 L554.3,2518.3 L555.8,2516.3 L557.3,2514.2 L558.8,2512.0 L560.3,2509.9 L561.8,2507.6 L563.3,2505.3 L564.8,2503.1 L566.3,2500.7 L567.8,2498.4 L569.3,2496.1 L570.8,2493.9 L572.3,2491.6 L573.8,2489.4 L575.4,2487.1 L576.9,2484.9 L578.4,2482.6 L579.9,2480.3 L581.4,2477.8 L582.9,2475.3 L584.4,2472.6 L585.9,2469.7 L587.4,2466.7 L588.9,2463.5 L590.4,2460.1 L591.9,2456.6 L593.4,2453.0 L594.9,2449.3 L596.4,2445.5 L597.9,2441.7 L599.4,2437.9 L600.9,2434.0 L602.4,2430.2 L603.9,2426.4 L605.4,2422.7 L606.9,2418.9 L608.4,2415.2 L609.9,2411.6 L611.4,2407.9 L612.9,2404.3 L614.4,2400.8 L616.0,2397.3 L617.5,2393.8 L619.0,2390.4 L620.5,2387.1 L622.0,2383.9 L623.5,2380.7 L625.0,2377.6 L626.5,2374.6 L628.0,2371.8 L629.5,2369.1 L631.0,2366.4 L632.5,2364.0 L634.0,2361.6 L635.5,2359.4 L637.0,2357.3 L638.5,2355.3 L640.0,2353.5 L641.5,2351.8 L643.0,2350.2 L644.5,2348.7 L646.0,2347.3 L647.5,2346.1 L649.0,2345.0 L650.5,2344.0 L652.0,2343.2 L653.5,2342.5 L655.1,2341.9 L656.6,2341.4 L658.1,2341.1 L659.6,2340.9 L661.1,2340.9 L662.6,2341.0 L664.1,2341.3 L665.6,2341.8 L667.1,2342.4 L668.6,2343.2 L670.1,2344.1 L671.6,2345.2 L673.1,2346.5 L674.6,2347.9 L676.1,2349.5 L677.6,2351.3 L679.1,2353.1 L680.6,2355.2 L682.1,2357.4 L683.6,2359.7 L685.1,2362.1 L686.6,2364.7 L688.1,2367.4 L689.6,2370.2 L691.1,2373.2 L692.6,2376.2 L694.1,2379.4 L695.7,2382.6 L697.2,2386.0 L698.7,2389.4 L700.2,2392.8 L701.7,2396.4 L703.2,2399.9 L704.7,2403.5 L706.2,2407.1 L707.7,2410.7 L709.2,2414.2 L710.7,2417.8 L712.2,2421.2 L713.7,2424.7 L715.2,2428.0 L716.7,2431.4 L718.2,2434.7 L719.7,2437.9 L721.2,2441.1 L722.7,2444.3 L724.2,2447.4 L725.7,2450.4 L727.2,2453.5 L728.7,2456.4 L730.2,2459.4 L731.7,2462.2 L733.2,2465.0 L734.8,2467.7 L736.3,2470.3 L737.8,2472.9 L739.3,2475.3 L740.8,2477.6 L742.3,2479.8 L743.8,2481.9 L745.3,2483.9 L746.8,2485.7 L748.3,2487.5 L749.8,2489.1 L751.3,2490.6 L752.8,2491.9 L754.3,2493.1 L755.8,2494.2 L757.3,2495.2 L758.8,2496.0 L760.3,2496.7 L761.8,2497.3 L763.3,2497.8 L764.8,2498.3 L766.3,2498.6 L767.8,2498.9 L769.3,2499.1 L770.8,2499.2 L772.3,2499.3 L773.8,2499.3 L775.4,2499.2 L776.9,2499.2 L778.4,2499.1 L779.9,2498.9 L781.4,2498.7 L782.9,2498.5 L784.4,2498.2 L785.9,2497.9 L787.4,2497.5 L788.9,2497.2 L790.4,2496.8 L791.9,2496.4 L793.4,2495.9 L794.9,2495.4 L796.4,2494.9 L797.9,2494.4 L799.4,2493.9 L800.9,2493.3 L802.4,2492.7 L803.9,2492.1 L805.4,2491.4 L806.9,2490.8 L808.4,2490.1 L809.9,2489.4 L811.4,2488.6 L812.9,2487.9 L814.4,2487.2 L816.0,2486.6 L817.5,2485.9 L819.0,2485.3 L820.5,2484.7 L822.0,2484.2 L823.5,2483.7 L825.0,2483.3 L826.5,2482.9 L828.0,2482.6 L829.5,2482.3 L831.0,2482.1 L832.5,2482.0 L834.0,2481.9 L835.5,2481.9 L837.0,2481.9 L838.5,2482.0 L840.0,2482.1 L841.5,2482.3 L843.0,2482.5 L844.5,2482.8 L846.0,2483.1 L847.5,2483.4 L849.0,2483.8 L850.5,2484.2 L852.0,2484.7 L853.5,2485.2 L855.1,2485.8 L856.6,2486.5 L858.1,2487.3 L859.6,2488.1 L861.1,2489.1 L862.6,2490.3 L864.1,2491.6 L865.6,2493.0 L867.1,2494.6 L868.6,2496.5 L870.1,2498.5 L871.6,2500.7 L873.1,2503.2 L874.6,2505.9 L876.1,2508.8 L877.6,2512.1 L879.1,2515.5 L880.6,2519.2 L882.1,2523.0 L883.6,2527.1 L885.1,2531.4 L886.6,2535.8 L888.1,2540.4 L889.6,2545.1 L891.1,2550.0 L892.6,2555.1 L894.1,2560.3 L895.7,2565.7 L897.2,2571.2 L898.7,2576.9 L900.2,2582.8 L901.7,2588.9 L903.2,2595.0 L904.7,2601.3 L906.2,2607.6 L907.7,2614.0 L909.2,2620.5 L910.7,2627.0 L912.2,2633.7 L913.7,2640.4 L915.2,2647.3 L916.7,2654.2 L918.2,2661.2 L919.7,2668.3 L921.2,2675.4 L922.7,2682.4 L924.2,2689.5 L925.7,2696.5 L927.2,2703.6 L928.7,2710.7 L930.2,2718.0 L931.7,2725.3 L933.2,2732.6 L934.8,2740.0 L936.3,2747.4 L937.8,2754.8 L939.3,2762.1 L940.8,2769.4 L942.3,2776.6 L943.8,2783.8 L945.3,2790.8 L946.8,2797.6 L948.3,2804.2 L949.8,2810.7 L951.3,2816.8 L952.8,2822.8 L954.3,2828.4 L955.8,2833.7 L957.3,2838.8 L958.8,2843.5 L960.3,2848.0 L961.8,2852.1 L963.3,2855.9 L964.8,2859.3 L966.3,2862.4 L967.8,2865.2 L969.3,2867.7 L970.8,2869.8 L972.3,2871.6 L973.8,2873.1 L975.4,2874.2 L976.9,2875.0 L978.4,2875.4 L979.9,2875.6 L981.4,2875.3 L982.9,2874.7 L984.4,2873.8 L985.9,2872.5 L987.4,2870.8 L988.9,2868.8 L990.4,2866.3 L991.9,2863.5 L993.4,2860.3 L994.9,2856.7 L996.4,2852.7 L997.9,2848.3 L999.4,2843.6 L1000.9,2838.4 L1002.4,2832.9 L1003.9,2827.1 L1005.4,2820.9 L1006.9,2814.3 L1008.4,2807.5 L1009.9,2800.3 L1011.4,2792.8 L1012.9,2785.1 L1014.4,2777.1 L1016.0,2768.9 L1017.5,2760.6 L1019.0,2752.1 L1020.5,2743.5 L1022.0,2734.7 L1023.5,2725.9 L1025.0,2716.9 L1026.5,2707.9 L1028.0,2698.8 L1029.5,2689.6 L1031.0,2680.5 L1032.5,2671.3 L1034.0,2662.1 L1035.5,2652.9 L1037.0,2643.8 L1038.5,2634.9 L1040.0,2626.1 L1041.5,2617.4 L1043.0,2608.8 L1044.5,2600.1 L1046.0,2591.4 L1047.5,2582.5 L1049.0,2573.7 L1050.5,2564.9 L1052.0,2556.2 L1053.5,2547.9 L1055.1,2539.8 L1056.6,2532.3 L1058.1,2525.2 L1059.6,2518.5 L1061.1,2512.2 L1062.6,2506.3 L1064.1,2500.7 L1065.6,2495.5 L1067.1,2490.5 L1068.6,2485.8 L1070.1,2481.4 L1071.6,2477.2 L1073.1,2473.2 L1074.6,2469.5 L1076.1,2466.0 L1077.6,2462.7 L1079.1,2459.7 L1080.6,2456.8 L1082.1,2454.2 L1083.6,2451.8 L1085.1,2449.6 L1086.6,2447.6 L1088.1,2445.8 L1089.6,2444.2 L1091.1,2442.8 L1092.6,2441.5 L1094.1,2440.4 L1095.7,2439.4 L1097.2,2438.5 L1098.7,2437.8 L1100.2,2437.1 L1101.7,2436.5 L1103.2,2436.0 L1104.7,2435.5 L1106.2,2435.0 L1107.7,2434.6 L1109.2,2434.3 L1110.7,2433.9 L1112.2,2433.6 L1113.7,2433.3 L1115.2,2433.1 L1116.7,2432.8 L1118.2,2432.5 L1119.7,2432.3 L1121.2,2432.0 L1122.7,2431.7 L1124.2,2431.4 L1125.7,2431.1 L1127.2,2430.8 L1128.7,2430.4 L1130.2,2430.1 L1131.7,2429.7 L1133.2,2429.2 L1134.8,2428.8 L1136.3,2428.2 L1137.8,2427.7 L1139.3,2427.0 L1140.8,2426.3 L1142.3,2425.5 L1143.8,2424.6 L1145.3,2423.7 L1146.8,2422.6 L1148.3,2421.5 L1149.8,2420.3 L1151.3,2418.9 L1152.8,2417.5 L1154.3,2416.0 L1155.8,2414.5 L1157.3,2412.8 L1158.8,2411.1 L1160.3,2409.3 L1161.8,2407.5 L1163.3,2405.6 L1164.8,2403.6 L1166.3,2401.7 L1167.8,2399.7 L1169.3,2397.8 L1170.8,2395.9 L1172.3,2394.0 L1173.8,2392.2 L1175.4,2390.4 L1176.9,2388.7 L1178.4,2387.1 L1179.9,2385.6 L1181.4,2384.1 L1182.9,2382.7 L1184.4,2381.3 L1185.9,2380.0 L1187.4,2378.7 L1188.9,2377.5 L1190.4,2376.3 L1191.9,2375.2 L1193.4,2374.1 L1194.9,2373.0 L1196.4,2372.0 L1197.9,2371.1 L1199.4,2370.2 L1200.9,2369.4 L1202.4,2368.6 L1203.9,2367.9 L1205.4,2367.3 L1206.9,2366.7 L1208.4,2366.2 L1209.9,2365.7 L1211.4,2365.3 L1212.9,2365.0 L1214.4,2364.7 L1216.0,2364.5 L1217.5,2364.4 L1219.0,2364.3 L1220.5,2364.3 L1222.0,2364.3 L1223.5,2364.5 L1225.0,2364.7 L1226.5,2365.0 L1228.0,2365.4 L1229.5,2365.9 L1231.0,2366.6 L1232.5,2367.3 L1234.0,2368.1 L1235.5,2369.0 L1237.0,2370.1 L1238.5,2371.2 L1240.0,2372.3 L1241.5,2373.5 L1243.0,2374.8 L1244.5,2376.1 L1246.0,2377.5 L1247.5,2378.8 L1249.0,2380.2 L1250.5,2381.6 L1252.0,2383.0 L1253.5,2384.5 L1255.1,2385.9 L1256.6,2387.4 L1258.1,2388.9 L1259.6,2390.4 L1261.1,2392.0 L1262.6,2393.5 L1264.1,2395.1 L1265.6,2396.7 L1267.1,2398.3 L1268.6,2400.0 L1270.1,2401.6 L1271.6,2403.2 L1273.1,2404.8 L1274.6,2406.4 L1276.1,2408.0 L1277.6,2409.6 L1279.1,2411.2 L1280.6,2412.7 L1282.1,2414.2 L1283.6,2415.7 L1285.1,2417.1 L1286.6,2418.5 L1288.1,2419.8 L1289.6,2421.0 L1291.1,2422.1 L1292.6,2423.2 L1294.1,2424.2 L1295.7,2425.1 L1297.2,2425.9 L1298.7,2426.7 L1300.2,2427.4 L1301.7,2428.1 L1303.2,2428.6 L1304.7,2429.2 L1306.2,2429.6 L1307.7,2430.1 L1309.2,2430.4 L1310.7,2430.8 L1312.2,2431.1 L1313.7,2431.3 L1315.2,2431.6 L1316.7,2431.8 L1318.2,2431.9 L1319.7,2432.0 L1321.2,2432.1 L1322.7,2432.2 L1324.2,2432.3 L1325.7,2432.3 L1327.2,2432.2 L1328.7,2432.2 L1330.2,2432.1 L1331.7,2432.0 L1333.2,2431.9 L1334.8,2431.7 L1336.3,2431.5 L1337.8,2431.3 L1339.3,2431.1 L1340.8,2430.8 L1342.3,2430.5 L1343.8,2430.1 L1345.3,2429.8 L1346.8,2429.4 L1348.3,2429.0 L1349.8,2428.6 L1351.3,2428.1 L1352.8,2427.7 L1354.3,2427.2 L1355.8,2426.8 L1357.3,2426.3 L1358.8,2425.9 L1360.3,2425.5 L1361.8,2425.0 L1363.3,2424.6 L1364.8,2424.2 L1366.3,2423.8 L1367.8,2423.4 L1369.3,2423.0 L1370.8,2422.7 L1372.3,2422.3 L1373.8,2422.0 L1375.4,2421.6 L1376.9,2421.3 L1378.4,2421.0 L1379.9,2420.8 L1381.4,2420.5 L1382.9,2420.2 L1384.4,2420.0 L1385.9,2419.8 L1387.4,2419.6 L1388.9,2419.4 L1390.4,2419.3 L1391.9,2419.1 L1393.4,2419.0 L1394.9,2418.9 L1396.4,2418.8 L1397.9,2418.8 L1399.4,2418.7 L1400.9,2418.7 L1402.4,2418.7 L1403.9,2418.8 L1405.4,2418.8 L1406.9,2418.9 L1408.4,2418.9 L1409.9,2419.0 L1411.4,2419.1 L1412.9,2419.3 L1414.4,2419.4 L1416.0,2419.6 L1417.5,2419.7 L1419.0,2419.9 L1420.5,2420.1 L1422.0,2420.3 L1423.5,2420.5 L1425.0,2420.7 L1426.5,2420.9 L1428.0,2421.2 L1429.5,2421.4 L1431.0,2421.6 L1432.5,2421.9 L1434.0,2422.1 L1435.5,2422.3 L1437.0,2422.6 L1438.5,2422.8 L1440.0,2423.0 L1441.5,2423.2 L1443.0,2423.4 L1444.5,2423.6 L1446.0,2423.8 L1447.5,2423.9 L1449.0,2424.1 L1450.5,2424.2 L1452.0,2424.3 L1453.5,2424.4 L1455.1,2424.5 L1456.6,2424.6 L1458.1,2424.7 L1459.6,2424.7 L1461.1,2424.8 L1462.6,2424.8 L1464.1,2424.8 L1465.6,2424.8 L1467.1,2424.8 L1468.6,2424.8 L1470.1,2424.7 L1471.6,2424.7 L1473.1,2424.6 L1474.6,2424.6 L1476.1,2424.5 L1477.6,2424.4 L1479.1,2424.3 L1480.6,2424.2 L1482.1,2424.1 L1483.6,2424.0 L1485.1,2423.9 L1486.6,2423.8 L1488.1,2423.8 L1489.6,2423.7 L1491.1,2423.6 L1492.6,2423.5 L1494.1,2423.4 L1495.7,2423.4 L1497.2,2423.3 L1498.7,2423.3 L1500.2,2423.2 L1501.7,2423.2 L1503.2,2423.1 L1504.7,2423.1 L1506.2,2423.0 L1507.7,2423.0 L1509.2,2423.0 L1510.7,2423.0 L1512.2,2422.9 L1513.7,2422.9 L1515.2,2422.9 L1516.7,2422.8 L1518.2,2422.8 L1519.7,2422.8 L1521.2,2422.8 L1522.7,2422.7 L1524.2,2422.7 L1525.7,2422.7 L1527.2,2422.6 L1528.7,2422.6 L1530.2,2422.6 L1531.7,2422.5 L1533.2,2422.5 L1534.8,2422.5 L1536.3,2422.4 L1537.8,2422.4 L1539.3,2422.4 L1540.8,2422.4 L1542.3,2422.3 L1543.8,2422.3 L1545.3,2422.3 L1545.4,2422.3" stroke="#0000ff" stroke-width="7.6"/>
<path d="M225.0,2316.5 L226.5,2317.3 L228.0,2318.1 L229.5,2318.9 L231.0,2319.6 L232.5,2320.4 L234.0,2321.2 L235.5,2322.0 L237.0,2322.8 L238.5,2323.6 L240.0,2324.4 L241.5,2325.2 L243.0,2326.0 L244.5,2326.8 L246.0,2327.6 L247.5,2328.4 L249.0,2329.2 L250.5,2330.0 L252.0,2330.8 L253.5,2331.6 L255.1,2332.4 L255.2,2332.5 M284.2,2348.3 L285.1,2348.8 L286.6,2349.7 L288.1,2350.5 L289.6,2351.4 L291.1,2352.2 L292.6,2353.1 L294.1,2354.0 L295.7,2354.8 L297.2,2355.7 L298.7,2356.6 L300.2,2357.5 L301.7,2358.3 L303.2,2359.2 L304.7,2360.1 L306.2,2361.0 L307.7,2361.9 L309.2,2362.9 L310.7,2363.8 L312.2,2364.7 L313.7,2365.6 L313.9,2365.8 M341.8,2384.7 L342.3,2385.0 L343.8,2386.1 L345.3,2387.2 L346.8,2388.4 L348.3,2389.5 L349.8,2390.6 L351.3,2391.8 L352.8,2392.9 L354.3,2394.1 L355.8,2395.2 L357.3,2396.3 L358.8,2397.5 L360.3,2398.6 L361.8,2399.8 L363.3,2400.9 L364.8,2402.1 L366.3,2403.2 L367.8,2404.4 L369.3,2405.6 L370.0,2406.1 M395.5,2430.2 L396.4,2431.2 L397.9,2433.0 L399.4,2434.9 L400.9,2436.8 L402.4,2438.7 L403.9,2440.7 L405.4,2442.7 L406.9,2444.7 L408.4,2446.8 L409.9,2448.9 L411.4,2450.9 L412.9,2453.0 L414.4,2455.1 L416.0,2457.2 L417.5,2459.2 L418.5,2460.7 M440.9,2489.9 L441.5,2490.7 L443.0,2492.5 L444.5,2494.3 L446.0,2496.0 L447.5,2497.7 L449.0,2499.3 L450.5,2500.9 L452.0,2502.5 L453.5,2504.1 L455.1,2505.6 L456.6,2507.1 L458.1,2508.6 L459.6,2510.0 L461.1,2511.4 L462.6,2512.7 L464.1,2514.1 L465.6,2515.3 L466.6,2516.2 M494.9,2533.9 L495.7,2534.2 L497.2,2534.8 L498.7,2535.4 L500.2,2535.9 L501.7,2536.4 L503.2,2536.9 L504.7,2537.4 L506.2,2537.8 L507.7,2538.2 L509.2,2538.5 L510.7,2538.8 L512.2,2539.1 L513.7,2539.3 L515.2,2539.5 L516.7,2539.7 L518.2,2539.8 L519.7,2539.8 L521.2,2539.9 L522.7,2539.8 L524.2,2539.8 L525.7,2539.7 L526.9,2539.5 M555.8,2524.7 L555.8,2524.6 L557.3,2523.1 L558.8,2521.6 L560.3,2519.9 L561.8,2518.2 L563.3,2516.4 L564.8,2514.5 L566.3,2512.6 L567.8,2510.6 L569.3,2508.5 L570.8,2506.3 L572.3,2504.0 L573.8,2501.7 L575.4,2499.3 L576.9,2496.8 L578.4,2494.2 L578.5,2494.0 M595.4,2458.9 L596.4,2456.4 L597.9,2452.7 L599.4,2448.9 L600.9,2445.0 L602.4,2441.2 L603.9,2437.4 L605.4,2433.6 L606.9,2429.9 L608.4,2426.3 L609.9,2422.7 L610.7,2420.9 M627.6,2385.7 L628.0,2385.1 L629.5,2382.3 L631.0,2379.5 L632.5,2376.7 L634.0,2374.0 L635.5,2371.4 L637.0,2368.8 L638.5,2366.3 L640.0,2363.8 L641.5,2361.4 L643.0,2359.1 L644.5,2356.9 L646.0,2354.8 L647.5,2352.9 L648.1,2352.2 M675.3,2355.3 L676.1,2356.3 L677.6,2358.2 L679.1,2360.2 L680.6,2362.3 L682.1,2364.5 L683.6,2366.7 L685.1,2369.1 L686.6,2371.6 L688.1,2374.1 L689.6,2376.8 L691.1,2379.6 L692.6,2382.4 L694.1,2385.4 L695.7,2388.5 L695.8,2388.7 M712.1,2424.2 L712.2,2424.3 L713.7,2427.6 L715.2,2430.7 L716.7,2433.8 L718.2,2436.8 L719.7,2439.7 L721.2,2442.6 L722.7,2445.4 L724.2,2448.1 L725.7,2450.7 L727.2,2453.3 L728.7,2455.8 L730.2,2458.2 L731.0,2459.3 M754.9,2486.0 L755.8,2486.6 L757.3,2487.5 L758.8,2488.3 L760.3,2489.1 L761.8,2489.7 L763.3,2490.4 L764.8,2490.9 L766.3,2491.4 L767.8,2491.9 L769.3,2492.3 L770.8,2492.7 L772.3,2493.1 L773.8,2493.4 L775.4,2493.8 L776.9,2494.1 L778.4,2494.4 L779.9,2494.7 L781.4,2495.0 L782.9,2495.3 L784.4,2495.6 L785.9,2495.9 L786.3,2496.0 M817.6,2498.0 L819.0,2497.9 L820.5,2497.8 L822.0,2497.6 L823.5,2497.4 L825.0,2497.2 L826.5,2497.0 L828.0,2496.7 L829.5,2496.4 L831.0,2496.1 L832.5,2495.8 L834.0,2495.5 L835.5,2495.1 L837.0,2494.8 L838.5,2494.5 L840.0,2494.2 L841.5,2493.8 L843.0,2493.6 L844.5,2493.3 L846.0,2493.0 L847.5,2492.8 L849.0,2492.6 L849.8,2492.5 M879.5,2502.4 L880.6,2503.5 L882.1,2505.1 L883.6,2506.8 L885.1,2508.7 L886.6,2510.7 L888.1,2512.9 L889.6,2515.2 L891.1,2517.6 L892.6,2520.2 L894.1,2522.8 L895.7,2525.5 L897.2,2528.3 L898.7,2531.2 L900.2,2534.1 L900.6,2535.0 M917.4,2570.2 L918.2,2572.3 L919.7,2576.2 L921.2,2580.2 L922.7,2584.4 L924.2,2588.8 L925.7,2593.4 L927.2,2598.3 L928.7,2603.4 L930.2,2608.8 L930.5,2609.7 M939.7,2649.5 L940.8,2654.3 L942.3,2661.4 L943.8,2668.6 L945.3,2675.9 L946.8,2683.0 L948.3,2690.2 L948.5,2691.1 M956.8,2731.3 L957.3,2733.6 L958.8,2741.1 L960.3,2748.6 L961.8,2756.4 L963.3,2764.3 L964.8,2772.3 L965.0,2773.1 M972.7,2813.5 L973.8,2818.8 L975.4,2825.5 L976.9,2831.8 L978.4,2837.8 L979.9,2843.4 L981.4,2848.8 L982.9,2854.0 L983.0,2854.5 M1000.7,2886.6 L1000.9,2886.6 L1002.4,2886.2 L1003.9,2885.2 L1005.4,2883.9 L1006.9,2882.1 L1008.4,2879.9 L1009.9,2877.3 L1011.4,2874.3 L1012.9,2871.0 L1014.4,2867.3 L1016.0,2863.3 L1017.5,2858.9 L1019.0,2854.2 L1019.3,2853.1 M1029.2,2813.6 L1029.5,2812.4 L1031.0,2805.1 L1032.5,2797.5 L1034.0,2789.6 L1035.5,2781.4 L1037.0,2773.0 L1037.2,2771.7 M1044.2,2731.1 L1044.5,2729.1 L1046.0,2720.1 L1047.5,2711.1 L1049.0,2702.0 L1050.5,2692.9 L1051.2,2688.9 M1057.9,2648.1 L1058.1,2647.3 L1059.6,2638.6 L1061.1,2630.2 L1062.6,2622.0 L1064.1,2614.1 L1065.6,2606.5 L1065.6,2606.2 M1074.3,2566.1 L1074.6,2564.7 L1076.1,2558.1 L1077.6,2551.4 L1079.1,2544.8 L1080.6,2538.1 L1082.1,2531.6 L1083.6,2525.2 L1083.7,2524.8 M1095.1,2485.9 L1095.7,2484.3 L1097.2,2480.6 L1098.7,2477.2 L1100.2,2474.1 L1101.7,2471.4 L1103.2,2468.9 L1104.7,2466.8 L1106.2,2464.9 L1107.7,2463.2 L1109.2,2461.8 L1110.7,2460.6 L1112.2,2459.6 L1113.7,2458.8 L1115.2,2458.1 L1116.7,2457.6 L1117.7,2457.3 M1148.9,2454.5 L1149.8,2454.3 L1151.3,2453.8 L1152.8,2453.3 L1154.3,2452.7 L1155.8,2452.0 L1157.3,2451.2 L1158.8,2450.3 L1160.3,2449.3 L1161.8,2448.3 L1163.3,2447.1 L1164.8,2445.9 L1166.3,2444.6 L1167.8,2443.2 L1169.3,2441.7 L1170.8,2440.2 L1172.3,2438.5 L1173.8,2436.9 L1175.4,2435.2 L1176.8,2433.4 M1199.0,2404.0 L1199.4,2403.5 L1200.9,2401.6 L1202.4,2399.7 L1203.9,2397.9 L1205.4,2396.1 L1206.9,2394.4 L1208.4,2392.7 L1209.9,2391.1 L1211.4,2389.6 L1212.9,2388.1 L1214.4,2386.7 L1216.0,2385.4 L1217.5,2384.1 L1219.0,2382.9 L1220.5,2381.8 L1222.0,2380.7 L1223.5,2379.7 L1225.0,2378.7 L1225.1,2378.6 M1255.7,2374.0 L1256.6,2374.2 L1258.1,2374.7 L1259.6,2375.2 L1261.1,2375.7 L1262.6,2376.3 L1264.1,2377.0 L1265.6,2377.7 L1267.1,2378.5 L1268.6,2379.3 L1270.1,2380.1 L1271.6,2381.0 L1273.1,2381.9 L1274.6,2382.8 L1276.1,2383.7 L1277.6,2384.6 L1279.1,2385.5 L1280.6,2386.4 L1282.1,2387.3 L1283.6,2388.2 L1285.1,2389.0 L1285.9,2389.4 M1316.4,2398.8 L1316.7,2398.8 L1318.2,2399.0 L1319.7,2399.2 L1321.2,2399.3 L1322.7,2399.5 L1324.2,2399.6 L1325.7,2399.8 L1327.2,2399.9 L1328.7,2400.1 L1330.2,2400.3 L1331.7,2400.4 L1333.2,2400.6 L1334.8,2400.8 L1336.3,2401.0 L1337.8,2401.1 L1339.3,2401.3 L1340.8,2401.5 L1342.3,2401.8 L1343.8,2402.0 L1345.3,2402.2 L1346.8,2402.4 L1348.3,2402.6 L1348.7,2402.7 M1379.9,2406.7 L1381.4,2406.9 L1382.9,2407.1 L1384.4,2407.3 L1385.9,2407.5 L1387.4,2407.7 L1388.9,2407.8 L1390.4,2408.0 L1391.9,2408.3 L1393.4,2408.5 L1394.9,2408.7 L1396.4,2408.9 L1397.9,2409.1 L1399.4,2409.3 L1400.9,2409.5 L1402.4,2409.8 L1403.9,2410.0 L1405.4,2410.2 L1406.9,2410.4 L1408.4,2410.6 L1409.9,2410.8 L1411.4,2411.0 L1412.2,2411.1 M1443.5,2413.4 L1444.5,2413.5 L1446.0,2413.5 L1447.5,2413.5 L1449.0,2413.5 L1450.5,2413.6 L1452.0,2413.6 L1453.5,2413.6 L1455.1,2413.6 L1456.6,2413.6 L1458.1,2413.6 L1459.6,2413.6 L1461.1,2413.6 L1462.6,2413.6 L1464.1,2413.6 L1465.6,2413.6 L1467.1,2413.5 L1468.6,2413.5 L1470.1,2413.5 L1471.6,2413.5 L1473.1,2413.5 L1474.6,2413.5 L1476.0,2413.5 M1507.4,2413.7 L1507.7,2413.7 L1509.2,2413.7 L1510.7,2413.7 L1512.2,2413.8 L1513.7,2413.8 L1515.2,2413.8 L1516.7,2413.9 L1518.2,2413.9 L1519.7,2413.9 L1521.2,2414.0 L1522.7,2414.0 L1524.2,2414.1 L1524.6,2414.1" stroke="#ff8000"/>
<path d="M225.0,2299.2 L226.5,2299.9 L228.0,2300.7 L229.5,2301.5 L231.0,2302.3 L232.5,2303.1 L234.0,2303.9 L235.5,2304.7 L237.0,2305.5 L238.5,2306.3 L240.0,2307.1 L241.5,2308.0 L243.0,2308.8 L244.5,2309.7 L246.0,2310.6 L247.5,2311.5 L249.0,2312.4 L250.5,2313.3 L252.0,2314.3 L253.5,2315.2 L255.1,2316.2 L256.6,2317.3 L258.1,2318.3 L259.6,2319.3 L261.0,2320.4 M274.3,2329.7 L274.6,2329.9 L276.1,2330.9 L277.6,2331.9 L279.1,2332.9 L280.6,2333.8 L282.1,2334.7 L283.6,2335.7 L283.8,2335.8 M297.6,2344.0 L298.7,2344.6 L300.2,2345.6 L301.7,2346.5 L303.2,2347.4 L304.7,2348.4 L306.2,2349.4 L307.7,2350.3 L309.2,2351.3 L310.7,2352.3 L312.2,2353.4 L313.7,2354.4 L315.2,2355.4 L316.7,2356.5 L318.2,2357.6 L319.7,2358.6 L321.2,2359.7 L322.7,2360.8 L324.2,2361.9 L325.7,2362.9 L327.2,2364.0 L328.7,2365.1 L330.2,2366.2 L331.7,2367.3 L332.7,2368.0 M345.9,2377.6 L346.8,2378.2 L348.3,2379.3 L349.8,2380.3 L351.3,2381.4 L352.8,2382.4 L354.3,2383.5 L355.2,2384.1 M368.4,2393.7 L369.3,2394.4 L370.8,2395.5 L372.3,2396.7 L373.8,2397.9 L375.4,2399.2 L376.9,2400.4 L378.4,2401.7 L379.9,2403.0 L381.4,2404.3 L382.9,2405.7 L384.4,2407.1 L385.9,2408.5 L387.4,2410.0 L388.9,2411.5 L390.4,2413.0 L391.9,2414.6 L393.4,2416.2 L394.9,2417.8 L396.4,2419.5 L397.9,2421.3 L399.4,2423.0 L400.4,2424.2 M411.3,2438.0 L411.4,2438.1 L412.9,2440.1 L414.4,2442.0 L416.0,2444.0 L417.5,2445.9 L418.9,2447.8 M429.8,2461.6 L431.0,2463.0 L432.5,2464.8 L434.0,2466.6 L435.5,2468.4 L437.0,2470.2 L438.5,2471.9 L440.0,2473.7 L441.5,2475.4 L443.0,2477.2 L444.5,2479.0 L446.0,2480.8 L447.5,2482.6 L449.0,2484.4 L450.5,2486.2 L452.0,2488.0 L453.5,2489.9 L455.1,2491.8 L456.6,2493.8 L458.1,2495.7 L459.0,2496.9 M469.5,2511.2 L470.1,2512.0 L471.6,2514.1 L473.1,2516.3 L474.6,2518.4 L476.1,2520.4 L476.8,2521.4 M487.8,2535.0 L488.1,2535.3 L489.6,2536.8 L491.1,2538.1 L492.6,2539.4 L494.1,2540.6 L495.7,2541.6 L497.2,2542.6 L498.7,2543.5 L500.2,2544.3 L501.7,2545.1 L503.2,2545.8 L504.7,2546.4 L506.2,2546.9 L507.7,2547.4 L509.2,2547.8 L510.7,2548.1 L512.2,2548.5 L513.7,2548.7 L515.2,2549.0 L516.7,2549.1 L518.2,2549.3 L519.7,2549.4 L521.2,2549.5 L522.7,2549.6 L524.2,2549.6 L524.9,2549.6 M539.5,2545.3 L540.8,2544.4 L542.3,2543.2 L543.8,2541.9 L545.3,2540.4 L546.8,2538.7 L548.0,2537.2 M558.1,2522.3 L558.8,2521.0 L560.3,2518.4 L561.8,2515.7 L563.3,2513.0 L564.8,2510.2 L566.3,2507.3 L567.8,2504.3 L569.3,2501.3 L570.8,2498.2 L572.3,2495.0 L573.8,2491.8 L575.4,2488.5 L576.9,2485.1 L578.4,2481.6 L579.7,2478.5 M586.8,2460.9 L587.4,2459.4 L588.9,2455.5 L590.4,2451.6 L591.6,2448.4 M598.5,2430.6 L599.4,2428.2 L600.9,2424.5 L602.4,2420.8 L603.9,2417.2 L605.4,2413.7 L606.9,2410.2 L608.4,2406.8 L609.9,2403.4 L611.4,2400.0 L612.9,2396.7 L614.4,2393.4 L616.0,2390.1 L617.5,2386.8 L618.2,2385.1 M626.4,2368.3 L626.5,2368.1 L628.0,2365.4 L629.5,2362.8 L631.0,2360.3 L632.5,2358.0 L632.9,2357.4 M644.9,2345.4 L646.0,2344.8 L647.5,2344.3 L649.0,2344.0 L650.5,2343.9 L652.0,2344.0 L653.5,2344.3 L655.1,2344.8 L656.6,2345.5 L658.1,2346.3 L659.6,2347.4 L661.1,2348.5 L662.6,2349.8 L664.1,2351.3 L665.6,2352.9 L667.1,2354.5 L668.6,2356.3 L670.1,2358.2 L671.6,2360.2 L673.1,2362.2 L674.6,2364.4 L676.1,2366.6 L677.5,2368.7 M686.7,2384.4 L688.1,2387.1 L689.6,2390.0 L691.1,2393.1 L692.6,2396.1 M700.7,2413.0 L701.7,2415.0 L703.2,2418.0 L704.7,2421.0 L706.2,2423.9 L707.7,2426.8 L709.2,2429.6 L710.7,2432.4 L712.2,2435.2 L713.7,2437.9 L715.2,2440.6 L716.7,2443.3 L718.2,2445.9 L719.7,2448.5 L721.2,2451.1 L722.7,2453.6 L723.9,2455.4 M733.9,2470.3 L734.8,2471.4 L736.3,2473.3 L737.8,2475.1 L739.3,2476.8 L740.8,2478.5 L741.8,2479.6 M754.6,2490.0 L755.8,2490.7 L757.3,2491.5 L758.8,2492.3 L760.3,2493.0 L761.8,2493.7 L763.3,2494.3 L764.8,2494.8 L766.3,2495.3 L767.8,2495.8 L769.3,2496.2 L770.8,2496.6 L772.3,2496.9 L773.8,2497.2 L775.4,2497.5 L776.9,2497.8 L778.4,2498.0 L779.9,2498.2 L781.4,2498.4 L782.9,2498.6 L784.4,2498.7 L785.9,2498.9 L787.4,2499.0 L788.9,2499.2 L790.4,2499.3 L791.9,2499.4 L793.2,2499.6 M808.2,2500.7 L808.4,2500.7 L809.9,2500.8 L811.4,2500.9 L812.9,2501.0 L814.4,2501.0 L816.0,2501.1 L817.5,2501.1 L818.7,2501.2 M833.8,2500.6 L834.0,2500.6 L835.5,2500.4 L837.0,2500.1 L838.5,2499.8 L840.0,2499.5 L841.5,2499.2 L843.0,2498.8 L844.5,2498.4 L846.0,2498.0 L847.5,2497.6 L849.0,2497.2 L850.5,2496.9 L852.0,2496.5 L853.5,2496.1 L855.1,2495.8 L856.6,2495.4 L858.1,2495.2 L859.6,2494.9 L861.1,2494.7 L862.6,2494.6 L864.1,2494.5 L865.6,2494.5 L867.1,2494.6 L868.6,2494.7 L870.1,2494.9 L871.6,2495.2 L872.8,2495.6 M886.6,2503.3 L888.1,2504.5 L889.6,2505.8 L891.1,2507.2 L892.6,2508.7 L894.1,2510.2 L895.2,2511.4 M905.1,2526.4 L906.2,2528.6 L907.7,2531.9 L909.2,2535.5 L910.7,2539.3 L912.2,2543.4 L913.7,2547.7 L915.2,2552.3 L916.7,2557.0 L918.2,2561.9 L919.7,2567.0 L921.2,2572.2 L921.7,2573.9 M926.7,2592.8 L927.2,2594.7 L928.7,2600.7 L930.0,2606.1 M934.5,2625.3 L934.8,2626.5 L936.3,2633.5 L937.8,2640.8 L939.3,2648.2 L940.8,2656.0 L942.3,2664.0 L943.8,2672.3 L944.4,2676.0 M947.7,2695.6 L948.3,2698.8 L949.8,2708.1 L950.0,2709.2 M953.1,2728.9 L954.3,2736.5 L955.8,2746.0 L957.3,2755.3 L958.8,2764.4 L960.3,2773.5 L961.4,2780.2 M964.7,2799.7 L964.8,2800.4 L966.3,2809.5 L967.0,2813.4 M970.2,2832.9 L970.8,2836.9 L972.3,2845.9 L973.8,2854.7 L975.4,2863.3 L976.9,2871.4 L978.4,2879.1 L979.4,2884.0 M983.9,2903.1 L984.4,2905.0 L985.9,2910.1 L987.4,2914.7 L987.9,2916.0 M997.0,2931.5 L997.9,2932.1 L999.4,2932.5 L1000.9,2932.5 L1002.4,2932.0 L1003.9,2931.0 L1005.4,2929.7 L1006.9,2927.9 L1008.4,2925.8 L1009.9,2923.4 L1011.4,2920.7 L1012.9,2917.8 L1014.4,2914.7 L1016.0,2911.3 L1017.5,2907.7 L1019.0,2903.8 L1020.5,2899.4 L1021.6,2895.8 M1026.5,2876.9 L1028.0,2870.1 L1029.4,2863.4 M1033.2,2844.0 L1034.0,2839.7 L1035.5,2831.4 L1037.0,2823.0 L1038.5,2814.4 L1040.0,2805.6 L1041.5,2796.5 L1042.1,2792.9 M1045.2,2773.3 L1046.0,2767.9 L1047.3,2759.6 M1050.2,2739.9 L1050.5,2737.8 L1052.0,2727.7 L1053.5,2717.8 L1055.1,2708.1 L1056.6,2698.5 L1058.1,2689.1 L1058.2,2688.5 M1061.4,2669.0 L1062.6,2662.3 L1063.8,2655.3 M1067.4,2635.8 L1068.6,2629.5 L1070.1,2621.9 L1071.6,2614.4 L1073.1,2607.2 L1074.6,2600.1 L1076.1,2593.2 L1077.6,2586.4 L1077.9,2585.2 M1082.4,2566.2 L1083.6,2561.3 L1085.1,2555.5 L1085.8,2552.9 M1091.0,2534.1 L1091.1,2533.7 L1092.6,2528.7 L1094.1,2523.9 L1095.7,2519.2 L1097.2,2514.8 L1098.7,2510.6 L1100.2,2506.7 L1101.7,2502.9 L1103.2,2499.5 L1104.7,2496.3 L1106.2,2493.4 L1107.7,2490.8 L1109.2,2488.4 L1109.5,2488.0 M1120.9,2475.1 L1121.2,2474.8 L1122.7,2473.4 L1124.2,2472.0 L1125.7,2470.5 L1127.2,2469.0 L1128.7,2467.5 L1129.4,2466.8 M1140.5,2453.2 L1140.8,2452.8 L1142.3,2450.7 L1143.8,2448.5 L1145.3,2446.3 L1146.8,2444.0 L1148.3,2441.6 L1149.8,2439.3 L1151.3,2436.9 L1152.8,2434.4 L1154.3,2432.0 L1155.8,2429.5 L1157.3,2427.0 L1158.8,2424.5 L1160.3,2422.0 L1161.8,2419.5 L1163.3,2417.1 L1164.8,2414.6 L1165.8,2413.0 M1175.5,2397.7 L1176.9,2395.7 L1178.4,2393.4 L1179.9,2391.2 L1181.4,2388.9 L1182.5,2387.2 M1193.0,2372.8 L1193.4,2372.3 L1194.9,2370.4 L1196.4,2368.6 L1197.9,2366.9 L1199.4,2365.3 L1200.9,2363.7 L1202.4,2362.2 L1203.9,2360.8 L1205.4,2359.5 L1206.9,2358.3 L1208.4,2357.1 L1209.9,2356.0 L1211.4,2355.0 L1212.9,2354.1 L1214.4,2353.2 L1216.0,2352.5 L1217.5,2351.8 L1219.0,2351.2 L1220.5,2350.7 L1222.0,2350.2 L1223.5,2349.9 L1225.0,2349.6 L1226.5,2349.4 L1227.3,2349.3 M1242.2,2351.9 L1243.0,2352.2 L1244.5,2352.9 L1246.0,2353.6 L1247.5,2354.4 L1249.0,2355.3 L1250.5,2356.1 L1252.0,2357.0 M1265.2,2366.5 L1265.6,2366.8 L1267.1,2367.9 L1268.6,2369.0 L1270.1,2370.2 L1271.6,2371.3 L1273.1,2372.3 L1274.6,2373.4 L1276.1,2374.4 L1277.6,2375.4 L1279.1,2376.3 L1280.6,2377.2 L1282.1,2378.1 L1283.6,2378.9 L1285.1,2379.6 L1286.6,2380.4 L1288.1,2381.0 L1289.6,2381.6 L1291.1,2382.2 L1292.6,2382.7 L1294.1,2383.2 L1295.7,2383.6 L1297.2,2384.0 L1298.7,2384.3 L1300.2,2384.6 L1301.7,2384.8 L1301.9,2384.8 M1316.9,2384.0 L1318.2,2383.8 L1319.7,2383.5 L1321.2,2383.2 L1322.7,2383.0 L1324.2,2382.7 L1325.7,2382.5 L1327.2,2382.2 L1327.3,2382.2 M1342.3,2380.5 L1343.8,2380.4 L1345.3,2380.4 L1346.8,2380.3 L1348.3,2380.2 L1349.8,2380.2 L1351.3,2380.1 L1352.8,2380.1 L1354.3,2380.1 L1355.8,2380.1 L1357.3,2380.2 L1358.8,2380.3 L1360.3,2380.5 L1361.8,2380.6 L1363.3,2380.9 L1364.8,2381.2 L1366.3,2381.5 L1367.8,2381.7 L1369.3,2382.0 L1370.8,2382.3 L1372.3,2382.5 L1373.8,2382.7 L1375.4,2382.9 L1376.9,2383.1 L1378.4,2383.3 L1379.9,2383.5 L1381.4,2383.7 L1381.6,2383.8 M1396.5,2386.9 L1397.9,2387.3 L1399.4,2387.8 L1400.9,2388.2 L1402.4,2388.7 L1403.9,2389.2 L1405.4,2389.6 L1406.7,2390.1 M1421.4,2394.9 L1422.0,2395.1 L1423.5,2395.6 L1425.0,2396.1 L1426.5,2396.6 L1428.0,2397.0 L1429.5,2397.4 L1431.0,2397.9 L1432.5,2398.3 L1434.0,2398.7 L1435.5,2399.1 L1437.0,2399.4 L1438.5,2399.8 L1440.0,2400.2 L1441.5,2400.6 L1443.0,2401.0 L1444.5,2401.4 L1446.0,2401.8 L1447.5,2402.2 L1449.0,2402.7 L1450.5,2403.2 L1452.0,2403.7 L1453.5,2404.2 L1455.1,2404.8 L1456.6,2405.5 L1458.1,2406.1 L1459.6,2406.9 L1459.8,2407.0" stroke="#ff00ff"/>
<path d="M225.0,2301.1 L226.5,2302.0 L228.0,2302.8 L229.5,2303.6 L231.0,2304.5 L232.5,2305.3 L234.0,2306.1 L235.5,2307.0 L237.0,2307.8 L238.5,2308.6 L240.0,2309.4 L241.5,2310.3 L243.0,2311.1 L244.5,2311.9 L246.0,2312.7 L247.5,2313.4 L249.0,2314.2 L250.5,2315.0 L252.0,2315.8 L252.8,2316.2 M266.9,2323.4 L267.1,2323.5 L268.6,2324.3 L270.1,2325.1 L271.6,2325.9 L273.1,2326.7 L274.6,2327.4 L276.1,2328.2 L277.0,2328.7 M290.9,2336.5 L291.1,2336.7 L292.6,2337.6 L294.1,2338.5 L295.7,2339.4 L297.2,2340.4 L298.7,2341.3 L300.2,2342.3 L300.4,2342.5 M313.9,2351.9 L315.2,2352.9 L316.7,2354.0 L318.2,2355.2 L319.7,2356.4 L321.2,2357.6 L322.7,2358.8 L324.2,2360.1 L325.7,2361.3 L327.2,2362.6 L328.7,2363.9 L330.2,2365.1 L331.7,2366.4 L333.2,2367.7 L334.8,2369.0 L336.3,2370.3 L337.8,2371.6 L339.3,2372.9 L339.4,2373.1 M352.2,2383.7 L352.8,2384.1 L354.3,2385.3 L355.8,2386.4 L357.3,2387.6 L358.8,2388.7 L360.3,2389.8 L361.7,2390.8 M374.7,2400.7 L375.4,2401.2 L376.9,2402.4 L378.4,2403.7 L379.9,2404.9 L381.4,2406.2 L382.9,2407.5 L383.6,2408.2 M396.2,2419.9 L396.4,2420.1 L397.9,2421.6 L399.4,2423.1 L400.9,2424.7 L402.4,2426.2 L403.9,2427.8 L405.4,2429.4 L406.9,2431.0 L408.4,2432.6 L409.9,2434.3 L411.4,2436.0 L412.9,2437.8 L414.4,2439.6 L416.0,2441.4 L417.5,2443.3 L419.0,2445.2 L419.2,2445.5 M429.7,2459.9 L431.0,2461.9 L432.5,2464.1 L434.0,2466.4 L435.5,2468.7 L436.8,2470.8 M446.4,2486.3 L447.5,2488.2 L449.0,2490.7 L450.5,2493.3 L452.0,2495.8 L452.9,2497.3 M462.7,2512.9 L464.1,2514.9 L465.6,2517.1 L467.1,2519.2 L468.6,2521.2 L470.1,2523.2 L471.6,2525.1 L473.1,2526.9 L474.6,2528.7 L476.1,2530.4 L477.6,2532.1 L479.1,2533.7 L480.6,2535.3 L482.1,2536.8 L483.6,2538.3 L485.0,2539.6 M498.4,2548.6 L498.7,2548.7 L500.2,2549.2 L501.7,2549.5 L503.2,2549.8 L504.7,2549.8 L506.2,2549.8 L507.7,2549.6 L509.2,2549.3 M522.1,2539.7 L522.7,2539.0 L524.2,2536.9 L525.7,2534.8 L527.2,2532.4 L528.7,2529.9 L529.1,2529.3 M537.9,2512.6 L539.3,2509.7 L540.8,2506.5 L542.3,2503.4 L543.8,2500.2 L545.3,2497.1 L546.8,2494.0 L548.3,2490.9 L549.8,2488.0 L551.3,2485.0 L552.8,2482.1 L554.3,2479.2 L554.3,2479.1 M562.9,2462.6 L563.3,2461.8 L564.8,2458.8 L566.3,2455.9 L567.8,2452.9 L569.0,2450.6 M577.3,2434.0 L578.4,2431.9 L579.9,2428.9 L581.4,2426.0 L582.9,2423.1 L583.2,2422.4 M592.5,2406.2 L593.4,2404.9 L594.9,2402.7 L596.4,2400.7 L597.9,2398.7 L599.4,2396.9 L600.9,2395.2 L602.4,2393.6 L603.9,2392.1 L605.4,2390.7 L606.9,2389.4 L608.4,2388.2 L609.9,2387.2 L611.4,2386.2 L612.9,2385.4 L614.4,2384.7 L616.0,2384.1 L616.8,2383.8 M631.7,2383.4 L632.5,2383.6 L634.0,2384.1 L635.5,2384.7 L637.0,2385.3 L638.5,2386.0 L640.0,2386.8 L641.5,2387.6 L642.1,2387.9 M655.4,2397.3 L656.6,2398.2 L658.1,2399.4 L659.6,2400.6 L661.1,2401.9 L662.6,2403.1 L664.1,2404.4 L664.3,2404.6 M676.8,2416.4 L677.6,2417.2 L679.1,2418.8 L680.6,2420.5 L682.1,2422.2 L683.6,2423.9 L685.1,2425.7 L686.6,2427.5 L688.1,2429.3 L689.6,2431.2 L691.1,2433.0 L692.6,2434.8 L694.1,2436.7 L695.7,2438.5 L697.2,2440.3 L698.7,2442.0 L699.4,2442.8 M710.8,2455.7 L712.2,2457.2 L713.7,2458.8 L715.2,2460.4 L716.7,2462.0 L718.2,2463.6 L719.3,2464.8 M731.2,2477.2 L731.7,2477.8 L733.2,2479.3 L734.8,2480.8 L736.3,2482.3 L737.8,2483.8 L739.3,2485.3 L739.6,2485.6 M752.1,2497.3 L752.8,2497.9 L754.3,2499.2 L755.8,2500.4 L757.3,2501.6 L758.8,2502.8 L760.3,2503.9 L761.8,2505.0 L763.3,2506.1 L764.8,2507.1 L766.3,2508.1 L767.8,2509.0 L769.3,2509.9 L770.8,2510.7 L772.3,2511.5 L773.8,2512.2 L775.4,2512.9 L776.9,2513.5 L778.4,2514.1 L779.1,2514.4 M793.9,2517.8 L794.9,2517.9 L796.4,2518.1 L797.9,2518.2 L799.4,2518.3 L800.9,2518.3 L802.4,2518.4 L803.9,2518.4 L804.8,2518.4 M819.8,2517.3 L820.5,2517.3 L822.0,2517.0 L823.5,2516.8 L825.0,2516.6 L826.5,2516.3 L828.0,2516.1 L829.5,2515.8 L830.3,2515.7 M845.4,2512.2 L846.0,2512.0 L847.5,2511.6 L849.0,2511.2 L850.5,2510.8 L852.0,2510.3 L853.5,2509.9 L855.1,2509.5 L856.6,2509.1 L858.1,2508.8 L859.6,2508.5 L861.1,2508.2 L862.6,2508.0 L864.1,2507.9 L865.6,2507.8 L867.1,2507.9 L868.6,2508.0 L870.1,2508.3 L871.6,2508.6 L873.1,2509.1 L874.6,2509.7 L875.0,2509.9 M887.5,2520.6 L888.1,2521.4 L889.6,2523.4 L891.1,2525.6 L892.6,2527.9 L894.1,2530.3 L894.8,2531.4 M902.9,2548.3 L903.2,2549.0 L904.7,2552.8 L906.2,2556.9 L907.6,2560.8 M913.6,2579.5 L913.7,2579.7 L915.2,2584.6 L916.7,2589.5 L918.2,2594.4 L919.7,2599.4 L921.2,2604.4 L922.7,2609.4 L924.2,2614.4 L924.9,2616.6 M930.2,2635.3 L930.2,2635.6 L931.7,2641.2 L933.2,2647.1 L933.7,2649.0 M938.3,2668.1 L939.3,2672.6 L940.8,2679.7 L941.1,2681.5 M945.0,2701.2 L945.3,2702.5 L946.8,2710.6 L948.3,2718.9 L949.8,2727.4 L951.3,2736.1 L952.0,2740.1 M955.3,2759.6 L955.8,2762.3 L957.3,2770.8 L957.8,2773.7 M961.4,2793.2 L961.8,2795.2 L963.3,2802.7 L964.2,2806.7 M968.5,2826.2 L969.3,2829.8 L970.8,2835.9 L972.3,2841.8 L973.8,2847.5 L975.4,2853.1 L976.9,2858.5 L978.4,2863.8 L978.4,2864.0 M984.3,2882.4 L984.4,2882.6 L985.9,2886.5 L987.4,2889.9 L988.9,2892.8 L990.0,2894.7 M1003.0,2901.3 L1003.9,2900.7 L1005.4,2899.6 L1006.9,2898.1 L1008.4,2896.4 L1009.9,2894.3 L1011.1,2892.5 M1019.3,2875.4 L1020.5,2872.4 L1022.0,2868.4 L1023.5,2864.0 L1025.0,2859.5 L1026.5,2854.8 L1028.0,2849.9 L1029.5,2844.8 L1031.0,2839.4 L1031.2,2838.7 M1036.0,2819.8 L1037.0,2815.5 L1038.5,2809.3 L1039.3,2806.0 M1044.0,2787.0 L1044.5,2784.9 L1046.0,2779.0 L1047.4,2773.7 M1052.3,2754.4 L1053.5,2749.7 L1055.1,2743.6 L1056.6,2737.3 L1058.1,2730.8 L1059.6,2724.0 L1061.1,2716.8 L1061.2,2716.2 M1065.0,2696.9 L1065.6,2693.8 L1067.1,2685.8 L1067.6,2682.8 M1071.3,2663.4 L1071.6,2661.7 L1073.1,2653.6 L1073.8,2649.8 M1077.6,2630.1 L1079.1,2622.7 L1080.6,2615.4 L1082.1,2608.4 L1083.6,2601.7 L1085.1,2595.2 L1086.0,2591.7 M1090.8,2572.7 L1091.1,2571.5 L1092.6,2566.1 L1094.1,2560.7 L1094.6,2559.1 M1100.1,2540.5 L1100.2,2540.4 L1101.7,2535.4 L1103.2,2530.4 L1104.0,2527.5 M1109.8,2508.7 L1110.7,2505.6 L1112.2,2500.8 L1113.7,2496.1 L1115.2,2491.4 L1116.7,2486.9 L1118.2,2482.6 L1119.7,2478.3 L1121.2,2474.2 L1122.0,2472.1 M1128.9,2454.4 L1130.2,2451.1 L1131.7,2447.4 L1133.2,2443.8 L1134.1,2441.7 M1141.6,2424.3 L1142.3,2422.7 L1143.8,2419.4 L1145.3,2416.2 L1146.8,2413.1 L1147.1,2412.4 M1156.0,2395.8 L1157.3,2393.7 L1158.8,2391.3 L1160.3,2389.0 L1161.8,2386.9 L1163.3,2384.8 L1164.8,2382.9 L1166.3,2381.0 L1167.8,2379.2 L1169.3,2377.5 L1170.8,2375.9 L1172.3,2374.3 L1173.8,2372.8 L1175.4,2371.3 L1176.9,2369.9 L1178.0,2368.8 M1190.6,2357.9 L1191.9,2357.1 L1193.4,2356.1 L1194.9,2355.2 L1196.4,2354.3 L1197.9,2353.6 L1199.4,2352.9 L1200.7,2352.4 M1215.6,2350.6 L1216.0,2350.6 L1217.5,2350.8 L1219.0,2351.0 L1220.5,2351.3 L1222.0,2351.6 L1223.5,2351.9 L1225.0,2352.3 L1226.0,2352.6 M1240.8,2357.7 L1241.5,2358.0 L1243.0,2358.6 L1244.5,2359.2 L1246.0,2359.7 L1247.5,2360.3 L1249.0,2360.9 L1250.5,2361.5 L1252.0,2362.1 L1253.5,2362.6 L1255.1,2363.2 L1256.6,2363.7 L1258.1,2364.3 L1259.6,2364.9 L1261.1,2365.4 L1262.6,2366.0 L1264.1,2366.5 L1265.6,2367.1 L1267.1,2367.6 L1268.6,2368.2 L1269.7,2368.6 M1284.3,2373.5 L1285.1,2373.8 L1286.6,2374.2 L1288.1,2374.7 L1289.6,2375.1 L1291.1,2375.4 L1292.6,2375.8 L1294.1,2376.1 L1295.0,2376.3 M1310.0,2378.4 L1310.7,2378.5 L1312.2,2378.7 L1313.7,2378.9 L1315.2,2379.0 L1316.7,2379.2 L1318.2,2379.4 L1319.7,2379.6 L1320.4,2379.7 M1335.6,2382.2 L1336.3,2382.3 L1337.8,2382.6 L1339.3,2382.8 L1340.8,2383.0 L1342.3,2383.2 L1343.8,2383.4 L1345.3,2383.6 L1346.8,2383.8 L1348.3,2383.9 L1349.8,2384.1 L1351.3,2384.2 L1352.8,2384.3 L1354.3,2384.5 L1355.8,2384.6 L1357.3,2384.7 L1358.8,2384.8 L1360.3,2385.0 L1361.8,2385.1 L1363.3,2385.3 L1364.8,2385.5 L1365.6,2385.6 M1380.5,2388.1 L1381.4,2388.2 L1382.9,2388.5 L1384.4,2388.8 L1385.9,2389.0 L1387.4,2389.3 L1388.9,2389.5 L1390.4,2389.8 L1391.3,2389.9 M1406.2,2392.3 L1406.9,2392.5 L1408.4,2393.0 L1409.9,2393.5 L1411.4,2394.2 L1412.9,2394.9 L1414.4,2395.7 L1416.0,2396.6 L1416.2,2396.7" stroke="#008000"/>
<path d="M225.0,2316.5 L226.5,2317.7 L228.0,2318.9 L229.5,2320.2 L231.0,2321.4 L232.5,2322.6 L234.0,2323.8 L235.5,2325.0 L237.0,2326.2 L238.5,2327.4 L240.0,2328.6 L241.5,2329.8 L243.0,2331.0 L244.5,2332.2 L246.0,2333.4 L247.5,2334.6 L249.0,2335.8 L250.5,2336.9 L252.0,2338.1 L253.5,2339.3 L255.1,2340.4 L256.6,2341.6 L258.1,2342.7 L259.6,2343.9 L261.1,2345.0 L262.6,2346.1 L264.1,2347.2 L265.6,2348.3 L267.1,2349.4 L268.6,2350.5 L270.1,2351.6 L271.6,2352.7 L273.1,2353.8 L274.6,2354.9 L276.1,2356.0 L277.6,2357.0 L279.1,2358.1 L280.6,2359.2 L282.1,2360.2 L283.6,2361.3 L285.1,2362.3 L286.6,2363.4 L288.1,2364.4 L289.6,2365.5 L291.1,2366.5 L292.6,2367.5 L294.1,2368.6 L295.7,2369.6 L297.2,2370.6 L298.7,2371.6 L300.2,2372.6 L301.7,2373.6 L303.2,2374.5 L304.7,2375.5 L306.2,2376.5 L307.7,2377.4 L309.2,2378.4 L310.7,2379.3 L312.2,2380.2 L313.7,2381.1 L315.2,2382.1 L316.7,2382.9 L318.2,2383.8 L319.7,2384.7 L321.2,2385.6 L322.7,2386.4 L324.2,2387.2 L325.7,2388.0 L327.2,2388.9 L328.7,2389.6 L330.2,2390.4 L331.7,2391.2 L333.2,2391.9 L334.8,2392.6 L336.3,2393.3 L337.8,2394.0 L339.3,2394.7 L340.8,2395.3 L342.3,2395.9 L343.8,2396.5 L345.3,2397.1 L346.8,2397.7 L348.3,2398.3 L349.8,2398.8 L351.3,2399.3 L352.8,2399.8 L354.3,2400.3 L355.8,2400.8 L357.3,2401.3 L358.8,2401.8 L360.3,2402.2 L361.8,2402.7 L363.3,2403.1 L364.8,2403.5 L366.3,2404.0 L367.8,2404.4 L369.3,2404.8 L370.8,2405.2 L372.3,2405.7 L373.8,2406.1 L375.4,2406.5 L376.9,2406.9 L378.4,2407.4 L379.9,2407.8 L381.4,2408.3 L382.9,2408.7 L384.4,2409.2 L385.9,2409.7 L387.4,2410.2 L388.9,2410.7 L390.4,2411.3 L391.9,2411.9 L393.4,2412.4 L394.9,2413.1 L396.4,2413.7 L397.9,2414.4 L399.4,2415.1 L400.9,2415.8 L402.4,2416.6 L403.9,2417.4 L405.4,2418.2 L406.9,2419.0 L408.4,2419.9 L409.9,2420.8 L411.4,2421.7 L412.9,2422.6 L414.4,2423.5 L416.0,2424.5 L417.5,2425.4 L419.0,2426.4 L420.5,2427.4 L422.0,2428.4 L423.5,2429.4 L425.0,2430.3 L426.5,2431.3 L428.0,2432.2 L429.5,2433.1 L431.0,2434.0 L432.5,2434.8 L434.0,2435.6 L435.5,2436.3 L437.0,2437.0 L438.5,2437.6 L440.0,2438.1 L441.5,2438.6 L443.0,2439.1 L444.5,2439.4 L446.0,2439.8 L447.5,2440.0 L449.0,2440.3 L450.5,2440.4 L452.0,2440.6 L453.5,2440.7 L455.1,2440.8 L456.6,2440.8 L458.1,2440.8 L459.6,2440.7 L461.1,2440.6 L462.6,2440.5 L464.1,2440.4 L465.6,2440.2 L467.1,2439.9 L468.6,2439.7 L470.1,2439.4 L471.6,2439.1 L473.1,2438.7 L474.6,2438.4 L476.1,2438.0 L477.6,2437.6 L479.1,2437.2 L480.6,2436.8 L482.1,2436.4 L483.6,2436.1 L485.1,2435.8 L486.6,2435.5 L488.1,2435.2 L489.6,2435.0 L491.1,2434.8 L492.6,2434.7 L494.1,2434.6 L495.7,2434.6 L497.2,2434.7 L498.7,2434.7 L500.2,2434.9 L501.7,2435.1 L503.2,2435.4 L504.7,2435.7 L506.2,2436.2 L507.7,2436.7 L509.2,2437.3 L510.7,2437.9 L512.2,2438.7 L513.7,2439.6 L515.2,2440.5 L516.7,2441.6 L518.2,2442.8 L519.7,2444.0 L521.2,2445.4 L522.7,2446.8 L524.2,2448.3 L525.7,2449.9 L527.2,2451.5 L528.7,2453.2 L530.2,2455.0 L531.7,2456.8 L533.2,2458.7 L534.8,2460.7 L536.3,2462.7 L537.8,2464.7 L539.3,2466.8 L540.8,2469.0 L542.3,2471.2 L543.8,2473.4 L545.3,2475.7 L546.8,2478.0 L548.3,2480.4 L549.8,2482.8 L551.3,2485.2 L552.8,2487.7 L554.3,2490.3 L555.8,2492.9 L557.3,2495.5 L558.8,2498.2 L560.3,2500.9 L561.8,2503.7 L563.3,2506.5 L564.8,2509.3 L566.3,2512.1 L567.8,2514.9 L569.3,2517.7 L570.8,2520.4 L572.3,2523.2 L573.8,2525.8 L575.4,2528.4 L576.9,2531.0 L578.4,2533.4 L579.9,2535.8 L581.4,2538.1 L582.9,2540.3 L584.4,2542.3 L585.9,2544.3 L587.4,2546.1 L588.9,2547.7 L590.4,2549.2 L591.9,2550.6 L593.4,2551.8 L594.9,2552.9 L596.4,2553.9 L597.9,2554.7 L599.4,2555.4 L600.9,2556.0 L602.4,2556.4 L603.9,2556.7 L605.4,2556.9 L606.9,2557.0 L608.4,2556.9 L609.9,2556.7 L611.4,2556.4 L612.9,2556.0 L614.4,2555.5 L616.0,2554.8 L617.5,2554.1 L619.0,2553.2 L620.5,2552.2 L622.0,2551.1 L623.5,2549.8 L625.0,2548.5 L626.5,2547.1 L628.0,2545.5 L629.5,2543.9 L631.0,2542.2 L632.5,2540.3 L634.0,2538.4 L635.5,2536.5 L637.0,2534.4 L638.5,2532.3 L640.0,2530.1 L641.5,2527.9 L643.0,2525.6 L644.5,2523.3 L646.0,2520.9 L647.5,2518.5 L649.0,2516.1 L650.5,2513.7 L652.0,2511.2 L653.5,2508.8 L655.1,2506.3 L656.6,2503.8 L658.1,2501.4 L659.6,2498.9 L661.1,2496.5 L662.6,2494.1 L664.1,2491.7 L665.6,2489.3 L667.1,2487.0 L668.6,2484.7 L670.1,2482.5 L671.6,2480.3 L673.1,2478.1 L674.6,2476.1 L676.1,2474.1 L677.6,2472.2 L679.1,2470.3 L680.6,2468.6 L682.1,2466.9 L683.6,2465.3 L685.1,2463.8 L686.6,2462.3 L688.1,2461.0 L689.6,2459.6 L691.1,2458.4 L692.6,2457.2 L694.1,2456.1 L695.7,2455.0 L697.2,2454.0 L698.7,2453.0 L700.2,2452.1 L701.7,2451.2 L703.2,2450.4 L704.7,2449.7 L706.2,2449.0 L707.7,2448.4 L709.2,2447.9 L710.7,2447.4 L712.2,2447.0 L713.7,2446.7 L715.2,2446.4 L716.7,2446.2 L718.2,2446.1 L719.7,2446.0 L721.2,2446.0 L722.7,2446.1 L724.2,2446.2 L725.7,2446.4 L727.2,2446.7 L728.7,2447.1 L730.2,2447.5 L731.7,2447.9 L733.2,2448.5 L734.8,2449.0 L736.3,2449.7 L737.8,2450.4 L739.3,2451.1 L740.8,2452.0 L742.3,2452.8 L743.8,2453.7 L745.3,2454.7 L746.8,2455.7 L748.3,2456.7 L749.8,2457.8 L751.3,2458.9 L752.8,2460.0 L754.3,2461.2 L755.8,2462.3 L757.3,2463.5 L758.8,2464.7 L760.3,2465.9 L761.8,2467.1 L763.3,2468.3 L764.8,2469.4 L766.3,2470.6 L767.8,2471.7 L769.3,2472.8 L770.8,2473.9 L772.3,2474.9 L773.8,2475.9 L775.4,2476.9 L776.9,2477.9 L778.4,2478.8 L779.9,2479.7 L781.4,2480.5 L782.9,2481.4 L784.4,2482.2 L785.9,2482.9 L787.4,2483.7 L788.9,2484.4 L790.4,2485.0 L791.9,2485.7 L793.4,2486.3 L794.9,2486.9 L796.4,2487.4 L797.9,2487.9 L799.4,2488.4 L800.9,2488.9 L802.4,2489.3 L803.9,2489.7 L805.4,2490.1 L806.9,2490.4 L808.4,2490.7 L809.9,2491.0 L811.4,2491.3 L812.9,2491.5 L814.4,2491.7 L816.0,2491.9 L817.5,2492.1 L819.0,2492.2 L820.5,2492.3 L822.0,2492.4 L823.5,2492.5 L825.0,2492.6 L826.5,2492.6 L828.0,2492.6 L829.5,2492.6 L831.0,2492.6 L832.5,2492.5 L834.0,2492.5 L835.5,2492.4 L837.0,2492.3 L838.5,2492.2 L840.0,2492.1 L841.5,2491.9 L843.0,2491.7 L844.5,2491.6 L846.0,2491.4 L847.5,2491.2 L849.0,2490.9 L850.5,2490.7 L852.0,2490.4 L853.5,2490.2 L855.1,2489.9 L856.6,2489.6 L858.1,2489.3 L859.6,2489.0 L861.1,2488.8 L862.6,2488.5 L864.1,2488.3 L865.6,2488.2 L867.1,2488.1 L868.6,2488.1 L870.1,2488.1 L871.6,2488.2 L873.1,2488.4 L874.6,2488.6 L876.1,2489.0 L877.6,2489.6 L879.1,2490.3 L880.6,2491.1 L882.1,2492.1 L883.6,2493.4 L885.1,2494.8 L886.6,2496.4 L888.1,2498.2 L889.6,2500.3 L891.1,2502.6 L892.6,2505.2 L894.1,2508.0 L895.7,2511.1 L897.2,2514.4 L898.7,2517.9 L900.2,2521.7 L901.7,2525.6 L903.2,2529.8 L904.7,2534.1 L906.2,2538.6 L907.7,2543.3 L909.2,2548.2 L910.7,2553.2 L912.2,2558.4 L913.7,2563.8 L915.2,2569.4 L916.7,2575.2 L918.2,2581.2 L919.7,2587.4 L921.2,2593.7 L922.7,2600.3 L924.2,2607.0 L925.7,2613.9 L927.2,2621.0 L928.7,2628.2 L930.2,2635.6 L931.7,2643.1 L933.2,2650.7 L934.8,2658.4 L936.3,2666.1 L937.8,2674.0 L939.3,2681.9 L940.8,2690.0 L942.3,2698.2 L943.8,2706.6 L945.3,2715.2 L946.8,2724.1 L948.3,2733.2 L949.8,2742.7 L951.3,2752.5 L952.8,2762.6 L954.3,2773.0 L955.8,2783.6 L957.3,2794.3 L958.8,2805.2 L960.3,2816.0 L961.8,2826.8 L963.3,2837.5 L964.8,2848.1 L966.3,2858.4 L967.8,2868.5 L969.3,2878.3 L970.8,2887.7 L972.3,2896.7 L973.8,2905.2 L975.4,2913.2 L976.9,2920.7 L978.4,2927.7 L979.9,2934.2 L981.4,2940.2 L982.9,2945.9 L984.4,2951.0 L985.9,2955.8 L987.4,2960.2 L988.9,2964.2 L990.4,2967.8 L991.9,2970.9 L993.4,2973.6 L994.9,2975.9 L996.4,2977.7 L997.9,2979.0 L999.4,2979.9 L1000.9,2980.3 L1002.4,2980.2 L1003.9,2979.7 L1005.4,2978.6 L1006.9,2977.1 L1008.4,2975.0 L1009.9,2972.4 L1011.4,2969.4 L1012.9,2965.8 L1014.4,2961.7 L1016.0,2957.1 L1017.5,2952.0 L1019.0,2946.3 L1020.5,2940.2 L1022.0,2933.5 L1023.5,2926.4 L1025.0,2918.9 L1026.5,2910.9 L1028.0,2902.6 L1029.5,2893.9 L1031.0,2884.9 L1032.5,2875.7 L1034.0,2866.4 L1035.5,2856.9 L1037.0,2847.4 L1038.5,2837.8 L1040.0,2828.1 L1041.5,2818.4 L1043.0,2808.6 L1044.5,2798.8 L1046.0,2788.9 L1047.5,2779.0 L1049.0,2769.2 L1050.5,2759.3 L1052.0,2749.6 L1053.5,2739.8 L1055.1,2730.2 L1056.6,2720.6 L1058.1,2711.0 L1059.6,2701.5 L1061.1,2692.1 L1062.6,2682.7 L1064.1,2673.4 L1065.6,2664.1 L1067.1,2654.9 L1068.6,2645.6 L1070.1,2636.4 L1071.6,2627.1 L1073.1,2617.8 L1074.6,2608.6 L1076.1,2599.3 L1077.6,2590.0 L1079.1,2580.7 L1080.6,2571.4 L1082.1,2562.2 L1083.6,2553.2 L1085.1,2544.4 L1086.6,2535.9 L1088.1,2527.8 L1089.6,2520.0 L1091.1,2512.6 L1092.6,2505.6 L1094.1,2499.0 L1095.7,2492.6 L1097.2,2486.6 L1098.7,2480.9 L1100.2,2475.5 L1101.7,2470.3 L1103.2,2465.4 L1104.7,2460.8 L1106.2,2456.3 L1107.7,2452.0 L1109.2,2447.9 L1110.7,2443.8 L1112.2,2439.9 L1113.7,2436.1 L1115.2,2432.4 L1116.7,2428.8 L1118.2,2425.2 L1119.7,2421.8 L1121.2,2418.5 L1122.7,2415.2 L1124.2,2412.0 L1125.7,2408.9 L1127.2,2405.9 L1128.7,2402.9 L1130.2,2400.0 L1131.7,2397.1 L1133.2,2394.3 L1134.8,2391.6 L1136.3,2388.9 L1137.8,2386.3 L1139.3,2383.7 L1140.8,2381.1 L1142.3,2378.6 L1143.8,2376.1 L1145.3,2373.7 L1146.8,2371.3 L1148.3,2368.9 L1149.8,2366.5 L1151.3,2364.2 L1152.8,2362.0 L1154.3,2359.8 L1155.8,2357.6 L1157.3,2355.4 L1158.8,2353.3 L1160.3,2351.3 L1161.8,2349.3 L1163.3,2347.4 L1164.8,2345.5 L1166.3,2343.7 L1167.8,2342.0 L1169.3,2340.4 L1170.8,2338.8 L1172.3,2337.4 L1173.8,2335.9 L1175.4,2334.6 L1176.9,2333.4 L1178.4,2332.2 L1179.9,2331.1 L1181.4,2330.1 L1182.9,2329.1 L1184.4,2328.3 L1185.9,2327.5 L1187.4,2326.7 L1188.9,2326.1 L1190.4,2325.5 L1191.9,2324.9 L1193.4,2324.4 L1194.9,2323.9 L1196.4,2323.5 L1197.9,2323.2 L1199.4,2322.8 L1200.9,2322.5 L1202.4,2322.3 L1203.9,2322.1 L1205.4,2321.9 L1206.9,2321.7 L1208.4,2321.5 L1209.9,2321.4 L1211.4,2321.3 L1212.9,2321.2 L1214.4,2321.1 L1216.0,2321.1 L1217.5,2321.1 L1219.0,2321.1 L1220.5,2321.1 L1222.0,2321.2 L1223.5,2321.3 L1225.0,2321.5 L1226.5,2321.7 L1228.0,2322.0 L1229.5,2322.3 L1231.0,2322.7 L1232.5,2323.1 L1234.0,2323.6 L1235.5,2324.1 L1237.0,2324.7 L1238.5,2325.3 L1240.0,2325.9 L1241.5,2326.6 L1243.0,2327.3 L1244.5,2328.0 L1246.0,2328.8 L1247.5,2329.6 L1249.0,2330.5 L1250.5,2331.3 L1252.0,2332.2 L1253.5,2333.1 L1255.1,2334.0 L1256.6,2335.0 L1258.1,2335.9 L1259.6,2336.9 L1261.1,2337.9 L1262.6,2338.9 L1264.1,2339.9 L1265.6,2340.9 L1267.1,2341.9 L1268.6,2342.9 L1270.1,2343.8 L1271.6,2344.8 L1273.1,2345.8 L1274.6,2346.8 L1276.1,2347.7 L1277.6,2348.6 L1279.1,2349.6 L1280.6,2350.4 L1282.1,2351.3 L1283.6,2352.2 L1285.1,2353.0 L1286.6,2353.8 L1288.1,2354.6 L1289.6,2355.4 L1291.1,2356.2 L1292.6,2357.0 L1294.1,2357.7 L1295.7,2358.5 L1297.2,2359.2 L1298.7,2360.0 L1300.2,2360.7 L1301.7,2361.5 L1303.2,2362.2 L1304.7,2363.0 L1306.2,2363.8 L1307.7,2364.5 L1309.2,2365.3 L1310.7,2366.1 L1312.2,2366.8 L1313.7,2367.6 L1315.2,2368.3 L1316.7,2369.1 L1318.2,2369.8 L1319.7,2370.5 L1321.2,2371.2 L1322.7,2371.9 L1324.2,2372.6 L1325.7,2373.2 L1327.2,2373.9 L1328.7,2374.5 L1330.2,2375.1 L1331.7,2375.6 L1333.2,2376.2 L1334.8,2376.7 L1336.3,2377.2 L1337.8,2377.8 L1339.3,2378.3 L1340.8,2378.8 L1342.3,2379.2 L1343.8,2379.7 L1345.3,2380.2 L1346.8,2380.7 L1348.3,2381.2 L1349.8,2381.7 L1351.3,2382.2 L1352.8,2382.7 L1354.3,2383.2 L1355.8,2383.7 L1357.3,2384.2 L1358.8,2384.7 L1360.3,2385.2 L1361.8,2385.7 L1363.3,2386.3 L1364.8,2386.8 L1366.3,2387.4 L1367.8,2387.9 L1369.3,2388.5 L1370.8,2389.0 L1372.3,2389.6 L1373.8,2390.1 L1375.4,2390.7 L1376.9,2391.3 L1378.4,2391.9 L1379.9,2392.4 L1381.4,2393.0 L1382.9,2393.6 L1384.4,2394.2 L1385.9,2394.8 L1387.4,2395.4 L1388.9,2396.0 L1390.4,2396.6 L1391.9,2397.2 L1393.4,2397.7 L1394.9,2398.3 L1396.4,2398.9 L1397.9,2399.5 L1399.4,2400.1 L1400.9,2400.7 L1402.4,2401.3 L1403.9,2401.9 L1405.4,2402.4 L1406.9,2403.0 L1408.4,2403.6 L1409.9,2404.2 L1411.4,2404.8 L1412.9,2405.3 L1414.4,2405.9 L1416.0,2406.5 L1417.5,2407.1 L1419.0,2407.6 L1420.5,2408.2 L1422.0,2408.8 L1422.0,2408.8" stroke="#ff0000"/>
</g></g>
<g stroke="#000" fill="none" stroke-linecap="butt">
<line x1="297.6" y1="61.5" x2="297.6" y2="3029.0" stroke-width="7.6"/>
<line x1="2102.0" y1="61.5" x2="2102.0" y2="3029.0" stroke-width="5.8"/>
<line x1="293.8" y1="65.0" x2="2104.9" y2="65.0" stroke-width="7"/>
<line x1="297.6" y1="1442.0" x2="2102.0" y2="1442.0" stroke-width="7.6"/>
<line x1="297.6" y1="2234.3" x2="2102.0" y2="2234.3" stroke-width="7.6"/>
<line x1="293.8" y1="3026.0" x2="2104.9" y2="3026.0" stroke-width="5.8"/>
<line x1="297.6" y1="1781.6" x2="2102.0" y2="1781.6" stroke-width="8"/>
<line x1="330.8" y1="1442.0" x2="330.8" y2="1424.5" stroke-width="7.2"/>
<line x1="363.6" y1="1442.0" x2="363.6" y2="1424.5" stroke-width="7.2"/>
<line x1="396.3" y1="1442.0" x2="396.3" y2="1424.5" stroke-width="7.2"/>
<line x1="429.1" y1="1442.0" x2="429.1" y2="1424.5" stroke-width="7.2"/>
<line x1="461.9" y1="1442.0" x2="461.9" y2="1408.0" stroke-width="7.2"/>
<line x1="494.7" y1="1442.0" x2="494.7" y2="1424.5" stroke-width="7.2"/>
<line x1="527.5" y1="1442.0" x2="527.5" y2="1424.5" stroke-width="7.2"/>
<line x1="560.2" y1="1442.0" x2="560.2" y2="1424.5" stroke-width="7.2"/>
<line x1="593.0" y1="1442.0" x2="593.0" y2="1424.5" stroke-width="7.2"/>
<line x1="625.8" y1="1442.0" x2="625.8" y2="1408.0" stroke-width="7.2"/>
<line x1="658.6" y1="1442.0" x2="658.6" y2="1424.5" stroke-width="7.2"/>
<line x1="691.4" y1="1442.0" x2="691.4" y2="1424.5" stroke-width="7.2"/>
<line x1="724.1" y1="1442.0" x2="724.1" y2="1424.5" stroke-width="7.2"/>
<line x1="756.9" y1="1442.0" x2="756.9" y2="1424.5" stroke-width="7.2"/>
<line x1="789.7" y1="1442.0" x2="789.7" y2="1408.0" stroke-width="7.2"/>
<line x1="822.5" y1="1442.0" x2="822.5" y2="1424.5" stroke-width="7.2"/>
<line x1="855.3" y1="1442.0" x2="855.3" y2="1424.5" stroke-width="7.2"/>
<line x1="888.0" y1="1442.0" x2="888.0" y2="1424.5" stroke-width="7.2"/>
<line x1="920.8" y1="1442.0" x2="920.8" y2="1424.5" stroke-width="7.2"/>
<line x1="953.6" y1="1442.0" x2="953.6" y2="1408.0" stroke-width="7.2"/>
<line x1="986.4" y1="1442.0" x2="986.4" y2="1424.5" stroke-width="7.2"/>
<line x1="1019.2" y1="1442.0" x2="1019.2" y2="1424.5" stroke-width="7.2"/>
<line x1="1051.9" y1="1442.0" x2="1051.9" y2="1424.5" stroke-width="7.2"/>
<line x1="1084.7" y1="1442.0" x2="1084.7" y2="1424.5" stroke-width="7.2"/>
<line x1="1117.5" y1="1442.0" x2="1117.5" y2="1408.0" stroke-width="7.2"/>
<line x1="1150.3" y1="1442.0" x2="1150.3" y2="1424.5" stroke-width="7.2"/>
<line x1="1183.1" y1="1442.0" x2="1183.1" y2="1424.5" stroke-width="7.2"/>
<line x1="1215.8" y1="1442.0" x2="1215.8" y2="1424.5" stroke-width="7.2"/>
<line x1="1248.6" y1="1442.0" x2="1248.6" y2="1424.5" stroke-width="7.2"/>
<line x1="1281.4" y1="1442.0" x2="1281.4" y2="1408.0" stroke-width="7.2"/>
<line x1="1314.2" y1="1442.0" x2="1314.2" y2="1424.5" stroke-width="7.2"/>
<line x1="1347.0" y1="1442.0" x2="1347.0" y2="1424.5" stroke-width="7.2"/>
<line x1="1379.7" y1="1442.0" x2="1379.7" y2="1424.5" stroke-width="7.2"/>
<line x1="1412.5" y1="1442.0" x2="1412.5" y2="1424.5" stroke-width="7.2"/>
<line x1="1445.3" y1="1442.0" x2="1445.3" y2="1408.0" stroke-width="7.2"/>
<line x1="1478.1" y1="1442.0" x2="1478.1" y2="1424.5" stroke-width="7.2"/>
<line x1="1510.9" y1="1442.0" x2="1510.9" y2="1424.5" stroke-width="7.2"/>
<line x1="1543.6" y1="1442.0" x2="1543.6" y2="1424.5" stroke-width="7.2"/>
<line x1="1576.4" y1="1442.0" x2="1576.4" y2="1424.5" stroke-width="7.2"/>
<line x1="1609.2" y1="1442.0" x2="1609.2" y2="1408.0" stroke-width="7.2"/>
<line x1="1642.0" y1="1442.0" x2="1642.0" y2="1424.5" stroke-width="7.2"/>
<line x1="1674.8" y1="1442.0" x2="1674.8" y2="1424.5" stroke-width="7.2"/>
<line x1="1707.5" y1="1442.0" x2="1707.5" y2="1424.5" stroke-width="7.2"/>
<line x1="1740.3" y1="1442.0" x2="1740.3" y2="1424.5" stroke-width="7.2"/>
<line x1="1773.1" y1="1442.0" x2="1773.1" y2="1408.0" stroke-width="7.2"/>
<line x1="1805.9" y1="1442.0" x2="1805.9" y2="1424.5" stroke-width="7.2"/>
<line x1="1838.7" y1="1442.0" x2="1838.7" y2="1424.5" stroke-width="7.2"/>
<line x1="1871.4" y1="1442.0" x2="1871.4" y2="1424.5" stroke-width="7.2"/>
<line x1="1904.2" y1="1442.0" x2="1904.2" y2="1424.5" stroke-width="7.2"/>
<line x1="1937.0" y1="1442.0" x2="1937.0" y2="1408.0" stroke-width="7.2"/>
<line x1="1969.8" y1="1442.0" x2="1969.8" y2="1424.5" stroke-width="7.2"/>
<line x1="2002.6" y1="1442.0" x2="2002.6" y2="1424.5" stroke-width="7.2"/>
<line x1="2035.3" y1="1442.0" x2="2035.3" y2="1424.5" stroke-width="7.2"/>
<line x1="2068.1" y1="1442.0" x2="2068.1" y2="1424.5" stroke-width="7.2"/>
<line x1="330.8" y1="2234.3" x2="330.8" y2="2216.8" stroke-width="7.2"/>
<line x1="363.6" y1="2234.3" x2="363.6" y2="2216.8" stroke-width="7.2"/>
<line x1="396.3" y1="2234.3" x2="396.3" y2="2216.8" stroke-width="7.2"/>
<line x1="429.1" y1="2234.3" x2="429.1" y2="2216.8" stroke-width="7.2"/>
<line x1="461.9" y1="2234.3" x2="461.9" y2="2200.3" stroke-width="7.2"/>
<line x1="494.7" y1="2234.3" x2="494.7" y2="2216.8" stroke-width="7.2"/>
<line x1="527.5" y1="2234.3" x2="527.5" y2="2216.8" stroke-width="7.2"/>
<line x1="560.2" y1="2234.3" x2="560.2" y2="2216.8" stroke-width="7.2"/>
<line x1="593.0" y1="2234.3" x2="593.0" y2="2216.8" stroke-width="7.2"/>
<line x1="625.8" y1="2234.3" x2="625.8" y2="2200.3" stroke-width="7.2"/>
<line x1="658.6" y1="2234.3" x2="658.6" y2="2216.8" stroke-width="7.2"/>
<line x1="691.4" y1="2234.3" x2="691.4" y2="2216.8" stroke-width="7.2"/>
<line x1="724.1" y1="2234.3" x2="724.1" y2="2216.8" stroke-width="7.2"/>
<line x1="756.9" y1="2234.3" x2="756.9" y2="2216.8" stroke-width="7.2"/>
<line x1="789.7" y1="2234.3" x2="789.7" y2="2200.3" stroke-width="7.2"/>
<line x1="822.5" y1="2234.3" x2="822.5" y2="2216.8" stroke-width="7.2"/>
<line x1="855.3" y1="2234.3" x2="855.3" y2="2216.8" stroke-width="7.2"/>
<line x1="888.0" y1="2234.3" x2="888.0" y2="2216.8" stroke-width="7.2"/>
<line x1="920.8" y1="2234.3" x2="920.8" y2="2216.8" stroke-width="7.2"/>
<line x1="953.6" y1="2234.3" x2="953.6" y2="2200.3" stroke-width="7.2"/>
<line x1="986.4" y1="2234.3" x2="986.4" y2="2216.8" stroke-width="7.2"/>
<line x1="1019.2" y1="2234.3" x2="1019.2" y2="2216.8" stroke-width="7.2"/>
<line x1="1051.9" y1="2234.3" x2="1051.9" y2="2216.8" stroke-width="7.2"/>
<line x1="1084.7" y1="2234.3" x2="1084.7" y2="2216.8" stroke-width="7.2"/>
<line x1="1117.5" y1="2234.3" x2="1117.5" y2="2200.3" stroke-width="7.2"/>
<line x1="1150.3" y1="2234.3" x2="1150.3" y2="2216.8" stroke-width="7.2"/>
<line x1="1183.1" y1="2234.3" x2="1183.1" y2="2216.8" stroke-width="7.2"/>
<line x1="1215.8" y1="2234.3" x2="1215.8" y2="2216.8" stroke-width="7.2"/>
<line x1="1248.6" y1="2234.3" x2="1248.6" y2="2216.8" stroke-width="7.2"/>
<line x1="1281.4" y1="2234.3" x2="1281.4" y2="2200.3" stroke-width="7.2"/>
<line x1="1314.2" y1="2234.3" x2="1314.2" y2="2216.8" stroke-width="7.2"/>
<line x1="1347.0" y1="2234.3" x2="1347.0" y2="2216.8" stroke-width="7.2"/>
<line x1="1379.7" y1="2234.3" x2="1379.7" y2="2216.8" stroke-width="7.2"/>
<line x1="1412.5" y1="2234.3" x2="1412.5" y2="2216.8" stroke-width="7.2"/>
<line x1="1445.3" y1="2234.3" x2="1445.3" y2="2200.3" stroke-width="7.2"/>
<line x1="1478.1" y1="2234.3" x2="1478.1" y2="2216.8" stroke-width="7.2"/>
<line x1="1510.9" y1="2234.3" x2="1510.9" y2="2216.8" stroke-width="7.2"/>
<line x1="1543.6" y1="2234.3" x2="1543.6" y2="2216.8" stroke-width="7.2"/>
<line x1="1576.4" y1="2234.3" x2="1576.4" y2="2216.8" stroke-width="7.2"/>
<line x1="1609.2" y1="2234.3" x2="1609.2" y2="2200.3" stroke-width="7.2"/>
<line x1="1642.0" y1="2234.3" x2="1642.0" y2="2216.8" stroke-width="7.2"/>
<line x1="1674.8" y1="2234.3" x2="1674.8" y2="2216.8" stroke-width="7.2"/>
<line x1="1707.5" y1="2234.3" x2="1707.5" y2="2216.8" stroke-width="7.2"/>
<line x1="1740.3" y1="2234.3" x2="1740.3" y2="2216.8" stroke-width="7.2"/>
<line x1="1773.1" y1="2234.3" x2="1773.1" y2="2200.3" stroke-width="7.2"/>
<line x1="1805.9" y1="2234.3" x2="1805.9" y2="2216.8" stroke-width="7.2"/>
<line x1="1838.7" y1="2234.3" x2="1838.7" y2="2216.8" stroke-width="7.2"/>
<line x1="1871.4" y1="2234.3" x2="1871.4" y2="2216.8" stroke-width="7.2"/>
<line x1="1904.2" y1="2234.3" x2="1904.2" y2="2216.8" stroke-width="7.2"/>
<line x1="1937.0" y1="2234.3" x2="1937.0" y2="2200.3" stroke-width="7.2"/>
<line x1="1969.8" y1="2234.3" x2="1969.8" y2="2216.8" stroke-width="7.2"/>
<line x1="2002.6" y1="2234.3" x2="2002.6" y2="2216.8" stroke-width="7.2"/>
<line x1="2035.3" y1="2234.3" x2="2035.3" y2="2216.8" stroke-width="7.2"/>
<line x1="2068.1" y1="2234.3" x2="2068.1" y2="2216.8" stroke-width="7.2"/>
<line x1="330.8" y1="3026.0" x2="330.8" y2="3008.5" stroke-width="7.2"/>
<line x1="363.6" y1="3026.0" x2="363.6" y2="3008.5" stroke-width="7.2"/>
<line x1="396.3" y1="3026.0" x2="396.3" y2="3008.5" stroke-width="7.2"/>
<line x1="429.1" y1="3026.0" x2="429.1" y2="3008.5" stroke-width="7.2"/>
<line x1="461.9" y1="3026.0" x2="461.9" y2="2992.0" stroke-width="7.2"/>
<line x1="494.7" y1="3026.0" x2="494.7" y2="3008.5" stroke-width="7.2"/>
<line x1="527.5" y1="3026.0" x2="527.5" y2="3008.5" stroke-width="7.2"/>
<line x1="560.2" y1="3026.0" x2="560.2" y2="3008.5" stroke-width="7.2"/>
<line x1="593.0" y1="3026.0" x2="593.0" y2="3008.5" stroke-width="7.2"/>
<line x1="625.8" y1="3026.0" x2="625.8" y2="2992.0" stroke-width="7.2"/>
<line x1="658.6" y1="3026.0" x2="658.6" y2="3008.5" stroke-width="7.2"/>
<line x1="691.4" y1="3026.0" x2="691.4" y2="3008.5" stroke-width="7.2"/>
<line x1="724.1" y1="3026.0" x2="724.1" y2="3008.5" stroke-width="7.2"/>
<line x1="756.9" y1="3026.0" x2="756.9" y2="3008.5" stroke-width="7.2"/>
<line x1="789.7" y1="3026.0" x2="789.7" y2="2992.0" stroke-width="7.2"/>
<line x1="822.5" y1="3026.0" x2="822.5" y2="3008.5" stroke-width="7.2"/>
<line x1="855.3" y1="3026.0" x2="855.3" y2="3008.5" stroke-width="7.2"/>
<line x1="888.0" y1="3026.0" x2="888.0" y2="3008.5" stroke-width="7.2"/>
<line x1="920.8" y1="3026.0" x2="920.8" y2="3008.5" stroke-width="7.2"/>
<line x1="953.6" y1="3026.0" x2="953.6" y2="2992.0" stroke-width="7.2"/>
<line x1="986.4" y1="3026.0" x2="986.4" y2="3008.5" stroke-width="7.2"/>
<line x1="1019.2" y1="3026.0" x2="1019.2" y2="3008.5" stroke-width="7.2"/>
<line x1="1051.9" y1="3026.0" x2="1051.9" y2="3008.5" stroke-width="7.2"/>
<line x1="1084.7" y1="3026.0" x2="1084.7" y2="3008.5" stroke-width="7.2"/>
<line x1="1117.5" y1="3026.0" x2="1117.5" y2="2992.0" stroke-width="7.2"/>
<line x1="1150.3" y1="3026.0" x2="1150.3" y2="3008.5" stroke-width="7.2"/>
<line x1="1183.1" y1="3026.0" x2="1183.1" y2="3008.5" stroke-width="7.2"/>
<line x1="1215.8" y1="3026.0" x2="1215.8" y2="3008.5" stroke-width="7.2"/>
<line x1="1248.6" y1="3026.0" x2="1248.6" y2="3008.5" stroke-width="7.2"/>
<line x1="1281.4" y1="3026.0" x2="1281.4" y2="2992.0" stroke-width="7.2"/>
<line x1="1314.2" y1="3026.0" x2="1314.2" y2="3008.5" stroke-width="7.2"/>
<line x1="1347.0" y1="3026.0" x2="1347.0" y2="3008.5" stroke-width="7.2"/>
<line x1="1379.7" y1="3026.0" x2="1379.7" y2="3008.5" stroke-width="7.2"/>
<line x1="1412.5" y1="3026.0" x2="1412.5" y2="3008.5" stroke-width="7.2"/>
<line x1="1445.3" y1="3026.0" x2="1445.3" y2="2992.0" stroke-width="7.2"/>
<line x1="1478.1" y1="3026.0" x2="1478.1" y2="3008.5" stroke-width="7.2"/>
<line x1="1510.9" y1="3026.0" x2="1510.9" y2="3008.5" stroke-width="7.2"/>
<line x1="1543.6" y1="3026.0" x2="1543.6" y2="3008.5" stroke-width="7.2"/>
<line x1="1576.4" y1="3026.0" x2="1576.4" y2="3008.5" stroke-width="7.2"/>
<line x1="1609.2" y1="3026.0" x2="1609.2" y2="2992.0" stroke-width="7.2"/>
<line x1="1642.0" y1="3026.0" x2="1642.0" y2="3008.5" stroke-width="7.2"/>
<line x1="1674.8" y1="3026.0" x2="1674.8" y2="3008.5" stroke-width="7.2"/>
<line x1="1707.5" y1="3026.0" x2="1707.5" y2="3008.5" stroke-width="7.2"/>
<line x1="1740.3" y1="3026.0" x2="1740.3" y2="3008.5" stroke-width="7.2"/>
<line x1="1773.1" y1="3026.0" x2="1773.1" y2="2992.0" stroke-width="7.2"/>
<line x1="1805.9" y1="3026.0" x2="1805.9" y2="3008.5" stroke-width="7.2"/>
<line x1="1838.7" y1="3026.0" x2="1838.7" y2="3008.5" stroke-width="7.2"/>
<line x1="1871.4" y1="3026.0" x2="1871.4" y2="3008.5" stroke-width="7.2"/>
<line x1="1904.2" y1="3026.0" x2="1904.2" y2="3008.5" stroke-width="7.2"/>
<line x1="1937.0" y1="3026.0" x2="1937.0" y2="2992.0" stroke-width="7.2"/>
<line x1="1969.8" y1="3026.0" x2="1969.8" y2="3008.5" stroke-width="7.2"/>
<line x1="2002.6" y1="3026.0" x2="2002.6" y2="3008.5" stroke-width="7.2"/>
<line x1="2035.3" y1="3026.0" x2="2035.3" y2="3008.5" stroke-width="7.2"/>
<line x1="2068.1" y1="3026.0" x2="2068.1" y2="3008.5" stroke-width="7.2"/>
<line x1="297.6" y1="1396.1" x2="315.1" y2="1396.1" stroke-width="5.8"/>
<line x1="297.6" y1="1350.2" x2="315.1" y2="1350.2" stroke-width="5.8"/>
<line x1="297.6" y1="1304.3" x2="315.1" y2="1304.3" stroke-width="5.8"/>
<line x1="297.6" y1="1258.4" x2="315.1" y2="1258.4" stroke-width="5.8"/>
<line x1="297.6" y1="1212.5" x2="331.6" y2="1212.5" stroke-width="5.8"/>
<line x1="297.6" y1="1166.6" x2="315.1" y2="1166.6" stroke-width="5.8"/>
<line x1="297.6" y1="1120.7" x2="315.1" y2="1120.7" stroke-width="5.8"/>
<line x1="297.6" y1="1074.8" x2="315.1" y2="1074.8" stroke-width="5.8"/>
<line x1="297.6" y1="1028.9" x2="315.1" y2="1028.9" stroke-width="5.8"/>
<line x1="297.6" y1="983.0" x2="331.6" y2="983.0" stroke-width="5.8"/>
<line x1="297.6" y1="937.1" x2="315.1" y2="937.1" stroke-width="5.8"/>
<line x1="297.6" y1="891.2" x2="315.1" y2="891.2" stroke-width="5.8"/>
<line x1="297.6" y1="845.3" x2="315.1" y2="845.3" stroke-width="5.8"/>
<line x1="297.6" y1="799.4" x2="315.1" y2="799.4" stroke-width="5.8"/>
<line x1="297.6" y1="753.5" x2="331.6" y2="753.5" stroke-width="5.8"/>
<line x1="297.6" y1="707.6" x2="315.1" y2="707.6" stroke-width="5.8"/>
<line x1="297.6" y1="661.7" x2="315.1" y2="661.7" stroke-width="5.8"/>
<line x1="297.6" y1="615.8" x2="315.1" y2="615.8" stroke-width="5.8"/>
<line x1="297.6" y1="569.9" x2="315.1" y2="569.9" stroke-width="5.8"/>
<line x1="297.6" y1="524.0" x2="331.6" y2="524.0" stroke-width="5.8"/>
<line x1="297.6" y1="478.1" x2="315.1" y2="478.1" stroke-width="5.8"/>
<line x1="297.6" y1="432.2" x2="315.1" y2="432.2" stroke-width="5.8"/>
<line x1="297.6" y1="386.3" x2="315.1" y2="386.3" stroke-width="5.8"/>
<line x1="297.6" y1="340.4" x2="315.1" y2="340.4" stroke-width="5.8"/>
<line x1="297.6" y1="294.5" x2="331.6" y2="294.5" stroke-width="5.8"/>
<line x1="297.6" y1="248.6" x2="315.1" y2="248.6" stroke-width="5.8"/>
<line x1="297.6" y1="202.7" x2="315.1" y2="202.7" stroke-width="5.8"/>
<line x1="297.6" y1="156.8" x2="315.1" y2="156.8" stroke-width="5.8"/>
<line x1="297.6" y1="110.9" x2="315.1" y2="110.9" stroke-width="5.8"/>
<line x1="297.6" y1="2121.1" x2="315.1" y2="2121.1" stroke-width="5.8"/>
<line x1="297.6" y1="2007.9" x2="331.6" y2="2007.9" stroke-width="5.8"/>
<line x1="297.6" y1="1894.7" x2="315.1" y2="1894.7" stroke-width="5.8"/>
<line x1="297.6" y1="1668.4" x2="315.1" y2="1668.4" stroke-width="5.8"/>
<line x1="297.6" y1="1555.2" x2="331.6" y2="1555.2" stroke-width="5.8"/>
<line x1="297.6" y1="2912.9" x2="331.6" y2="2912.9" stroke-width="5.8"/>
<line x1="297.6" y1="2799.8" x2="315.1" y2="2799.8" stroke-width="5.8"/>
<line x1="297.6" y1="2686.7" x2="331.6" y2="2686.7" stroke-width="5.8"/>
<line x1="297.6" y1="2573.6" x2="315.1" y2="2573.6" stroke-width="5.8"/>
<line x1="297.6" y1="2460.5" x2="331.6" y2="2460.5" stroke-width="5.8"/>
<line x1="297.6" y1="2347.4" x2="315.1" y2="2347.4" stroke-width="5.8"/>
</g>
<g stroke="#000" fill="none">
<line x1="544.5" y1="1127" x2="544.5" y2="1564.5" stroke-width="5.1"/>
<line x1="792.6" y1="889.7" x2="792.6" y2="1671.0" stroke-width="5.1"/>
<line x1="879.9" y1="832.3" x2="877.1" y2="2333.5" stroke-width="5.2"/>
<line x1="1290.5" y1="415" x2="1290.5" y2="1777" stroke-width="2.8"/>
<line x1="1290.5" y1="1937" x2="1290.5" y2="2862" stroke-width="2.8"/>
<line x1="1617.8" y1="890" x2="1617.8" y2="2338.5" stroke-width="2.7"/>
<line x1="1759.7" y1="994" x2="1759.7" y2="2426" stroke-width="2.7"/>
</g>
<path d="M543.3,1565.0 Q534.2,1540.7 532.4,1516.3 L544.5,1525.3 L556.6,1516.3 Q554.8,1540.7 545.7,1565.0 Z" fill="#000"/>
<path d="M791.4,1671.4 Q782.3,1647.2 780.5,1623.1 L792.6,1632.1 L804.7,1623.1 Q802.9,1647.2 793.8000000000001,1671.4 Z" fill="#000"/>
<path d="M875.1,2333.7 L864.7,2301.8 L889.5,2301.8 L879.1,2333.7 Z" fill="#000"/>
<path d="M1289.3,1777.8 Q1280.2,1754.9 1278.4,1732.0 L1290.5,1741.0 L1302.6,1732.0 Q1300.8,1754.9 1291.7,1777.8 Z" fill="#000"/>
<path d="M1289.3,2862.6 Q1280.2,2839.5 1278.4,2816.5 L1290.5,2825.5 L1302.6,2816.5 Q1300.8,2839.5 1291.7,2862.6 Z" fill="#000"/>
<path d="M1616.6,2339.2 Q1607.5,2316.1 1605.7,2293.1 L1617.8,2302.1 L1629.8999999999999,2293.1 Q1628.1,2316.1 1619.0,2339.2 Z" fill="#000"/>
<path d="M1758.5,2426.6 Q1749.4,2402.2 1747.6000000000001,2377.9 L1759.7,2386.9 L1771.8,2377.9 Q1770.0,2402.2 1760.9,2426.6 Z" fill="#000"/>
<rect x="1702.3" y="97.5" width="368.3" height="373.8" fill="#fff" stroke="#000" stroke-width="2.6"/>
<g font-family="'Liberation Sans', Arial, sans-serif" fill="#000" font-size="60.5">
<line x1="1706.8" y1="138.3" x2="1847.4" y2="138.3" stroke="#ff0000" stroke-width="7.8"/>
<text transform="translate(1861,157.3) scale(0.958,1)">PLA</text>
<line x1="1706.8" y1="212" x2="1847.4" y2="212" stroke="#008000" stroke-width="7.8" stroke-dasharray="40 20 14.5 20 14 20.35"/>
<text transform="translate(1861,231) scale(0.958,1)">PLA75</text>
<line x1="1706.8" y1="283.8" x2="1847.4" y2="283.8" stroke="#ff00ff" stroke-width="7.8" stroke-dasharray="52.5 20 14 20.05"/>
<text transform="translate(1861,302.8) scale(0.958,1)">PLA50</text>
<line x1="1706.8" y1="356.8" x2="1847.4" y2="356.8" stroke="#ff8000" stroke-width="7.8" stroke-dasharray="43.2 41.7"/>
<text transform="translate(1861,375.8) scale(0.958,1)">PLA25</text>
<line x1="1706.8" y1="429" x2="1847.4" y2="429" stroke="#0000ff" stroke-width="10.4"/>
<text transform="translate(1861,448) scale(0.958,1)">LMDPE</text>
</g>
<g font-family="'Liberation Sans', Arial, sans-serif" fill="#000">
<text transform="translate(257.5,1233.6) scale(0.985,1)" font-size="68" text-anchor="end" >50</text>
<text transform="translate(257.5,1004.1) scale(0.985,1)" font-size="68" text-anchor="end" >100</text>
<text transform="translate(257.5,774.6) scale(0.985,1)" font-size="68" text-anchor="end" >150</text>
<text transform="translate(257.5,545.1) scale(0.985,1)" font-size="68" text-anchor="end" >200</text>
<text transform="translate(257.5,315.6) scale(0.985,1)" font-size="68" text-anchor="end" >250</text>
<text transform="translate(257.5,86.1) scale(0.985,1)" font-size="68" text-anchor="end" >300</text>
<text transform="translate(257.5,1461.6) scale(0.985,1)" font-size="68" text-anchor="end" >0</text>
<text transform="translate(257.5,1575.3) scale(0.985,1)" font-size="68" text-anchor="end" >10</text>
<text transform="translate(257.5,1801.6) scale(0.985,1)" font-size="68" text-anchor="end" >0</text>
<text transform="translate(257.5,2028.0) scale(0.985,1)" font-size="68" text-anchor="end" >-10</text>
<text transform="translate(257.5,2254.4) scale(0.985,1)" font-size="68" text-anchor="end" >2</text>
<text transform="translate(257.5,2481.1) scale(0.985,1)" font-size="68" text-anchor="end" >0</text>
<text transform="translate(257.5,2707.3) scale(0.985,1)" font-size="68" text-anchor="end" >-2</text>
<text transform="translate(257.5,2933.5) scale(0.985,1)" font-size="68" text-anchor="end" >-4</text>
<text transform="translate(298.0,3116.5) scale(0.985,1)" font-size="68" text-anchor="middle" >0</text>
<text transform="translate(461.9,3116.5) scale(0.985,1)" font-size="68" text-anchor="middle" >5</text>
<text transform="translate(625.8,3116.5) scale(0.985,1)" font-size="68" text-anchor="middle" >10</text>
<text transform="translate(789.7,3116.5) scale(0.985,1)" font-size="68" text-anchor="middle" >15</text>
<text transform="translate(953.6,3116.5) scale(0.985,1)" font-size="68" text-anchor="middle" >20</text>
<text transform="translate(1117.5,3116.5) scale(0.985,1)" font-size="68" text-anchor="middle" >25</text>
<text transform="translate(1281.4,3116.5) scale(0.985,1)" font-size="68" text-anchor="middle" >30</text>
<text transform="translate(1445.3,3116.5) scale(0.985,1)" font-size="68" text-anchor="middle" >35</text>
<text transform="translate(1609.2,3116.5) scale(0.985,1)" font-size="68" text-anchor="middle" >40</text>
<text transform="translate(1773.1,3116.5) scale(0.985,1)" font-size="68" text-anchor="middle" >45</text>
<text transform="translate(1937.0,3116.5) scale(0.985,1)" font-size="68" text-anchor="middle" >50</text>
<text transform="translate(2100.9,3116.5) scale(0.985,1)" font-size="68" text-anchor="middle" >55</text>
<text transform="translate(1200.0,3246.5) scale(0.98,1)" font-size="85" text-anchor="middle" >Time (min)</text>
<text transform="translate(110.5,731) rotate(-90) scale(0.98,1)" font-size="85" text-anchor="middle">T (°C)</text>
<text transform="translate(110.5,1839) rotate(-90) scale(0.98,1)" font-size="85" text-anchor="middle">dT/dt (°C/min)</text>
<text transform="translate(113,2630) rotate(-90) scale(0.98,1)" font-size="85" text-anchor="middle">d<tspan font-size="52" dy="-30">2</tspan><tspan dy="30">T/dt</tspan><tspan font-size="52" dy="-30">2</tspan><tspan dy="30"> (°C/min</tspan><tspan font-size="52" dy="-30">2</tspan><tspan dy="30">)</tspan></text>
<text transform="translate(505.94,1003.80) scale(0.9645,1.0006)" font-size="86">A</text>
<text transform="translate(796.23,772.00) scale(1.0159,1.0073)" font-size="86">B</text>
<text transform="translate(1282.34,220.64) scale(0.9529,1.0265)" font-size="86">C</text>
<text transform="translate(1601.40,771.60) scale(0.9639,1.0022)" font-size="86">D</text>
<text transform="translate(1751.95,922.20) scale(0.9290,1.0073)" font-size="86">E</text>
<text transform="translate(1967.12,1088.60) scale(0.9754,1.0191)" font-size="86">F</text>
<text transform="translate(1989.69,1356.89) scale(0.9176,1.0186)" font-size="112" font-weight="bold">a</text>
<text transform="translate(2060.29,1357.46) scale(0.9937,1.1446)" font-size="104">)</text>
<text transform="translate(1979.54,2149.35) scale(1.0649,1.0492)" font-size="112" font-weight="bold">b</text>
<text transform="translate(2057.79,2148.67) scale(0.9937,1.1209)" font-size="104">)</text>
<text transform="translate(1985.61,2942.99) scale(1.0488,1.0186)" font-size="112" font-weight="bold">c</text>
<text transform="translate(2057.79,2944.20) scale(0.9937,1.1518)" font-size="104">)</text>
</g>
</svg>
</body>
</html>
